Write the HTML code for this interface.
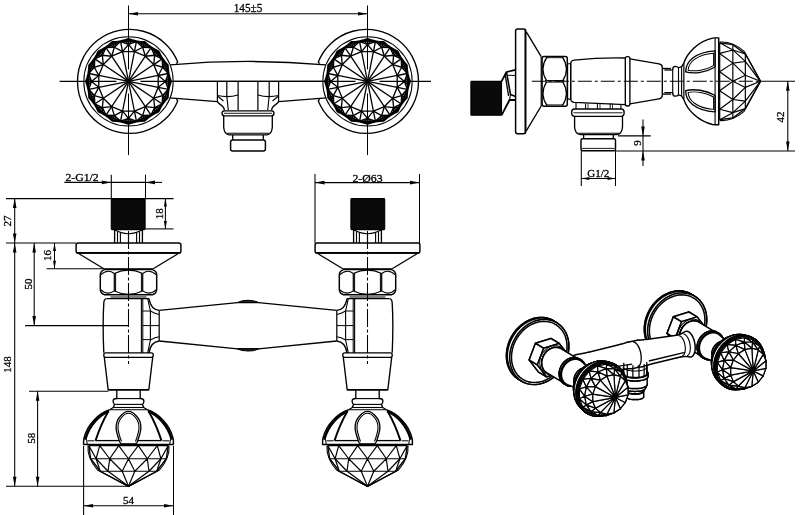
<!DOCTYPE html>
<html><head><meta charset="utf-8"><title>Drawing</title>
<style>html,body{margin:0;padding:0;background:#fff;}body{width:800px;height:515px;position:relative;overflow:hidden;font-family:"Liberation Sans",sans-serif;}svg{filter:blur(0.45px)}</style></head>
<body><svg width="800" height="515" viewBox="0 0 800 515" style="display:block;position:absolute;left:0;top:0" stroke-linecap="butt" stroke-linejoin="round"><line x1="128.5" y1="5.5" x2="128.5" y2="69.4" stroke="#000" stroke-width="1.06"/>
<line x1="128.5" y1="93.4" x2="128.5" y2="155" stroke="#000" stroke-width="1.06"/>
<line x1="367.5" y1="5.5" x2="367.5" y2="69.4" stroke="#000" stroke-width="1.06"/>
<line x1="367.5" y1="93.4" x2="367.5" y2="155" stroke="#000" stroke-width="1.06"/>
<line x1="128.5" y1="13.7" x2="367.5" y2="13.7" stroke="#000" stroke-width="1.06"/>
<path d="M128.5,13.7 L138,11.9 L138,15.5 Z" fill="#000" stroke="none"/>
<path d="M367.5,13.7 L358,15.5 L358,11.9 Z" fill="#000" stroke="none"/>
<text x="248" y="12.3" font-family="Liberation Serif" font-size="12" font-weight="normal" text-anchor="middle" fill="#000" stroke="#000" stroke-width="0.3" textLength="28.5" lengthAdjust="spacingAndGlyphs">145±5</text>
<line x1="59.6" y1="81.4" x2="116.4" y2="81.4" stroke="#000" stroke-width="1.06"/>
<line x1="140.5" y1="81.4" x2="355.5" y2="81.4" stroke="#000" stroke-width="1.06"/>
<line x1="379.5" y1="81.4" x2="431" y2="81.4" stroke="#000" stroke-width="1.06"/>
<line x1="172.8" y1="81.4" x2="323.2" y2="81.4" stroke="#000" stroke-width="1.34"/>
<path d="M176.41,63.72 L177.71,61.92 A52,52 0 1 0 177.71,100.88 L176.41,99.08" stroke="#000" stroke-width="1.34" fill="none"/>
<circle cx="128.5" cy="81.4" r="44.7" stroke="#000" stroke-width="1.01" fill="none"/>
<line x1="128.5" y1="81.4" x2="158.22" y2="87.31" stroke="#000" stroke-width="1.29"/>
<line x1="128.5" y1="81.4" x2="153.69" y2="98.23" stroke="#000" stroke-width="1.29"/>
<line x1="128.5" y1="81.4" x2="145.33" y2="106.59" stroke="#000" stroke-width="1.29"/>
<line x1="128.5" y1="81.4" x2="134.41" y2="111.12" stroke="#000" stroke-width="1.29"/>
<line x1="128.5" y1="81.4" x2="122.59" y2="111.12" stroke="#000" stroke-width="1.29"/>
<line x1="128.5" y1="81.4" x2="111.67" y2="106.59" stroke="#000" stroke-width="1.29"/>
<line x1="128.5" y1="81.4" x2="103.31" y2="98.23" stroke="#000" stroke-width="1.29"/>
<line x1="128.5" y1="81.4" x2="98.78" y2="87.31" stroke="#000" stroke-width="1.29"/>
<line x1="128.5" y1="81.4" x2="98.78" y2="75.49" stroke="#000" stroke-width="1.29"/>
<line x1="128.5" y1="81.4" x2="103.31" y2="64.57" stroke="#000" stroke-width="1.29"/>
<line x1="128.5" y1="81.4" x2="111.67" y2="56.21" stroke="#000" stroke-width="1.29"/>
<line x1="128.5" y1="81.4" x2="122.59" y2="51.68" stroke="#000" stroke-width="1.29"/>
<line x1="128.5" y1="81.4" x2="134.41" y2="51.68" stroke="#000" stroke-width="1.29"/>
<line x1="128.5" y1="81.4" x2="145.33" y2="56.21" stroke="#000" stroke-width="1.29"/>
<line x1="128.5" y1="81.4" x2="153.69" y2="64.57" stroke="#000" stroke-width="1.29"/>
<line x1="128.5" y1="81.4" x2="158.22" y2="75.49" stroke="#000" stroke-width="1.29"/>
<path d="M158.22,87.31 L153.69,98.23 L145.33,106.59 L134.41,111.12 L122.59,111.12 L111.67,106.59 L103.31,98.23 L98.78,87.31 L98.78,75.49 L103.31,64.57 L111.67,56.21 L122.59,51.68 L134.41,51.68 L145.33,56.21 L153.69,64.57 L158.22,75.49 Z" stroke="#000" stroke-width="1.34" fill="none"/>
<path d="M158.22,75.49 L165.5,81.4 L158.22,87.31" stroke="#000" stroke-width="1.34" fill="none"/>
<path d="M168.32,73.48 L165.5,81.4 L168.32,89.32" stroke="#000" stroke-width="1.46" fill="none"/>
<line x1="158.22" y1="87.31" x2="168.32" y2="89.32" stroke="#000" stroke-width="1.34"/>
<line x1="165.5" y1="81.4" x2="170.7" y2="81.4" stroke="#000" stroke-width="1.46"/>
<line x1="165.5" y1="81.4" x2="169.3" y2="85.42" stroke="#000" stroke-width="1.12"/>
<line x1="165.5" y1="81.4" x2="169.3" y2="77.38" stroke="#000" stroke-width="1.12"/>
<path d="M158.22,87.31 L162.68,95.56 L153.69,98.23" stroke="#000" stroke-width="1.34" fill="none"/>
<path d="M168.32,89.32 L162.68,95.56 L162.26,103.96" stroke="#000" stroke-width="1.46" fill="none"/>
<line x1="153.69" y1="98.23" x2="162.26" y2="103.96" stroke="#000" stroke-width="1.34"/>
<line x1="162.68" y1="95.56" x2="167.49" y2="97.55" stroke="#000" stroke-width="1.46"/>
<line x1="162.68" y1="95.56" x2="164.66" y2="100.73" stroke="#000" stroke-width="1.12"/>
<line x1="162.68" y1="95.56" x2="167.73" y2="93.3" stroke="#000" stroke-width="1.12"/>
<path d="M153.69,98.23 L154.66,107.56 L145.33,106.59" stroke="#000" stroke-width="1.34" fill="none"/>
<path d="M162.26,103.96 L154.66,107.56 L151.06,115.16" stroke="#000" stroke-width="1.46" fill="none"/>
<line x1="145.33" y1="106.59" x2="151.06" y2="115.16" stroke="#000" stroke-width="1.34"/>
<line x1="154.66" y1="107.56" x2="158.34" y2="111.24" stroke="#000" stroke-width="1.46"/>
<line x1="154.66" y1="107.56" x2="154.51" y2="113.09" stroke="#000" stroke-width="1.12"/>
<line x1="154.66" y1="107.56" x2="160.19" y2="107.41" stroke="#000" stroke-width="1.12"/>
<path d="M145.33,106.59 L142.66,115.58 L134.41,111.12" stroke="#000" stroke-width="1.34" fill="none"/>
<path d="M151.06,115.16 L142.66,115.58 L136.42,121.22" stroke="#000" stroke-width="1.46" fill="none"/>
<line x1="134.41" y1="111.12" x2="136.42" y2="121.22" stroke="#000" stroke-width="1.34"/>
<line x1="142.66" y1="115.58" x2="144.65" y2="120.39" stroke="#000" stroke-width="1.46"/>
<line x1="142.66" y1="115.58" x2="140.4" y2="120.63" stroke="#000" stroke-width="1.12"/>
<line x1="142.66" y1="115.58" x2="147.83" y2="117.56" stroke="#000" stroke-width="1.12"/>
<path d="M134.41,111.12 L128.5,118.4 L122.59,111.12" stroke="#000" stroke-width="1.34" fill="none"/>
<path d="M136.42,121.22 L128.5,118.4 L120.58,121.22" stroke="#000" stroke-width="1.46" fill="none"/>
<line x1="122.59" y1="111.12" x2="120.58" y2="121.22" stroke="#000" stroke-width="1.34"/>
<line x1="128.5" y1="118.4" x2="128.5" y2="123.6" stroke="#000" stroke-width="1.46"/>
<line x1="128.5" y1="118.4" x2="124.48" y2="122.2" stroke="#000" stroke-width="1.12"/>
<line x1="128.5" y1="118.4" x2="132.52" y2="122.2" stroke="#000" stroke-width="1.12"/>
<path d="M122.59,111.12 L114.34,115.58 L111.67,106.59" stroke="#000" stroke-width="1.34" fill="none"/>
<path d="M120.58,121.22 L114.34,115.58 L105.94,115.16" stroke="#000" stroke-width="1.46" fill="none"/>
<line x1="111.67" y1="106.59" x2="105.94" y2="115.16" stroke="#000" stroke-width="1.34"/>
<line x1="114.34" y1="115.58" x2="112.35" y2="120.39" stroke="#000" stroke-width="1.46"/>
<line x1="114.34" y1="115.58" x2="109.17" y2="117.56" stroke="#000" stroke-width="1.12"/>
<line x1="114.34" y1="115.58" x2="116.6" y2="120.63" stroke="#000" stroke-width="1.12"/>
<path d="M111.67,106.59 L102.34,107.56 L103.31,98.23" stroke="#000" stroke-width="1.34" fill="none"/>
<path d="M105.94,115.16 L102.34,107.56 L94.74,103.96" stroke="#000" stroke-width="1.46" fill="none"/>
<line x1="103.31" y1="98.23" x2="94.74" y2="103.96" stroke="#000" stroke-width="1.34"/>
<line x1="102.34" y1="107.56" x2="98.66" y2="111.24" stroke="#000" stroke-width="1.46"/>
<line x1="102.34" y1="107.56" x2="96.81" y2="107.41" stroke="#000" stroke-width="1.12"/>
<line x1="102.34" y1="107.56" x2="102.49" y2="113.09" stroke="#000" stroke-width="1.12"/>
<path d="M103.31,98.23 L94.32,95.56 L98.78,87.31" stroke="#000" stroke-width="1.34" fill="none"/>
<path d="M94.74,103.96 L94.32,95.56 L88.68,89.32" stroke="#000" stroke-width="1.46" fill="none"/>
<line x1="98.78" y1="87.31" x2="88.68" y2="89.32" stroke="#000" stroke-width="1.34"/>
<line x1="94.32" y1="95.56" x2="89.51" y2="97.55" stroke="#000" stroke-width="1.46"/>
<line x1="94.32" y1="95.56" x2="89.27" y2="93.3" stroke="#000" stroke-width="1.12"/>
<line x1="94.32" y1="95.56" x2="92.34" y2="100.73" stroke="#000" stroke-width="1.12"/>
<path d="M98.78,87.31 L91.5,81.4 L98.78,75.49" stroke="#000" stroke-width="1.34" fill="none"/>
<path d="M88.68,89.32 L91.5,81.4 L88.68,73.48" stroke="#000" stroke-width="1.46" fill="none"/>
<line x1="98.78" y1="75.49" x2="88.68" y2="73.48" stroke="#000" stroke-width="1.34"/>
<line x1="91.5" y1="81.4" x2="86.3" y2="81.4" stroke="#000" stroke-width="1.46"/>
<line x1="91.5" y1="81.4" x2="87.7" y2="77.38" stroke="#000" stroke-width="1.12"/>
<line x1="91.5" y1="81.4" x2="87.7" y2="85.42" stroke="#000" stroke-width="1.12"/>
<path d="M98.78,75.49 L94.32,67.24 L103.31,64.57" stroke="#000" stroke-width="1.34" fill="none"/>
<path d="M88.68,73.48 L94.32,67.24 L94.74,58.84" stroke="#000" stroke-width="1.46" fill="none"/>
<line x1="103.31" y1="64.57" x2="94.74" y2="58.84" stroke="#000" stroke-width="1.34"/>
<line x1="94.32" y1="67.24" x2="89.51" y2="65.25" stroke="#000" stroke-width="1.46"/>
<line x1="94.32" y1="67.24" x2="92.34" y2="62.07" stroke="#000" stroke-width="1.12"/>
<line x1="94.32" y1="67.24" x2="89.27" y2="69.5" stroke="#000" stroke-width="1.12"/>
<path d="M103.31,64.57 L102.34,55.24 L111.67,56.21" stroke="#000" stroke-width="1.34" fill="none"/>
<path d="M94.74,58.84 L102.34,55.24 L105.94,47.64" stroke="#000" stroke-width="1.46" fill="none"/>
<line x1="111.67" y1="56.21" x2="105.94" y2="47.64" stroke="#000" stroke-width="1.34"/>
<line x1="102.34" y1="55.24" x2="98.66" y2="51.56" stroke="#000" stroke-width="1.46"/>
<line x1="102.34" y1="55.24" x2="102.49" y2="49.71" stroke="#000" stroke-width="1.12"/>
<line x1="102.34" y1="55.24" x2="96.81" y2="55.39" stroke="#000" stroke-width="1.12"/>
<path d="M111.67,56.21 L114.34,47.22 L122.59,51.68" stroke="#000" stroke-width="1.34" fill="none"/>
<path d="M105.94,47.64 L114.34,47.22 L120.58,41.58" stroke="#000" stroke-width="1.46" fill="none"/>
<line x1="122.59" y1="51.68" x2="120.58" y2="41.58" stroke="#000" stroke-width="1.34"/>
<line x1="114.34" y1="47.22" x2="112.35" y2="42.41" stroke="#000" stroke-width="1.46"/>
<line x1="114.34" y1="47.22" x2="116.6" y2="42.17" stroke="#000" stroke-width="1.12"/>
<line x1="114.34" y1="47.22" x2="109.17" y2="45.24" stroke="#000" stroke-width="1.12"/>
<path d="M122.59,51.68 L128.5,44.4 L134.41,51.68" stroke="#000" stroke-width="1.34" fill="none"/>
<path d="M120.58,41.58 L128.5,44.4 L136.42,41.58" stroke="#000" stroke-width="1.46" fill="none"/>
<line x1="134.41" y1="51.68" x2="136.42" y2="41.58" stroke="#000" stroke-width="1.34"/>
<line x1="128.5" y1="44.4" x2="128.5" y2="39.2" stroke="#000" stroke-width="1.46"/>
<line x1="128.5" y1="44.4" x2="132.52" y2="40.6" stroke="#000" stroke-width="1.12"/>
<line x1="128.5" y1="44.4" x2="124.48" y2="40.6" stroke="#000" stroke-width="1.12"/>
<path d="M134.41,51.68 L142.66,47.22 L145.33,56.21" stroke="#000" stroke-width="1.34" fill="none"/>
<path d="M136.42,41.58 L142.66,47.22 L151.06,47.64" stroke="#000" stroke-width="1.46" fill="none"/>
<line x1="145.33" y1="56.21" x2="151.06" y2="47.64" stroke="#000" stroke-width="1.34"/>
<line x1="142.66" y1="47.22" x2="144.65" y2="42.41" stroke="#000" stroke-width="1.46"/>
<line x1="142.66" y1="47.22" x2="147.83" y2="45.24" stroke="#000" stroke-width="1.12"/>
<line x1="142.66" y1="47.22" x2="140.4" y2="42.17" stroke="#000" stroke-width="1.12"/>
<path d="M145.33,56.21 L154.66,55.24 L153.69,64.57" stroke="#000" stroke-width="1.34" fill="none"/>
<path d="M151.06,47.64 L154.66,55.24 L162.26,58.84" stroke="#000" stroke-width="1.46" fill="none"/>
<line x1="153.69" y1="64.57" x2="162.26" y2="58.84" stroke="#000" stroke-width="1.34"/>
<line x1="154.66" y1="55.24" x2="158.34" y2="51.56" stroke="#000" stroke-width="1.46"/>
<line x1="154.66" y1="55.24" x2="160.19" y2="55.39" stroke="#000" stroke-width="1.12"/>
<line x1="154.66" y1="55.24" x2="154.51" y2="49.71" stroke="#000" stroke-width="1.12"/>
<path d="M153.69,64.57 L162.68,67.24 L158.22,75.49" stroke="#000" stroke-width="1.34" fill="none"/>
<path d="M162.26,58.84 L162.68,67.24 L168.32,73.48" stroke="#000" stroke-width="1.46" fill="none"/>
<line x1="158.22" y1="75.49" x2="168.32" y2="73.48" stroke="#000" stroke-width="1.34"/>
<line x1="162.68" y1="67.24" x2="167.49" y2="65.25" stroke="#000" stroke-width="1.46"/>
<line x1="162.68" y1="67.24" x2="167.73" y2="69.5" stroke="#000" stroke-width="1.12"/>
<line x1="162.68" y1="67.24" x2="164.66" y2="62.07" stroke="#000" stroke-width="1.12"/>
<path d="M168.32,89.32 L162.26,103.96 L151.06,115.16 L136.42,121.22 L120.58,121.22 L105.94,115.16 L94.74,103.96 L88.68,89.32 L88.68,73.48 L94.74,58.84 L105.94,47.64 L120.58,41.58 L136.42,41.58 L151.06,47.64 L162.26,58.84 L168.32,73.48 Z" stroke="#000" stroke-width="1.46" fill="none"/>
<path d="M169.3,77.38 L170.7,81.4 L169.3,85.42 L168.32,89.32 L167.73,93.3 L167.49,97.55 L164.66,100.73 L162.26,103.96 L160.19,107.41 L158.34,111.24 L154.51,113.09 L151.06,115.16 L147.83,117.56 L144.65,120.39 L140.4,120.63 L136.42,121.22 L132.52,122.2 L128.5,123.6 L124.48,122.2 L120.58,121.22 L116.6,120.63 L112.35,120.39 L109.17,117.56 L105.94,115.16 L102.49,113.09 L98.66,111.24 L96.81,107.41 L94.74,103.96 L92.34,100.73 L89.51,97.55 L89.27,93.3 L88.68,89.32 L87.7,85.42 L86.3,81.4 L87.7,77.38 L88.68,73.48 L89.27,69.5 L89.51,65.25 L92.34,62.07 L94.74,58.84 L96.81,55.39 L98.66,51.56 L102.49,49.71 L105.94,47.64 L109.17,45.24 L112.35,42.41 L116.6,42.17 L120.58,41.58 L124.48,40.6 L128.5,39.2 L132.52,40.6 L136.42,41.58 L140.4,42.17 L144.65,42.41 L147.83,45.24 L151.06,47.64 L154.51,49.71 L158.34,51.56 L160.19,55.39 L162.26,58.84 L164.66,62.07 L167.49,65.25 L167.73,69.5 L168.32,73.48 Z" stroke="#000" stroke-width="2.58" fill="none"/>
<circle cx="128.5" cy="81.4" r="1.8" stroke="#000" stroke-width="0" fill="#000"/>
<path d="M319.59,63.72 L318.29,61.92 A52,52 0 1 1 318.29,100.88 L319.59,99.08" stroke="#000" stroke-width="1.34" fill="none"/>
<circle cx="367.5" cy="81.4" r="44.7" stroke="#000" stroke-width="1.01" fill="none"/>
<line x1="367.5" y1="81.4" x2="397.22" y2="87.31" stroke="#000" stroke-width="1.29"/>
<line x1="367.5" y1="81.4" x2="392.69" y2="98.23" stroke="#000" stroke-width="1.29"/>
<line x1="367.5" y1="81.4" x2="384.33" y2="106.59" stroke="#000" stroke-width="1.29"/>
<line x1="367.5" y1="81.4" x2="373.41" y2="111.12" stroke="#000" stroke-width="1.29"/>
<line x1="367.5" y1="81.4" x2="361.59" y2="111.12" stroke="#000" stroke-width="1.29"/>
<line x1="367.5" y1="81.4" x2="350.67" y2="106.59" stroke="#000" stroke-width="1.29"/>
<line x1="367.5" y1="81.4" x2="342.31" y2="98.23" stroke="#000" stroke-width="1.29"/>
<line x1="367.5" y1="81.4" x2="337.78" y2="87.31" stroke="#000" stroke-width="1.29"/>
<line x1="367.5" y1="81.4" x2="337.78" y2="75.49" stroke="#000" stroke-width="1.29"/>
<line x1="367.5" y1="81.4" x2="342.31" y2="64.57" stroke="#000" stroke-width="1.29"/>
<line x1="367.5" y1="81.4" x2="350.67" y2="56.21" stroke="#000" stroke-width="1.29"/>
<line x1="367.5" y1="81.4" x2="361.59" y2="51.68" stroke="#000" stroke-width="1.29"/>
<line x1="367.5" y1="81.4" x2="373.41" y2="51.68" stroke="#000" stroke-width="1.29"/>
<line x1="367.5" y1="81.4" x2="384.33" y2="56.21" stroke="#000" stroke-width="1.29"/>
<line x1="367.5" y1="81.4" x2="392.69" y2="64.57" stroke="#000" stroke-width="1.29"/>
<line x1="367.5" y1="81.4" x2="397.22" y2="75.49" stroke="#000" stroke-width="1.29"/>
<path d="M397.22,87.31 L392.69,98.23 L384.33,106.59 L373.41,111.12 L361.59,111.12 L350.67,106.59 L342.31,98.23 L337.78,87.31 L337.78,75.49 L342.31,64.57 L350.67,56.21 L361.59,51.68 L373.41,51.68 L384.33,56.21 L392.69,64.57 L397.22,75.49 Z" stroke="#000" stroke-width="1.34" fill="none"/>
<path d="M397.22,75.49 L404.5,81.4 L397.22,87.31" stroke="#000" stroke-width="1.34" fill="none"/>
<path d="M407.32,73.48 L404.5,81.4 L407.32,89.32" stroke="#000" stroke-width="1.46" fill="none"/>
<line x1="397.22" y1="87.31" x2="407.32" y2="89.32" stroke="#000" stroke-width="1.34"/>
<line x1="404.5" y1="81.4" x2="409.7" y2="81.4" stroke="#000" stroke-width="1.46"/>
<line x1="404.5" y1="81.4" x2="408.3" y2="85.42" stroke="#000" stroke-width="1.12"/>
<line x1="404.5" y1="81.4" x2="408.3" y2="77.38" stroke="#000" stroke-width="1.12"/>
<path d="M397.22,87.31 L401.68,95.56 L392.69,98.23" stroke="#000" stroke-width="1.34" fill="none"/>
<path d="M407.32,89.32 L401.68,95.56 L401.26,103.96" stroke="#000" stroke-width="1.46" fill="none"/>
<line x1="392.69" y1="98.23" x2="401.26" y2="103.96" stroke="#000" stroke-width="1.34"/>
<line x1="401.68" y1="95.56" x2="406.49" y2="97.55" stroke="#000" stroke-width="1.46"/>
<line x1="401.68" y1="95.56" x2="403.66" y2="100.73" stroke="#000" stroke-width="1.12"/>
<line x1="401.68" y1="95.56" x2="406.73" y2="93.3" stroke="#000" stroke-width="1.12"/>
<path d="M392.69,98.23 L393.66,107.56 L384.33,106.59" stroke="#000" stroke-width="1.34" fill="none"/>
<path d="M401.26,103.96 L393.66,107.56 L390.06,115.16" stroke="#000" stroke-width="1.46" fill="none"/>
<line x1="384.33" y1="106.59" x2="390.06" y2="115.16" stroke="#000" stroke-width="1.34"/>
<line x1="393.66" y1="107.56" x2="397.34" y2="111.24" stroke="#000" stroke-width="1.46"/>
<line x1="393.66" y1="107.56" x2="393.51" y2="113.09" stroke="#000" stroke-width="1.12"/>
<line x1="393.66" y1="107.56" x2="399.19" y2="107.41" stroke="#000" stroke-width="1.12"/>
<path d="M384.33,106.59 L381.66,115.58 L373.41,111.12" stroke="#000" stroke-width="1.34" fill="none"/>
<path d="M390.06,115.16 L381.66,115.58 L375.42,121.22" stroke="#000" stroke-width="1.46" fill="none"/>
<line x1="373.41" y1="111.12" x2="375.42" y2="121.22" stroke="#000" stroke-width="1.34"/>
<line x1="381.66" y1="115.58" x2="383.65" y2="120.39" stroke="#000" stroke-width="1.46"/>
<line x1="381.66" y1="115.58" x2="379.4" y2="120.63" stroke="#000" stroke-width="1.12"/>
<line x1="381.66" y1="115.58" x2="386.83" y2="117.56" stroke="#000" stroke-width="1.12"/>
<path d="M373.41,111.12 L367.5,118.4 L361.59,111.12" stroke="#000" stroke-width="1.34" fill="none"/>
<path d="M375.42,121.22 L367.5,118.4 L359.58,121.22" stroke="#000" stroke-width="1.46" fill="none"/>
<line x1="361.59" y1="111.12" x2="359.58" y2="121.22" stroke="#000" stroke-width="1.34"/>
<line x1="367.5" y1="118.4" x2="367.5" y2="123.6" stroke="#000" stroke-width="1.46"/>
<line x1="367.5" y1="118.4" x2="363.48" y2="122.2" stroke="#000" stroke-width="1.12"/>
<line x1="367.5" y1="118.4" x2="371.52" y2="122.2" stroke="#000" stroke-width="1.12"/>
<path d="M361.59,111.12 L353.34,115.58 L350.67,106.59" stroke="#000" stroke-width="1.34" fill="none"/>
<path d="M359.58,121.22 L353.34,115.58 L344.94,115.16" stroke="#000" stroke-width="1.46" fill="none"/>
<line x1="350.67" y1="106.59" x2="344.94" y2="115.16" stroke="#000" stroke-width="1.34"/>
<line x1="353.34" y1="115.58" x2="351.35" y2="120.39" stroke="#000" stroke-width="1.46"/>
<line x1="353.34" y1="115.58" x2="348.17" y2="117.56" stroke="#000" stroke-width="1.12"/>
<line x1="353.34" y1="115.58" x2="355.6" y2="120.63" stroke="#000" stroke-width="1.12"/>
<path d="M350.67,106.59 L341.34,107.56 L342.31,98.23" stroke="#000" stroke-width="1.34" fill="none"/>
<path d="M344.94,115.16 L341.34,107.56 L333.74,103.96" stroke="#000" stroke-width="1.46" fill="none"/>
<line x1="342.31" y1="98.23" x2="333.74" y2="103.96" stroke="#000" stroke-width="1.34"/>
<line x1="341.34" y1="107.56" x2="337.66" y2="111.24" stroke="#000" stroke-width="1.46"/>
<line x1="341.34" y1="107.56" x2="335.81" y2="107.41" stroke="#000" stroke-width="1.12"/>
<line x1="341.34" y1="107.56" x2="341.49" y2="113.09" stroke="#000" stroke-width="1.12"/>
<path d="M342.31,98.23 L333.32,95.56 L337.78,87.31" stroke="#000" stroke-width="1.34" fill="none"/>
<path d="M333.74,103.96 L333.32,95.56 L327.68,89.32" stroke="#000" stroke-width="1.46" fill="none"/>
<line x1="337.78" y1="87.31" x2="327.68" y2="89.32" stroke="#000" stroke-width="1.34"/>
<line x1="333.32" y1="95.56" x2="328.51" y2="97.55" stroke="#000" stroke-width="1.46"/>
<line x1="333.32" y1="95.56" x2="328.27" y2="93.3" stroke="#000" stroke-width="1.12"/>
<line x1="333.32" y1="95.56" x2="331.34" y2="100.73" stroke="#000" stroke-width="1.12"/>
<path d="M337.78,87.31 L330.5,81.4 L337.78,75.49" stroke="#000" stroke-width="1.34" fill="none"/>
<path d="M327.68,89.32 L330.5,81.4 L327.68,73.48" stroke="#000" stroke-width="1.46" fill="none"/>
<line x1="337.78" y1="75.49" x2="327.68" y2="73.48" stroke="#000" stroke-width="1.34"/>
<line x1="330.5" y1="81.4" x2="325.3" y2="81.4" stroke="#000" stroke-width="1.46"/>
<line x1="330.5" y1="81.4" x2="326.7" y2="77.38" stroke="#000" stroke-width="1.12"/>
<line x1="330.5" y1="81.4" x2="326.7" y2="85.42" stroke="#000" stroke-width="1.12"/>
<path d="M337.78,75.49 L333.32,67.24 L342.31,64.57" stroke="#000" stroke-width="1.34" fill="none"/>
<path d="M327.68,73.48 L333.32,67.24 L333.74,58.84" stroke="#000" stroke-width="1.46" fill="none"/>
<line x1="342.31" y1="64.57" x2="333.74" y2="58.84" stroke="#000" stroke-width="1.34"/>
<line x1="333.32" y1="67.24" x2="328.51" y2="65.25" stroke="#000" stroke-width="1.46"/>
<line x1="333.32" y1="67.24" x2="331.34" y2="62.07" stroke="#000" stroke-width="1.12"/>
<line x1="333.32" y1="67.24" x2="328.27" y2="69.5" stroke="#000" stroke-width="1.12"/>
<path d="M342.31,64.57 L341.34,55.24 L350.67,56.21" stroke="#000" stroke-width="1.34" fill="none"/>
<path d="M333.74,58.84 L341.34,55.24 L344.94,47.64" stroke="#000" stroke-width="1.46" fill="none"/>
<line x1="350.67" y1="56.21" x2="344.94" y2="47.64" stroke="#000" stroke-width="1.34"/>
<line x1="341.34" y1="55.24" x2="337.66" y2="51.56" stroke="#000" stroke-width="1.46"/>
<line x1="341.34" y1="55.24" x2="341.49" y2="49.71" stroke="#000" stroke-width="1.12"/>
<line x1="341.34" y1="55.24" x2="335.81" y2="55.39" stroke="#000" stroke-width="1.12"/>
<path d="M350.67,56.21 L353.34,47.22 L361.59,51.68" stroke="#000" stroke-width="1.34" fill="none"/>
<path d="M344.94,47.64 L353.34,47.22 L359.58,41.58" stroke="#000" stroke-width="1.46" fill="none"/>
<line x1="361.59" y1="51.68" x2="359.58" y2="41.58" stroke="#000" stroke-width="1.34"/>
<line x1="353.34" y1="47.22" x2="351.35" y2="42.41" stroke="#000" stroke-width="1.46"/>
<line x1="353.34" y1="47.22" x2="355.6" y2="42.17" stroke="#000" stroke-width="1.12"/>
<line x1="353.34" y1="47.22" x2="348.17" y2="45.24" stroke="#000" stroke-width="1.12"/>
<path d="M361.59,51.68 L367.5,44.4 L373.41,51.68" stroke="#000" stroke-width="1.34" fill="none"/>
<path d="M359.58,41.58 L367.5,44.4 L375.42,41.58" stroke="#000" stroke-width="1.46" fill="none"/>
<line x1="373.41" y1="51.68" x2="375.42" y2="41.58" stroke="#000" stroke-width="1.34"/>
<line x1="367.5" y1="44.4" x2="367.5" y2="39.2" stroke="#000" stroke-width="1.46"/>
<line x1="367.5" y1="44.4" x2="371.52" y2="40.6" stroke="#000" stroke-width="1.12"/>
<line x1="367.5" y1="44.4" x2="363.48" y2="40.6" stroke="#000" stroke-width="1.12"/>
<path d="M373.41,51.68 L381.66,47.22 L384.33,56.21" stroke="#000" stroke-width="1.34" fill="none"/>
<path d="M375.42,41.58 L381.66,47.22 L390.06,47.64" stroke="#000" stroke-width="1.46" fill="none"/>
<line x1="384.33" y1="56.21" x2="390.06" y2="47.64" stroke="#000" stroke-width="1.34"/>
<line x1="381.66" y1="47.22" x2="383.65" y2="42.41" stroke="#000" stroke-width="1.46"/>
<line x1="381.66" y1="47.22" x2="386.83" y2="45.24" stroke="#000" stroke-width="1.12"/>
<line x1="381.66" y1="47.22" x2="379.4" y2="42.17" stroke="#000" stroke-width="1.12"/>
<path d="M384.33,56.21 L393.66,55.24 L392.69,64.57" stroke="#000" stroke-width="1.34" fill="none"/>
<path d="M390.06,47.64 L393.66,55.24 L401.26,58.84" stroke="#000" stroke-width="1.46" fill="none"/>
<line x1="392.69" y1="64.57" x2="401.26" y2="58.84" stroke="#000" stroke-width="1.34"/>
<line x1="393.66" y1="55.24" x2="397.34" y2="51.56" stroke="#000" stroke-width="1.46"/>
<line x1="393.66" y1="55.24" x2="399.19" y2="55.39" stroke="#000" stroke-width="1.12"/>
<line x1="393.66" y1="55.24" x2="393.51" y2="49.71" stroke="#000" stroke-width="1.12"/>
<path d="M392.69,64.57 L401.68,67.24 L397.22,75.49" stroke="#000" stroke-width="1.34" fill="none"/>
<path d="M401.26,58.84 L401.68,67.24 L407.32,73.48" stroke="#000" stroke-width="1.46" fill="none"/>
<line x1="397.22" y1="75.49" x2="407.32" y2="73.48" stroke="#000" stroke-width="1.34"/>
<line x1="401.68" y1="67.24" x2="406.49" y2="65.25" stroke="#000" stroke-width="1.46"/>
<line x1="401.68" y1="67.24" x2="406.73" y2="69.5" stroke="#000" stroke-width="1.12"/>
<line x1="401.68" y1="67.24" x2="403.66" y2="62.07" stroke="#000" stroke-width="1.12"/>
<path d="M407.32,89.32 L401.26,103.96 L390.06,115.16 L375.42,121.22 L359.58,121.22 L344.94,115.16 L333.74,103.96 L327.68,89.32 L327.68,73.48 L333.74,58.84 L344.94,47.64 L359.58,41.58 L375.42,41.58 L390.06,47.64 L401.26,58.84 L407.32,73.48 Z" stroke="#000" stroke-width="1.46" fill="none"/>
<path d="M408.3,77.38 L409.7,81.4 L408.3,85.42 L407.32,89.32 L406.73,93.3 L406.49,97.55 L403.66,100.73 L401.26,103.96 L399.19,107.41 L397.34,111.24 L393.51,113.09 L390.06,115.16 L386.83,117.56 L383.65,120.39 L379.4,120.63 L375.42,121.22 L371.52,122.2 L367.5,123.6 L363.48,122.2 L359.58,121.22 L355.6,120.63 L351.35,120.39 L348.17,117.56 L344.94,115.16 L341.49,113.09 L337.66,111.24 L335.81,107.41 L333.74,103.96 L331.34,100.73 L328.51,97.55 L328.27,93.3 L327.68,89.32 L326.7,85.42 L325.3,81.4 L326.7,77.38 L327.68,73.48 L328.27,69.5 L328.51,65.25 L331.34,62.07 L333.74,58.84 L335.81,55.39 L337.66,51.56 L341.49,49.71 L344.94,47.64 L348.17,45.24 L351.35,42.41 L355.6,42.17 L359.58,41.58 L363.48,40.6 L367.5,39.2 L371.52,40.6 L375.42,41.58 L379.4,42.17 L383.65,42.41 L386.83,45.24 L390.06,47.64 L393.51,49.71 L397.34,51.56 L399.19,55.39 L401.26,58.84 L403.66,62.07 L406.49,65.25 L406.73,69.5 L407.32,73.48 Z" stroke="#000" stroke-width="2.58" fill="none"/>
<circle cx="367.5" cy="81.4" r="1.8" stroke="#000" stroke-width="0" fill="#000"/>
<path d="M170.2,64.9 Q248,58 325.8,64.9" stroke="#000" stroke-width="1.34" fill="none"/>
<path d="M169.6,97.9 L217.4,101.6 C219,105 224.4,105 224.4,110.5" stroke="#000" stroke-width="1.34" fill="none"/>
<path d="M326.4,97.9 L278.6,101.6 C277,105 271.6,105 271.6,110.5" stroke="#000" stroke-width="1.34" fill="none"/>
<line x1="217.4" y1="81.4" x2="217.4" y2="101.6" stroke="#000" stroke-width="1.23"/>
<line x1="278.6" y1="81.4" x2="278.6" y2="101.6" stroke="#000" stroke-width="1.23"/>
<line x1="226.8" y1="81.4" x2="226.8" y2="96" stroke="#000" stroke-width="1.23"/>
<line x1="269.2" y1="81.4" x2="269.2" y2="96" stroke="#000" stroke-width="1.23"/>
<line x1="238.1" y1="81.4" x2="238.1" y2="110" stroke="#000" stroke-width="1.23"/>
<line x1="257.9" y1="81.4" x2="257.9" y2="110" stroke="#000" stroke-width="1.23"/>
<path d="M217.4,95.5 Q228,98 238.1,95" stroke="#000" stroke-width="1.12" fill="none"/>
<path d="M278.6,95.5 Q268,98 257.9,95" stroke="#000" stroke-width="1.12" fill="none"/>
<path d="M226.8,96 L228.3,110" stroke="#000" stroke-width="1.12" fill="none"/>
<path d="M269.2,96 L267.7,110" stroke="#000" stroke-width="1.12" fill="none"/>
<path d="M217.4,96 L223.5,101" stroke="#000" stroke-width="1.12" fill="none"/>
<path d="M278.6,96 L272.5,101" stroke="#000" stroke-width="1.12" fill="none"/>
<rect x="222" y="110.8" width="52" height="5" rx="2.5" stroke="#000" stroke-width="1.34" fill="none"/>
<line x1="224" y1="113.3" x2="272" y2="113.3" stroke="#000" stroke-width="0.9"/>
<path d="M223.7,116 L223.7,127 Q224,134 229,134.8 L267,134.8 Q272,134 272.3,127 L272.3,116" stroke="#000" stroke-width="1.34" fill="none"/>
<line x1="227" y1="133.3" x2="269" y2="133.3" stroke="#000" stroke-width="1.01"/>
<line x1="232.7" y1="135" x2="232.7" y2="140" stroke="#000" stroke-width="1.34"/>
<line x1="263.3" y1="135" x2="263.3" y2="140" stroke="#000" stroke-width="1.34"/>
<rect x="230.6" y="140" width="34.8" height="11" rx="2" stroke="#000" stroke-width="1.46" fill="none"/>
<g transform="translate(128.5,0)">
<rect x="-17.2" y="198.6" width="33.8" height="31" rx="0.8" stroke="#000" stroke-width="1.12" fill="#0a0a0a"/>
<line x1="-13.9" y1="229.6" x2="-13.9" y2="243" stroke="#000" stroke-width="1.34"/>
<line x1="-11" y1="231.5" x2="-11" y2="243" stroke="#000" stroke-width="1.12"/>
<line x1="-8.1" y1="233" x2="-8.1" y2="243" stroke="#000" stroke-width="1.12"/>
<line x1="13.9" y1="229.6" x2="13.9" y2="243" stroke="#000" stroke-width="1.34"/>
<line x1="11" y1="231.5" x2="11" y2="243" stroke="#000" stroke-width="1.12"/>
<line x1="8.1" y1="233" x2="8.1" y2="243" stroke="#000" stroke-width="1.12"/>
<path d="M-14.6,229.6 Q0,238 14.6,229.6 Z" stroke="#000" stroke-width="1.12" fill="#fff"/>
<line x1="0" y1="233.5" x2="0" y2="243" stroke="#000" stroke-width="1.12"/>
<rect x="-52.4" y="243.1" width="104.8" height="10" rx="2" stroke="#000" stroke-width="1.46" fill="none"/>
<line x1="-52" y1="252.9" x2="52" y2="252.9" stroke="#000" stroke-width="1.68"/>
<line x1="-49.5" y1="253.8" x2="-24.7" y2="268.7" stroke="#000" stroke-width="1.34"/>
<line x1="49.5" y1="253.8" x2="24.7" y2="268.7" stroke="#000" stroke-width="1.34"/>
<line x1="-24.7" y1="268.7" x2="24.7" y2="268.7" stroke="#000" stroke-width="1.12"/>
<path d="M-23.9,269.6 L23.9,269.6 Q28.2,270.8 28.2,275.1 L28.2,289.3 Q28.2,293.6 23.9,294.8 L-23.9,294.8 Q-28.2,293.6 -28.2,289.3 L-28.2,275.1 Q-28.2,270.8 -23.9,269.6 Z" stroke="#000" stroke-width="1.46" fill="none"/>
<line x1="-14.2" y1="273.4" x2="-14.2" y2="291" stroke="#000" stroke-width="1.23"/>
<line x1="14.2" y1="273.4" x2="14.2" y2="291" stroke="#000" stroke-width="1.23"/>
<line x1="-12.9" y1="272.9" x2="-12.9" y2="291.5" stroke="#000" stroke-width="1.01"/>
<line x1="12.9" y1="272.9" x2="12.9" y2="291.5" stroke="#000" stroke-width="1.01"/>
<path d="M-14.2,273.5 Q0,266.8 14.2,273.5" stroke="#000" stroke-width="1.12" fill="none"/>
<path d="M-14.2,290.90000000000003 Q0,297.6 14.2,290.90000000000003" stroke="#000" stroke-width="1.12" fill="none"/>
<path d="M-14.2,273.5 Q-21,268.40000000000003 -28.2,275.1" stroke="#000" stroke-width="1.12" fill="none"/>
<path d="M-14.2,290.90000000000003 Q-21,296.0 -28.2,289.3" stroke="#000" stroke-width="1.12" fill="none"/>
<path d="M14.2,273.5 Q21,268.40000000000003 28.2,275.1" stroke="#000" stroke-width="1.12" fill="none"/>
<path d="M14.2,290.90000000000003 Q21,296.0 28.2,289.3" stroke="#000" stroke-width="1.12" fill="none"/>
<path d="M-22,298.6 Q-24.5,299 -24.7,303 Q-26,325 -24.7,352.8" stroke="#000" stroke-width="1.34" fill="none"/>
<path d="M-22,298.6 L20.5,298.6" stroke="#000" stroke-width="1.12" fill="none"/>
<line x1="12.9" y1="298.6" x2="12.9" y2="352.8" stroke="#000" stroke-width="1.12"/>
<line x1="14.3" y1="298.6" x2="14.3" y2="352.8" stroke="#000" stroke-width="1.01"/>
<path d="M19.2,298.6 L21.9,311 L21.9,340 L19.2,352.8" stroke="#000" stroke-width="1.12" fill="none"/>
<line x1="14" y1="311" x2="21.9" y2="311" stroke="#000" stroke-width="1.01"/>
<line x1="14" y1="325.6" x2="21.9" y2="325.6" stroke="#000" stroke-width="1.01"/>
<line x1="14" y1="339.6" x2="21.9" y2="339.6" stroke="#000" stroke-width="1.01"/>
<line x1="21.9" y1="325.6" x2="30.7" y2="325.6" stroke="#000" stroke-width="1.01"/>
<path d="M20.5,298.6 C21.5,305 25,309.8 30.7,310.4" stroke="#000" stroke-width="1.34" fill="none"/>
<path d="M20.5,352.8 C21.5,346.5 25,341.6 30.7,341" stroke="#000" stroke-width="1.34" fill="none"/>
<path d="M21.9,311 Q26.5,313.8 30.7,314.5" stroke="#000" stroke-width="1.01" fill="none"/>
<path d="M21.9,340 Q26.5,337.4 30.7,336.8" stroke="#000" stroke-width="1.01" fill="none"/>
<line x1="30.7" y1="310.4" x2="30.7" y2="341" stroke="#000" stroke-width="1.23"/>
<line x1="-18" y1="297" x2="18" y2="297" stroke="#000" stroke-width="1.12"/>
<rect x="-24.7" y="352.8" width="49.4" height="4.6" rx="2" stroke="#000" stroke-width="1.34" fill="none"/>
<path d="M-24.2,357.4 L-20.3,389.8 L20.3,389.8 L24.2,357.4" stroke="#000" stroke-width="1.34" fill="none"/>
<line x1="-20.3" y1="389.8" x2="20.3" y2="389.8" stroke="#000" stroke-width="1.46"/>
<line x1="-11.7" y1="390.3" x2="-11.7" y2="398.5" stroke="#000" stroke-width="1.34"/>
<line x1="11.7" y1="390.3" x2="11.7" y2="398.5" stroke="#000" stroke-width="1.34"/>
<path d="M-11.7,398.5 Q-15.3,398.6 -15.4,401 Q-15.4,403.5 -14,404.4 L-15.2,407.5 L-18.9,409.75" stroke="#000" stroke-width="1.34" fill="none"/>
<path d="M11.7,398.5 Q15.3,398.6 15.4,401 Q15.4,403.5 14,404.4 L15.2,407.5 L18.9,409.75" stroke="#000" stroke-width="1.34" fill="none"/>
<line x1="-12" y1="398.6" x2="12" y2="398.6" stroke="#000" stroke-width="1.12"/>
<line x1="-14" y1="404.4" x2="14" y2="404.4" stroke="#000" stroke-width="1.12"/>
<line x1="-15.2" y1="407.5" x2="15.2" y2="407.5" stroke="#000" stroke-width="1.12"/>
<line x1="-18.9" y1="409.75" x2="18.9" y2="409.75" stroke="#000" stroke-width="1.23"/>
<path d="M-18.9,409.75 C-29,413 -41.5,424 -44.6,438.5 L-44.9,441 L-44.9,444.6 L44.9,444.6 L44.9,441 L44.6,438.5 C41.5,424 29,413 18.9,409.75" stroke="#000" stroke-width="1.46" fill="none"/>
<path d="M-19.5,411 C-28.5,414.5 -39.5,425 -43,439" stroke="#000" stroke-width="2.46" fill="none"/>
<path d="M-44.6,438.8 L-42,439.5 L-41.2,444.6" stroke="#000" stroke-width="1.01" fill="none"/>
<path d="M-20.5,411.9 Q-27.5,424 -33,440.6" stroke="#000" stroke-width="1.9" fill="none"/>
<line x1="-33" y1="440.6" x2="-9.3" y2="440.6" stroke="#000" stroke-width="1.34"/>
<line x1="-41" y1="440.8" x2="-34" y2="440.8" stroke="#000" stroke-width="1.01"/>
<path d="M19.5,411 C28.5,414.5 39.5,425 43,439" stroke="#000" stroke-width="2.46" fill="none"/>
<path d="M44.6,438.8 L42,439.5 L41.2,444.6" stroke="#000" stroke-width="1.01" fill="none"/>
<path d="M20.5,411.9 Q27.5,424 33,440.6" stroke="#000" stroke-width="1.9" fill="none"/>
<line x1="33" y1="440.6" x2="9.3" y2="440.6" stroke="#000" stroke-width="1.34"/>
<line x1="41" y1="440.8" x2="34" y2="440.8" stroke="#000" stroke-width="1.01"/>
<path d="M-8.75,441.9 C-10.5,437 -12.4,432 -12.4,427.5 C-12.4,422 -10.5,419 -8.75,417 C-6,413.5 -2.5,411.3 0,411.3 C2.5,411.3 6,413.5 8.75,417 C10.5,419 12.4,422 12.4,427.5 C12.4,432 10.5,437 8.75,441.9" stroke="#000" stroke-width="1.34" fill="none"/>
<path d="M-7,441.5 C-8.7,437 -10.5,432 -10.5,427.5 C-10.5,422.5 -9,420 -7.3,418 C-5,415 -2,413.3 0,413.3 C2,413.3 5,415 7.3,418 C9,420 10.5,422.5 10.5,427.5 C10.5,432 8.7,437 7,441.5" stroke="#000" stroke-width="1.12" fill="none"/>
<path d="M-8.75,441.9 Q-8.5,443.7 -6.5,443.75 L6.5,443.75 Q8.5,443.7 8.75,441.9" stroke="#000" stroke-width="1.23" fill="none"/>
<line x1="-39.7" y1="445.6" x2="39.7" y2="445.6" stroke="#000" stroke-width="1.18"/>
<line x1="-37.8" y1="458.75" x2="37.8" y2="458.75" stroke="#000" stroke-width="1.18"/>
<line x1="-28.2" y1="471.25" x2="28.2" y2="471.25" stroke="#000" stroke-width="1.18"/>
<path d="M-39.7,445.6 L-37.8,458.75 L-28.2,471.25 L0,486.3 L28.2,471.25 L37.8,458.75 L39.7,445.6" stroke="#000" stroke-width="1.34" fill="none"/>
<path d="M-40.5,445.6 Q-41.5,458 -31,470 L0,486.6 L31,470 Q41.5,458 40.5,445.6" stroke="#000" stroke-width="1.12" fill="none"/>
<path d="M-39.7,445.6 L-32.4,458.75 L-28.8,445.6 L-18.8,458.75 L-9.8,445.6 L0,458.75 L9.8,445.6 L18.8,458.75 L28.8,445.6 L32.4,458.75 L39.7,445.6" stroke="#000" stroke-width="1.18" fill="none"/>
<path d="M-32.4,458.75 L-28.2,471.25" stroke="#000" stroke-width="1.18" fill="none"/>
<path d="M-32.4,458.75 L-20.5,471.25 L-18.8,458.75 L-6.3,471.25 L0,458.75 L6.3,471.25 L18.8,458.75 L20.5,471.25 L32.4,458.75" stroke="#000" stroke-width="1.18" fill="none"/>
<path d="M32.4,458.75 L28.2,471.25" stroke="#000" stroke-width="1.18" fill="none"/>
<line x1="-20.5" y1="471.25" x2="0" y2="486.3" stroke="#000" stroke-width="1.18"/>
<line x1="-6.3" y1="471.25" x2="0" y2="486.3" stroke="#000" stroke-width="1.18"/>
<line x1="6.3" y1="471.25" x2="0" y2="486.3" stroke="#000" stroke-width="1.18"/>
<line x1="20.5" y1="471.25" x2="0" y2="486.3" stroke="#000" stroke-width="1.18"/>
<line x1="0" y1="231" x2="0" y2="364" stroke="#000" stroke-width="1.06" stroke-dasharray="18 2.5 3 2.5"/>
</g>
<g transform="translate(367.5,0) scale(-1,1)">
<rect x="-17.2" y="198.6" width="33.8" height="31" rx="0.8" stroke="#000" stroke-width="1.12" fill="#0a0a0a"/>
<line x1="-13.9" y1="229.6" x2="-13.9" y2="243" stroke="#000" stroke-width="1.34"/>
<line x1="-11" y1="231.5" x2="-11" y2="243" stroke="#000" stroke-width="1.12"/>
<line x1="-8.1" y1="233" x2="-8.1" y2="243" stroke="#000" stroke-width="1.12"/>
<line x1="13.9" y1="229.6" x2="13.9" y2="243" stroke="#000" stroke-width="1.34"/>
<line x1="11" y1="231.5" x2="11" y2="243" stroke="#000" stroke-width="1.12"/>
<line x1="8.1" y1="233" x2="8.1" y2="243" stroke="#000" stroke-width="1.12"/>
<path d="M-14.6,229.6 Q0,238 14.6,229.6 Z" stroke="#000" stroke-width="1.12" fill="#fff"/>
<line x1="0" y1="233.5" x2="0" y2="243" stroke="#000" stroke-width="1.12"/>
<rect x="-52.4" y="243.1" width="104.8" height="10" rx="2" stroke="#000" stroke-width="1.46" fill="none"/>
<line x1="-52" y1="252.9" x2="52" y2="252.9" stroke="#000" stroke-width="1.68"/>
<line x1="-49.5" y1="253.8" x2="-24.7" y2="268.7" stroke="#000" stroke-width="1.34"/>
<line x1="49.5" y1="253.8" x2="24.7" y2="268.7" stroke="#000" stroke-width="1.34"/>
<line x1="-24.7" y1="268.7" x2="24.7" y2="268.7" stroke="#000" stroke-width="1.12"/>
<path d="M-23.9,269.6 L23.9,269.6 Q28.2,270.8 28.2,275.1 L28.2,289.3 Q28.2,293.6 23.9,294.8 L-23.9,294.8 Q-28.2,293.6 -28.2,289.3 L-28.2,275.1 Q-28.2,270.8 -23.9,269.6 Z" stroke="#000" stroke-width="1.46" fill="none"/>
<line x1="-14.2" y1="273.4" x2="-14.2" y2="291" stroke="#000" stroke-width="1.23"/>
<line x1="14.2" y1="273.4" x2="14.2" y2="291" stroke="#000" stroke-width="1.23"/>
<line x1="-12.9" y1="272.9" x2="-12.9" y2="291.5" stroke="#000" stroke-width="1.01"/>
<line x1="12.9" y1="272.9" x2="12.9" y2="291.5" stroke="#000" stroke-width="1.01"/>
<path d="M-14.2,273.5 Q0,266.8 14.2,273.5" stroke="#000" stroke-width="1.12" fill="none"/>
<path d="M-14.2,290.90000000000003 Q0,297.6 14.2,290.90000000000003" stroke="#000" stroke-width="1.12" fill="none"/>
<path d="M-14.2,273.5 Q-21,268.40000000000003 -28.2,275.1" stroke="#000" stroke-width="1.12" fill="none"/>
<path d="M-14.2,290.90000000000003 Q-21,296.0 -28.2,289.3" stroke="#000" stroke-width="1.12" fill="none"/>
<path d="M14.2,273.5 Q21,268.40000000000003 28.2,275.1" stroke="#000" stroke-width="1.12" fill="none"/>
<path d="M14.2,290.90000000000003 Q21,296.0 28.2,289.3" stroke="#000" stroke-width="1.12" fill="none"/>
<path d="M-22,298.6 Q-24.5,299 -24.7,303 Q-26,325 -24.7,352.8" stroke="#000" stroke-width="1.34" fill="none"/>
<path d="M-22,298.6 L20.5,298.6" stroke="#000" stroke-width="1.12" fill="none"/>
<line x1="12.9" y1="298.6" x2="12.9" y2="352.8" stroke="#000" stroke-width="1.12"/>
<line x1="14.3" y1="298.6" x2="14.3" y2="352.8" stroke="#000" stroke-width="1.01"/>
<path d="M19.2,298.6 L21.9,311 L21.9,340 L19.2,352.8" stroke="#000" stroke-width="1.12" fill="none"/>
<line x1="14" y1="311" x2="21.9" y2="311" stroke="#000" stroke-width="1.01"/>
<line x1="14" y1="325.6" x2="21.9" y2="325.6" stroke="#000" stroke-width="1.01"/>
<line x1="14" y1="339.6" x2="21.9" y2="339.6" stroke="#000" stroke-width="1.01"/>
<line x1="21.9" y1="325.6" x2="30.7" y2="325.6" stroke="#000" stroke-width="1.01"/>
<path d="M20.5,298.6 C21.5,305 25,309.8 30.7,310.4" stroke="#000" stroke-width="1.34" fill="none"/>
<path d="M20.5,352.8 C21.5,346.5 25,341.6 30.7,341" stroke="#000" stroke-width="1.34" fill="none"/>
<path d="M21.9,311 Q26.5,313.8 30.7,314.5" stroke="#000" stroke-width="1.01" fill="none"/>
<path d="M21.9,340 Q26.5,337.4 30.7,336.8" stroke="#000" stroke-width="1.01" fill="none"/>
<line x1="30.7" y1="310.4" x2="30.7" y2="341" stroke="#000" stroke-width="1.23"/>
<line x1="-18" y1="297" x2="18" y2="297" stroke="#000" stroke-width="1.12"/>
<rect x="-24.7" y="352.8" width="49.4" height="4.6" rx="2" stroke="#000" stroke-width="1.34" fill="none"/>
<path d="M-24.2,357.4 L-20.3,389.8 L20.3,389.8 L24.2,357.4" stroke="#000" stroke-width="1.34" fill="none"/>
<line x1="-20.3" y1="389.8" x2="20.3" y2="389.8" stroke="#000" stroke-width="1.46"/>
<line x1="-11.7" y1="390.3" x2="-11.7" y2="398.5" stroke="#000" stroke-width="1.34"/>
<line x1="11.7" y1="390.3" x2="11.7" y2="398.5" stroke="#000" stroke-width="1.34"/>
<path d="M-11.7,398.5 Q-15.3,398.6 -15.4,401 Q-15.4,403.5 -14,404.4 L-15.2,407.5 L-18.9,409.75" stroke="#000" stroke-width="1.34" fill="none"/>
<path d="M11.7,398.5 Q15.3,398.6 15.4,401 Q15.4,403.5 14,404.4 L15.2,407.5 L18.9,409.75" stroke="#000" stroke-width="1.34" fill="none"/>
<line x1="-12" y1="398.6" x2="12" y2="398.6" stroke="#000" stroke-width="1.12"/>
<line x1="-14" y1="404.4" x2="14" y2="404.4" stroke="#000" stroke-width="1.12"/>
<line x1="-15.2" y1="407.5" x2="15.2" y2="407.5" stroke="#000" stroke-width="1.12"/>
<line x1="-18.9" y1="409.75" x2="18.9" y2="409.75" stroke="#000" stroke-width="1.23"/>
<path d="M-18.9,409.75 C-29,413 -41.5,424 -44.6,438.5 L-44.9,441 L-44.9,444.6 L44.9,444.6 L44.9,441 L44.6,438.5 C41.5,424 29,413 18.9,409.75" stroke="#000" stroke-width="1.46" fill="none"/>
<path d="M-19.5,411 C-28.5,414.5 -39.5,425 -43,439" stroke="#000" stroke-width="2.46" fill="none"/>
<path d="M-44.6,438.8 L-42,439.5 L-41.2,444.6" stroke="#000" stroke-width="1.01" fill="none"/>
<path d="M-20.5,411.9 Q-27.5,424 -33,440.6" stroke="#000" stroke-width="1.9" fill="none"/>
<line x1="-33" y1="440.6" x2="-9.3" y2="440.6" stroke="#000" stroke-width="1.34"/>
<line x1="-41" y1="440.8" x2="-34" y2="440.8" stroke="#000" stroke-width="1.01"/>
<path d="M19.5,411 C28.5,414.5 39.5,425 43,439" stroke="#000" stroke-width="2.46" fill="none"/>
<path d="M44.6,438.8 L42,439.5 L41.2,444.6" stroke="#000" stroke-width="1.01" fill="none"/>
<path d="M20.5,411.9 Q27.5,424 33,440.6" stroke="#000" stroke-width="1.9" fill="none"/>
<line x1="33" y1="440.6" x2="9.3" y2="440.6" stroke="#000" stroke-width="1.34"/>
<line x1="41" y1="440.8" x2="34" y2="440.8" stroke="#000" stroke-width="1.01"/>
<path d="M-8.75,441.9 C-10.5,437 -12.4,432 -12.4,427.5 C-12.4,422 -10.5,419 -8.75,417 C-6,413.5 -2.5,411.3 0,411.3 C2.5,411.3 6,413.5 8.75,417 C10.5,419 12.4,422 12.4,427.5 C12.4,432 10.5,437 8.75,441.9" stroke="#000" stroke-width="1.34" fill="none"/>
<path d="M-7,441.5 C-8.7,437 -10.5,432 -10.5,427.5 C-10.5,422.5 -9,420 -7.3,418 C-5,415 -2,413.3 0,413.3 C2,413.3 5,415 7.3,418 C9,420 10.5,422.5 10.5,427.5 C10.5,432 8.7,437 7,441.5" stroke="#000" stroke-width="1.12" fill="none"/>
<path d="M-8.75,441.9 Q-8.5,443.7 -6.5,443.75 L6.5,443.75 Q8.5,443.7 8.75,441.9" stroke="#000" stroke-width="1.23" fill="none"/>
<line x1="-39.7" y1="445.6" x2="39.7" y2="445.6" stroke="#000" stroke-width="1.18"/>
<line x1="-37.8" y1="458.75" x2="37.8" y2="458.75" stroke="#000" stroke-width="1.18"/>
<line x1="-28.2" y1="471.25" x2="28.2" y2="471.25" stroke="#000" stroke-width="1.18"/>
<path d="M-39.7,445.6 L-37.8,458.75 L-28.2,471.25 L0,486.3 L28.2,471.25 L37.8,458.75 L39.7,445.6" stroke="#000" stroke-width="1.34" fill="none"/>
<path d="M-40.5,445.6 Q-41.5,458 -31,470 L0,486.6 L31,470 Q41.5,458 40.5,445.6" stroke="#000" stroke-width="1.12" fill="none"/>
<path d="M-39.7,445.6 L-32.4,458.75 L-28.8,445.6 L-18.8,458.75 L-9.8,445.6 L0,458.75 L9.8,445.6 L18.8,458.75 L28.8,445.6 L32.4,458.75 L39.7,445.6" stroke="#000" stroke-width="1.18" fill="none"/>
<path d="M-32.4,458.75 L-28.2,471.25" stroke="#000" stroke-width="1.18" fill="none"/>
<path d="M-32.4,458.75 L-20.5,471.25 L-18.8,458.75 L-6.3,471.25 L0,458.75 L6.3,471.25 L18.8,458.75 L20.5,471.25 L32.4,458.75" stroke="#000" stroke-width="1.18" fill="none"/>
<path d="M32.4,458.75 L28.2,471.25" stroke="#000" stroke-width="1.18" fill="none"/>
<line x1="-20.5" y1="471.25" x2="0" y2="486.3" stroke="#000" stroke-width="1.18"/>
<line x1="-6.3" y1="471.25" x2="0" y2="486.3" stroke="#000" stroke-width="1.18"/>
<line x1="6.3" y1="471.25" x2="0" y2="486.3" stroke="#000" stroke-width="1.18"/>
<line x1="20.5" y1="471.25" x2="0" y2="486.3" stroke="#000" stroke-width="1.18"/>
<line x1="0" y1="231" x2="0" y2="364" stroke="#000" stroke-width="1.06" stroke-dasharray="18 2.5 3 2.5"/>
</g>
<path d="M159.2,310.4 L237.5,302.6 L258.5,302.6 L336.8,310.4" stroke="#000" stroke-width="1.34" fill="none"/>
<path d="M159.2,341 L237.5,348.8 L258.5,348.8 L336.8,341" stroke="#000" stroke-width="1.34" fill="none"/>
<path d="M237,302.6 Q248,298 259,302.6 Z" stroke="#000" stroke-width="1.01" fill="#222"/>
<path d="M237,348.8 Q248,353.4 259,348.8 Z" stroke="#000" stroke-width="1.01" fill="#222"/>
<line x1="111.3" y1="174.7" x2="111.3" y2="198.6" stroke="#000" stroke-width="1.06"/>
<line x1="145.5" y1="174.7" x2="145.5" y2="198.6" stroke="#000" stroke-width="1.06"/>
<line x1="64.3" y1="182.4" x2="111.3" y2="182.4" stroke="#000" stroke-width="1.06"/>
<line x1="145.5" y1="182.4" x2="162" y2="182.4" stroke="#000" stroke-width="1.06"/>
<line x1="111.3" y1="182.4" x2="145.5" y2="182.4" stroke="#000" stroke-width="1.06"/>
<path d="M111.3,182.4 L101.8,184.2 L101.8,180.6 Z" fill="#000" stroke="none"/>
<path d="M145.5,182.4 L155,180.6 L155,184.2 Z" fill="#000" stroke="none"/>
<text x="65.4" y="181" font-family="Liberation Serif" font-size="11" font-weight="normal" text-anchor="start" fill="#000" stroke="#000" stroke-width="0.3" textLength="33.3" lengthAdjust="spacingAndGlyphs">2-G1/2</text>
<line x1="6" y1="198.6" x2="173.5" y2="198.6" stroke="#000" stroke-width="1.06"/>
<line x1="145.5" y1="228.9" x2="173.5" y2="228.9" stroke="#000" stroke-width="1.06"/>
<line x1="165.4" y1="198.6" x2="165.4" y2="228.9" stroke="#000" stroke-width="1.06"/>
<path d="M165.4,198.6 L166.9,206.6 L163.9,206.6 Z" fill="#000" stroke="none"/>
<path d="M165.4,228.9 L163.9,220.9 L166.9,220.9 Z" fill="#000" stroke="none"/>
<text x="163.5" y="213.8" font-family="Liberation Serif" font-size="11" font-weight="normal" text-anchor="middle" fill="#000" stroke="#000" stroke-width="0.3" transform="rotate(-90 163.5 213.8)" textLength="11" lengthAdjust="spacingAndGlyphs">18</text>
<line x1="6" y1="243" x2="76" y2="243" stroke="#000" stroke-width="1.06"/>
<line x1="14.7" y1="198.6" x2="14.7" y2="486.3" stroke="#000" stroke-width="1.06"/>
<path d="M14.7,198.6 L16.5,208.1 L12.9,208.1 Z" fill="#000" stroke="none"/>
<path d="M14.7,243 L12.9,233.5 L16.5,233.5 Z" fill="#000" stroke="none"/>
<path d="M14.7,243 L16.5,252.5 L12.9,252.5 Z" fill="#000" stroke="none"/>
<path d="M14.7,486.3 L12.9,476.8 L16.5,476.8 Z" fill="#000" stroke="none"/>
<text x="11" y="221" font-family="Liberation Serif" font-size="11" font-weight="normal" text-anchor="middle" fill="#000" stroke="#000" stroke-width="0.3" transform="rotate(-90 11 221)" textLength="11" lengthAdjust="spacingAndGlyphs">27</text>
<text x="11.3" y="364.4" font-family="Liberation Serif" font-size="11" font-weight="normal" text-anchor="middle" fill="#000" stroke="#000" stroke-width="0.3" transform="rotate(-90 11.3 364.4)" textLength="16.5" lengthAdjust="spacingAndGlyphs">148</text>
<line x1="46.6" y1="268.7" x2="104" y2="268.7" stroke="#000" stroke-width="1.06"/>
<line x1="54.5" y1="243" x2="54.5" y2="268.7" stroke="#000" stroke-width="1.06"/>
<path d="M54.5,243 L56,251 L53,251 Z" fill="#000" stroke="none"/>
<path d="M54.5,268.7 L53,260.7 L56,260.7 Z" fill="#000" stroke="none"/>
<text x="51.5" y="255.6" font-family="Liberation Serif" font-size="11" font-weight="normal" text-anchor="middle" fill="#000" stroke="#000" stroke-width="0.3" transform="rotate(-90 51.5 255.6)" textLength="11" lengthAdjust="spacingAndGlyphs">16</text>
<line x1="25" y1="325.6" x2="128.5" y2="325.6" stroke="#000" stroke-width="1.06"/>
<line x1="34.2" y1="243" x2="34.2" y2="325.6" stroke="#000" stroke-width="1.06"/>
<path d="M34.2,243 L36,252.5 L32.4,252.5 Z" fill="#000" stroke="none"/>
<path d="M34.2,325.6 L32.4,316.1 L36,316.1 Z" fill="#000" stroke="none"/>
<text x="31.7" y="284" font-family="Liberation Serif" font-size="11" font-weight="normal" text-anchor="middle" fill="#000" stroke="#000" stroke-width="0.3" transform="rotate(-90 31.7 284)" textLength="11" lengthAdjust="spacingAndGlyphs">50</text>
<line x1="29" y1="391.2" x2="108.5" y2="391.2" stroke="#000" stroke-width="1.06"/>
<line x1="37.6" y1="391.2" x2="37.6" y2="486.3" stroke="#000" stroke-width="1.06"/>
<path d="M37.6,391.2 L39.4,400.7 L35.8,400.7 Z" fill="#000" stroke="none"/>
<path d="M37.6,486.3 L35.8,476.8 L39.4,476.8 Z" fill="#000" stroke="none"/>
<text x="34.6" y="438.3" font-family="Liberation Serif" font-size="11" font-weight="normal" text-anchor="middle" fill="#000" stroke="#000" stroke-width="0.3" transform="rotate(-90 34.6 438.3)" textLength="11" lengthAdjust="spacingAndGlyphs">58</text>
<line x1="6" y1="486.3" x2="128.5" y2="486.3" stroke="#000" stroke-width="1.06"/>
<line x1="83.6" y1="446" x2="83.6" y2="515" stroke="#000" stroke-width="1.06"/>
<line x1="173.5" y1="446" x2="173.5" y2="515" stroke="#000" stroke-width="1.06"/>
<line x1="83.6" y1="505.8" x2="173.5" y2="505.8" stroke="#000" stroke-width="1.06"/>
<path d="M83.6,505.8 L93.1,504 L93.1,507.6 Z" fill="#000" stroke="none"/>
<path d="M173.5,505.8 L164,507.6 L164,504 Z" fill="#000" stroke="none"/>
<text x="128.5" y="503.5" font-family="Liberation Serif" font-size="11" font-weight="normal" text-anchor="middle" fill="#000" stroke="#000" stroke-width="0.3" textLength="11" lengthAdjust="spacingAndGlyphs">54</text>
<line x1="315" y1="174" x2="315" y2="243" stroke="#000" stroke-width="1.06"/>
<line x1="419.5" y1="174" x2="419.5" y2="243" stroke="#000" stroke-width="1.06"/>
<line x1="315" y1="182.6" x2="419.5" y2="182.6" stroke="#000" stroke-width="1.06"/>
<path d="M315,182.6 L324.5,180.8 L324.5,184.4 Z" fill="#000" stroke="none"/>
<path d="M419.5,182.6 L410,184.4 L410,180.8 Z" fill="#000" stroke="none"/>
<text x="367.5" y="181.6" font-family="Liberation Serif" font-size="11" font-weight="normal" text-anchor="middle" fill="#000" stroke="#000" stroke-width="0.3" textLength="30" lengthAdjust="spacingAndGlyphs">2-Ø63</text>
<g transform="translate(515.5,81.3) rotate(-90) translate(0,-243)">
<rect x="-52.4" y="243.1" width="104.8" height="10" rx="2" stroke="#000" stroke-width="1.46" fill="none"/>
<line x1="-52" y1="252.9" x2="52" y2="252.9" stroke="#000" stroke-width="1.68"/>
<line x1="-49.5" y1="253.8" x2="-24.7" y2="268.7" stroke="#000" stroke-width="1.34"/>
<line x1="49.5" y1="253.8" x2="24.7" y2="268.7" stroke="#000" stroke-width="1.34"/>
<line x1="-24.7" y1="268.7" x2="24.7" y2="268.7" stroke="#000" stroke-width="1.12"/>
<path d="M-22.9,269.6 L22.9,269.6 Q24.9,269.6 24.9,271.6 L24.9,292.8 Q24.9,294.8 22.9,294.8 L-22.9,294.8 Q-24.9,294.8 -24.9,292.8 L-24.9,271.6 Q-24.9,269.6 -22.9,269.6 Z" stroke="#000" stroke-width="1.46" fill="none"/>
<line x1="-0.7" y1="272.6" x2="-0.7" y2="291.8" stroke="#000" stroke-width="1.12"/>
<line x1="0.7" y1="272.6" x2="0.7" y2="291.8" stroke="#000" stroke-width="1.12"/>
<path d="M-0.7,274.1 Q-12.5,266.6 -24.4,274.6" stroke="#000" stroke-width="1.23" fill="none"/>
<path d="M-0.7,290.3 Q-12.5,297.8 -24.4,289.8" stroke="#000" stroke-width="1.23" fill="none"/>
<line x1="-23.6" y1="273.6" x2="-23.6" y2="290.8" stroke="#000" stroke-width="0.9"/>
<path d="M0.7,274.1 Q12.5,266.6 24.4,274.6" stroke="#000" stroke-width="1.23" fill="none"/>
<path d="M0.7,290.3 Q12.5,297.8 24.4,289.8" stroke="#000" stroke-width="1.23" fill="none"/>
<line x1="23.6" y1="273.6" x2="23.6" y2="290.8" stroke="#000" stroke-width="0.9"/>
<rect x="-24.7" y="352.8" width="49.4" height="4.6" rx="2" stroke="#000" stroke-width="1.34" fill="none"/>
<path d="M-22.5,357.4 L-17.5,386.5 Q-17,389.8 -14,389.8 L14,389.8 Q17,389.8 17.5,386.5 L22.5,357.4" stroke="#000" stroke-width="1.34" fill="none"/>
<line x1="-12.8" y1="390" x2="-12.8" y2="398.5" stroke="#000" stroke-width="1.34"/>
<line x1="12.8" y1="390" x2="12.8" y2="398.5" stroke="#000" stroke-width="1.34"/>
<g transform="translate(0,1.6) scale(0.968,1)">
<line x1="-11.7" y1="390.3" x2="-11.7" y2="398.5" stroke="#000" stroke-width="1.34"/>
<line x1="11.7" y1="390.3" x2="11.7" y2="398.5" stroke="#000" stroke-width="1.34"/>
<path d="M-11.7,398.5 Q-15.3,398.6 -15.4,401 Q-15.4,403.5 -14,404.4 L-15.2,407.5 L-18.9,409.75" stroke="#000" stroke-width="1.34" fill="none"/>
<path d="M11.7,398.5 Q15.3,398.6 15.4,401 Q15.4,403.5 14,404.4 L15.2,407.5 L18.9,409.75" stroke="#000" stroke-width="1.34" fill="none"/>
<line x1="-12" y1="398.6" x2="12" y2="398.6" stroke="#000" stroke-width="1.12"/>
<line x1="-14" y1="404.4" x2="14" y2="404.4" stroke="#000" stroke-width="1.12"/>
<line x1="-15.2" y1="407.5" x2="15.2" y2="407.5" stroke="#000" stroke-width="1.12"/>
<line x1="-18.9" y1="409.75" x2="18.9" y2="409.75" stroke="#000" stroke-width="1.23"/>
<path d="M-18.9,409.75 C-29,413 -41.5,424 -44.6,438.5 L-44.9,441 L-44.9,444.6 L44.9,444.6 L44.9,441 L44.6,438.5 C41.5,424 29,413 18.9,409.75" stroke="#000" stroke-width="1.46" fill="none"/>
<line x1="-44.9" y1="441" x2="44.9" y2="441" stroke="#000" stroke-width="1.12"/>
<path d="M-9.7,411.6 C-20,411.5 -30,420 -31.5,441 L-14.7,441 C-9,432 -7.5,420 -9.7,411.6 Z" stroke="#000" stroke-width="1.34" fill="none"/>
<path d="M-11.5,414 C-19.5,414.5 -27.5,422 -29,439.5 L-16.2,439.5 C-11.5,432 -10,421 -11.5,414 Z" stroke="#000" stroke-width="1.01" fill="none"/>
<path d="M9.7,411.6 C20,411.5 30,420 31.5,441 L14.7,441 C9,432 7.5,420 9.7,411.6 Z" stroke="#000" stroke-width="1.34" fill="none"/>
<path d="M11.5,414 C19.5,414.5 27.5,422 29,439.5 L16.2,439.5 C11.5,432 10,421 11.5,414 Z" stroke="#000" stroke-width="1.01" fill="none"/>
<line x1="-39.7" y1="445.6" x2="39.7" y2="445.6" stroke="#000" stroke-width="1.18"/>
<line x1="-37.8" y1="458.75" x2="37.8" y2="458.75" stroke="#000" stroke-width="1.18"/>
<line x1="-28.2" y1="471.25" x2="28.2" y2="471.25" stroke="#000" stroke-width="1.18"/>
<path d="M-39.7,445.6 L-37.8,458.75 L-28.2,471.25 L0,486.3 L28.2,471.25 L37.8,458.75 L39.7,445.6" stroke="#000" stroke-width="1.34" fill="none"/>
<path d="M-40.5,445.6 Q-41.5,458 -31,470 L0,486.6 L31,470 Q41.5,458 40.5,445.6" stroke="#000" stroke-width="1.12" fill="none"/>
<path d="M-39.7,445.6 L-32.4,458.75 L-28.8,445.6 L-18.8,458.75 L-9.8,445.6 L0,458.75 L9.8,445.6 L18.8,458.75 L28.8,445.6 L32.4,458.75 L39.7,445.6" stroke="#000" stroke-width="1.18" fill="none"/>
<path d="M-32.4,458.75 L-28.2,471.25" stroke="#000" stroke-width="1.18" fill="none"/>
<path d="M-32.4,458.75 L-20.5,471.25 L-18.8,458.75 L-6.3,471.25 L0,458.75 L6.3,471.25 L18.8,458.75 L20.5,471.25 L32.4,458.75" stroke="#000" stroke-width="1.18" fill="none"/>
<path d="M32.4,458.75 L28.2,471.25" stroke="#000" stroke-width="1.18" fill="none"/>
<line x1="-20.5" y1="471.25" x2="0" y2="486.3" stroke="#000" stroke-width="1.18"/>
<line x1="-6.3" y1="471.25" x2="0" y2="486.3" stroke="#000" stroke-width="1.18"/>
<line x1="6.3" y1="471.25" x2="0" y2="486.3" stroke="#000" stroke-width="1.18"/>
<line x1="20.5" y1="471.25" x2="0" y2="486.3" stroke="#000" stroke-width="1.18"/>
</g>
</g>
<rect x="470.9" y="81.4" width="30.6" height="33.9" rx="0.5" stroke="#000" stroke-width="1.12" fill="#0a0a0a"/>
<path d="M501.5,81.4 L506.5,72 L515.5,69.8" stroke="#000" stroke-width="1.79" fill="none"/>
<path d="M501.5,115.3 L509.5,100 L515.5,100" stroke="#000" stroke-width="1.79" fill="none"/>
<path d="M506.5,72 L510.5,94.5 L515.5,96.5" stroke="#000" stroke-width="1.57" fill="none"/>
<path d="M508,75.2 L515.5,75.5" stroke="#000" stroke-width="1.12" fill="none"/>
<path d="M509.5,100 L510.5,94.5" stroke="#000" stroke-width="1.12" fill="none"/>
<path d="M505.2,74.8 L508.6,96" stroke="#000" stroke-width="1.34" fill="none"/>
<rect x="567.6" y="63.7" width="3.1" height="35.4" rx="0" stroke="#000" stroke-width="1.12" fill="none"/>
<path d="M570.7,98.6 L570.7,64 Q570.7,60.7 574,60.2 Q600,57.4 625.3,58" stroke="#000" stroke-width="1.34" fill="none"/>
<path d="M570.7,98.6 Q570.7,102 574,102.4 L625.3,104.6" stroke="#000" stroke-width="1.34" fill="none"/>
<line x1="576" y1="102.6" x2="576" y2="109" stroke="#000" stroke-width="1.12"/>
<line x1="620.9" y1="104.4" x2="620.9" y2="109" stroke="#000" stroke-width="1.12"/>
<line x1="585.6" y1="103.2" x2="585.6" y2="109" stroke="#000" stroke-width="1.01"/>
<line x1="597.4" y1="103.2" x2="597.4" y2="109" stroke="#000" stroke-width="1.01"/>
<line x1="610.2" y1="103.2" x2="610.2" y2="109" stroke="#000" stroke-width="1.01"/>
<line x1="588" y1="103.4" x2="588" y2="109" stroke="#000" stroke-width="0.78"/>
<line x1="600" y1="103.4" x2="600" y2="109" stroke="#000" stroke-width="0.78"/>
<line x1="612.5" y1="103.4" x2="612.5" y2="109" stroke="#000" stroke-width="0.78"/>
<rect x="571.7" y="109" width="52.4" height="7.3" rx="3" stroke="#000" stroke-width="1.34" fill="none"/>
<line x1="573.5" y1="112.8" x2="622.5" y2="112.8" stroke="#000" stroke-width="0.9"/>
<path d="M574.6,116.3 L574.6,127 Q575,134 580.5,134.6 L617,134.6 Q622,134 622.5,127 L622.5,116.3" stroke="#000" stroke-width="1.34" fill="none"/>
<line x1="578.5" y1="133.2" x2="619" y2="133.2" stroke="#000" stroke-width="1.01"/>
<line x1="583.6" y1="134.6" x2="583.6" y2="138.8" stroke="#000" stroke-width="1.34"/>
<line x1="613.3" y1="134.6" x2="613.3" y2="138.8" stroke="#000" stroke-width="1.34"/>
<rect x="581" y="138.8" width="34.5" height="11.9" rx="1.5" stroke="#000" stroke-width="1.46" fill="none"/>
<line x1="582" y1="148.4" x2="614.5" y2="148.4" stroke="#000" stroke-width="0.9"/>
<line x1="531.8" y1="81.3" x2="761" y2="81.3" stroke="#000" stroke-width="1.06" stroke-dasharray="14 3 3 3"/>
<line x1="761" y1="81.3" x2="795" y2="81.3" stroke="#000" stroke-width="1.06"/>
<line x1="615.5" y1="151" x2="795" y2="151" stroke="#000" stroke-width="1.06"/>
<line x1="787.8" y1="81.3" x2="787.8" y2="151" stroke="#000" stroke-width="1.06"/>
<path d="M787.8,81.3 L789.6,90.8 L786,90.8 Z" fill="#000" stroke="none"/>
<path d="M787.8,151 L786,141.5 L789.6,141.5 Z" fill="#000" stroke="none"/>
<text x="783.5" y="117" font-family="Liberation Serif" font-size="11" font-weight="normal" text-anchor="middle" fill="#000" stroke="#000" stroke-width="0.3" transform="rotate(-90 783.5 117)" textLength="11" lengthAdjust="spacingAndGlyphs">42</text>
<line x1="618" y1="135.9" x2="650.8" y2="135.9" stroke="#000" stroke-width="1.06"/>
<line x1="643" y1="119.6" x2="643" y2="165.9" stroke="#000" stroke-width="1.06"/>
<path d="M643,135.9 L641.2,126.4 L644.8,126.4 Z" fill="#000" stroke="none"/>
<path d="M643,151 L644.8,160.5 L641.2,160.5 Z" fill="#000" stroke="none"/>
<text x="640.5" y="143" font-family="Liberation Serif" font-size="11" font-weight="normal" text-anchor="middle" fill="#000" stroke="#000" stroke-width="0.3" transform="rotate(-90 640.5 143)">9</text>
<line x1="581.3" y1="151" x2="581.3" y2="186" stroke="#000" stroke-width="1.06"/>
<line x1="615.5" y1="151" x2="615.5" y2="186" stroke="#000" stroke-width="1.06"/>
<line x1="581.3" y1="178.5" x2="615.5" y2="178.5" stroke="#000" stroke-width="1.06"/>
<path d="M581.3,178.5 L589.3,177 L589.3,180 Z" fill="#000" stroke="none"/>
<path d="M615.5,178.5 L607.5,180 L607.5,177 Z" fill="#000" stroke="none"/>
<text x="598.3" y="177.2" font-family="Liberation Serif" font-size="11" font-weight="normal" text-anchor="middle" fill="#000" stroke="#000" stroke-width="0.3" textLength="22" lengthAdjust="spacingAndGlyphs">G1/2</text>
<path d="M703.45,317.79 L703.3,320.96 L702.88,324.15 L702.17,327.34 L701.2,330.49 L699.96,333.57 L698.47,336.55 L696.74,339.41 L694.79,342.12 L692.64,344.64 L690.32,346.96 L687.83,349.06 L685.21,350.91 L682.48,352.49 L679.67,353.8 L676.8,354.81 L673.9,355.52 L671.01,355.92 L668.14,356.02 L665.33,355.79 L662.6,355.26 L659.98,354.42 L657.49,353.28 L655.16,351.85 L653.01,350.15 L651.07,348.2 L649.34,346 L647.85,343.59 L646.61,340.99 L645.63,338.21 L644.93,335.3 L644.5,332.27 L644.36,329.15 L644.5,325.99 L644.93,322.79 L645.63,319.61 L646.61,316.46 L647.85,313.37 L649.34,310.39 L651.07,307.53 L653.01,304.83 L655.16,302.3 L657.49,299.98 L659.98,297.88 L662.6,296.03 L665.33,294.45 L668.14,293.14 L671.01,292.13 L673.9,291.42 L676.8,291.02 L679.67,290.93 L682.48,291.15 L685.21,291.68 L687.83,292.53 L690.32,293.66 L692.64,295.09 L694.79,296.79 L696.74,298.74 L698.47,300.94 L699.96,303.35 L701.2,305.95 L702.17,308.73 L702.88,311.64 L703.3,314.67 Z" stroke="#000" stroke-width="1.62" fill="#fff"/>
<path d="M644.36,329.15 L644.5,325.99 L644.93,322.79 L645.63,319.61 L646.61,316.46 L647.85,313.37 L649.34,310.39 L651.07,307.53 L653.01,304.83 L655.16,302.3 L657.49,299.98 L659.98,297.88 L662.6,296.03 L665.33,294.45 L668.14,293.14 L671.01,292.13 L673.9,291.42 L676.8,291.02 L679.67,290.93 L682.48,291.15 L685.21,291.68 L687.83,292.53 L690.32,293.66 L691.13,294.15 L693.46,295.58 L695.61,297.28 L697.55,299.23 L699.28,301.43 L700.77,303.84 L702.01,306.44 L702.99,309.22 L703.69,312.13 L704.12,315.16 L704.26,318.28 L704.12,321.44 L703.69,324.64 L702.99,327.82 L702.01,330.97 L700.77,334.06 L699.28,337.04 L697.55,339.9 L695.61,342.6 L693.46,345.13 L691.13,347.45 L688.64,349.55 L686.02,351.4 L683.29,352.98 L680.48,354.29 L677.61,355.3 L674.72,356.01 L671.82,356.41 L668.95,356.5 L666.14,356.28 L663.41,355.74 L660.79,354.9 L658.31,353.77 L657.49,353.28 L655.16,351.85 L653.01,350.15 L651.07,348.2 L649.34,346 L647.85,343.59 L646.61,340.99 L645.63,338.21 L644.93,335.3 L644.5,332.27 Z" stroke="#000" stroke-width="1.62" fill="#fff"/>
<path d="M704.26,318.28 L704.12,321.44 L703.69,324.64 L702.99,327.82 L702.01,330.97 L700.77,334.06 L699.28,337.04 L697.55,339.9 L695.61,342.6 L693.46,345.13 L691.13,347.45 L688.64,349.55 L686.02,351.4 L683.29,352.98 L680.48,354.29 L677.61,355.3 L674.72,356.01 L671.82,356.41 L668.95,356.5 L666.14,356.28 L663.41,355.74 L660.79,354.9 L658.31,353.77 L655.98,352.34 L653.83,350.64 L651.88,348.68 L650.15,346.49 L648.66,344.08 L647.42,341.47 L646.45,338.7 L645.74,335.79 L645.32,332.76 L645.18,329.64 L645.32,326.47 L645.74,323.28 L646.45,320.09 L647.42,316.94 L648.66,313.86 L650.15,310.88 L651.88,308.02 L653.83,305.31 L655.98,302.79 L658.31,300.47 L660.79,298.37 L663.41,296.52 L666.14,294.94 L668.95,293.63 L671.82,292.62 L674.72,291.91 L677.61,291.5 L680.48,291.41 L683.29,291.64 L686.02,292.17 L688.64,293.01 L691.13,294.15 L693.46,295.58 L695.61,297.28 L697.55,299.23 L699.28,301.43 L700.77,303.84 L702.01,306.44 L702.99,309.22 L703.69,312.13 L704.12,315.16 Z" stroke="#000" stroke-width="1.62" fill="#fff"/>
<path d="M704.26,318.28 L704.12,321.44 L703.69,324.64 L702.99,327.82 L702.01,330.97 L700.77,334.06 L699.28,337.04 L697.55,339.9 L695.61,342.6 L693.46,345.13 L691.13,347.45 L688.64,349.55 L686.02,351.4 L683.29,352.98 L680.48,354.29 L677.61,355.3 L674.72,356.01 L671.82,356.41 L668.95,356.5 L666.14,356.28 L663.41,355.74 L660.79,354.9 L658.31,353.77 L655.98,352.34 L653.83,350.64 L651.88,348.68 L650.15,346.49 L648.66,344.08 L647.42,341.47 L646.45,338.7 L645.74,335.79 L645.32,332.76 L645.18,329.64 L645.32,326.47 L645.74,323.28 L646.45,320.09 L647.42,316.94 L648.66,313.86 L650.15,310.88 L651.88,308.02 L653.83,305.31 L655.98,302.79 L658.31,300.47 L660.79,298.37 L663.41,296.52 L666.14,294.94 L668.95,293.63 L671.82,292.62 L674.72,291.91 L677.61,291.5 L680.48,291.41 L683.29,291.64 L686.02,292.17 L688.64,293.01 L691.13,294.15 L693.46,295.58 L695.61,297.28 L697.55,299.23 L699.28,301.43 L700.77,303.84 L702.01,306.44 L702.99,309.22 L703.69,312.13 L704.12,315.16 Z" stroke="#000" stroke-width="1.62" fill="#fff"/>
<path d="M645.18,329.64 L645.32,326.47 L645.74,323.28 L646.45,320.09 L647.42,316.94 L648.66,313.86 L650.15,310.88 L651.88,308.02 L653.83,305.31 L655.98,302.79 L658.31,300.47 L660.79,298.37 L663.41,296.52 L666.14,294.94 L668.95,293.63 L671.82,292.62 L674.72,291.91 L677.61,291.5 L680.48,291.41 L683.29,291.64 L686.02,292.17 L688.64,293.01 L691.13,294.15 L693.58,295.61 L695.9,297.04 L698.05,298.74 L700,300.69 L701.73,302.89 L703.22,305.3 L704.46,307.9 L705.43,310.68 L706.14,313.59 L706.56,316.62 L706.71,319.74 L706.56,322.91 L706.14,326.1 L705.43,329.29 L704.46,332.44 L703.22,335.52 L701.73,338.5 L700,341.36 L698.05,344.07 L695.9,346.59 L693.58,348.91 L691.09,351.01 L688.47,352.86 L685.74,354.44 L682.93,355.75 L680.06,356.76 L677.16,357.47 L674.27,357.87 L671.4,357.97 L668.59,357.74 L665.86,357.21 L663.24,356.37 L660.75,355.23 L658.31,353.77 L655.98,352.34 L653.83,350.64 L651.88,348.68 L650.15,346.49 L648.66,344.08 L647.42,341.47 L646.45,338.7 L645.74,335.79 L645.32,332.76 Z" stroke="#000" stroke-width="1.62" fill="#fff"/>
<path d="M706.71,319.74 L706.56,322.91 L706.14,326.1 L705.43,329.29 L704.46,332.44 L703.22,335.52 L701.73,338.5 L700,341.36 L698.05,344.07 L695.9,346.59 L693.58,348.91 L691.09,351.01 L688.47,352.86 L685.74,354.44 L682.93,355.75 L680.06,356.76 L677.16,357.47 L674.27,357.87 L671.4,357.97 L668.59,357.74 L665.86,357.21 L663.24,356.37 L660.75,355.23 L658.42,353.8 L656.27,352.1 L654.33,350.15 L652.6,347.95 L651.11,345.54 L649.87,342.94 L648.89,340.16 L648.19,337.25 L647.76,334.22 L647.62,331.1 L647.76,327.94 L648.19,324.74 L648.89,321.56 L649.87,318.41 L651.11,315.32 L652.6,312.34 L654.33,309.48 L656.27,306.78 L658.42,304.25 L660.75,301.93 L663.24,299.83 L665.86,297.98 L668.59,296.4 L671.4,295.09 L674.27,294.08 L677.16,293.37 L680.06,292.97 L682.93,292.88 L685.74,293.1 L688.47,293.63 L691.09,294.48 L693.58,295.61 L695.9,297.04 L698.05,298.74 L700,300.69 L701.73,302.89 L703.22,305.3 L704.46,307.9 L705.43,310.68 L706.14,313.59 L706.56,316.62 Z" stroke="#000" stroke-width="1.62" fill="#fff"/>
<path d="M704.86,320.09 L704.62,324.06 L703.92,328.05 L702.75,332 L701.15,335.83 L699.14,339.49 L696.75,342.9 L694.02,346.02 L691.01,348.78 L687.76,351.14 L684.33,353.07 L680.78,354.52 L677.16,355.47 L673.55,355.91 L669.99,355.82 L666.56,355.22 L663.31,354.11 L660.3,352.5 L657.58,350.44 L655.19,347.94 L653.18,345.06 L651.58,341.84 L650.41,338.34 L649.7,334.63 L649.47,330.75 L649.7,326.78 L650.41,322.79 L651.58,318.84 L653.18,315.01 L655.19,311.36 L657.58,307.94 L660.3,304.83 L663.31,302.06 L666.56,299.7 L669.99,297.78 L673.55,296.33 L677.16,295.37 L680.78,294.93 L684.33,295.02 L687.76,295.62 L691.01,296.73 L694.02,298.34 L696.75,300.41 L699.14,302.9 L701.15,305.78 L702.75,309 L703.92,312.5 L704.62,316.22 Z" stroke="#000" stroke-width="1.29" fill="#fff"/>
<path d="M649.47,330.75 L649.7,326.78 L650.41,322.79 L651.58,318.84 L653.18,315.01 L655.19,311.36 L657.58,307.94 L660.3,304.83 L663.31,302.06 L666.56,299.7 L669.99,297.78 L673.55,296.33 L677.16,295.37 L680.78,294.93 L684.33,295.02 L687.76,295.62 L691.01,296.73 L694.02,298.34 L696.75,300.41 L699.14,302.9 L701.15,305.78 L702.75,309 L703.92,312.5 L704.62,316.22 L704.86,320.09 L704.62,324.06 L703.92,328.05 L702.75,332 L701.15,335.83 L699.14,339.49 L696.75,342.9 L694.02,346.02 L691.01,348.78 L687.76,351.14 L684.33,353.07 L680.78,354.52 L677.16,355.47 L673.55,355.91 L669.99,355.82 L666.56,355.22 L663.31,354.11 L660.3,352.5 L657.58,350.44 L655.19,347.94 L653.18,345.06 L651.58,341.84 L650.41,338.34 L649.7,334.63 Z" stroke="#000" stroke-width="1.29" fill="#fff"/>
<path d="M694.65,326.08 L694.55,327.85 L694.23,329.64 L693.71,331.41 L692.99,333.13 L692.09,334.76 L691.02,336.29 L689.8,337.69 L688.45,338.93 L687,339.98 L685.46,340.85 L683.87,341.5 L682.25,341.92 L680.63,342.12 L679.04,342.08 L677.5,341.81 L676.05,341.31 L674.7,340.59 L673.48,339.67 L672.41,338.55 L671.51,337.26 L670.79,335.82 L670.27,334.25 L669.95,332.59 L669.84,330.85 L669.95,329.07 L670.27,327.28 L670.79,325.52 L671.51,323.8 L672.41,322.16 L673.48,320.63 L674.7,319.24 L676.05,318 L677.5,316.94 L679.04,316.08 L680.63,315.43 L682.25,315 L683.87,314.81 L685.46,314.84 L687,315.12 L688.45,315.61 L689.8,316.33 L691.02,317.26 L692.09,318.38 L692.99,319.67 L693.71,321.11 L694.23,322.67 L694.55,324.34 Z" stroke="#000" stroke-width="1.29" fill="#fff"/>
<path d="M698.04,323.89 L691.7,340.55 L676.21,345.3 L667.05,333.39 L673.38,316.73 L688.88,311.98 Z" stroke="#000" stroke-width="1.51" fill="#fff"/>
<path d="M698.04,323.89 L691.7,340.55 L699.91,345.46 L706.25,328.81 Z" stroke="#000" stroke-width="1.51" fill="#fff"/>
<path d="M691.7,340.55 L676.21,345.3 L684.42,350.21 L699.91,345.46 Z" stroke="#000" stroke-width="1.51" fill="#fff"/>
<path d="M688.88,311.98 L698.04,323.89 L706.25,328.81 L697.09,316.89 Z" stroke="#000" stroke-width="1.51" fill="#fff"/>
<path d="M676.21,345.3 L667.05,333.39 L675.26,338.3 L684.42,350.21 Z" stroke="#000" stroke-width="1.51" fill="#fff"/>
<path d="M667.05,333.39 L673.38,316.73 L681.6,321.64 L675.26,338.3 Z" stroke="#000" stroke-width="1.51" fill="#fff"/>
<path d="M673.38,316.73 L688.88,311.98 L697.09,316.89 L681.6,321.64 Z" stroke="#000" stroke-width="1.51" fill="#fff"/>
<path d="M706.25,328.81 L699.91,345.46 L684.42,350.21 L675.26,338.3 L681.6,321.64 L697.09,316.89 Z" stroke="#000" stroke-width="1.51" fill="#fff"/>
<path d="M703.84,331.04 L703.73,332.91 L703.4,334.8 L702.85,336.66 L702.09,338.47 L701.14,340.2 L700.01,341.81 L698.72,343.28 L697.3,344.59 L695.77,345.71 L694.14,346.61 L692.47,347.3 L690.76,347.75 L689.05,347.96 L687.37,347.92 L685.75,347.63 L684.21,347.11 L682.79,346.35 L681.5,345.37 L680.38,344.19 L679.42,342.83 L678.67,341.31 L678.12,339.66 L677.78,337.9 L677.67,336.07 L677.78,334.2 L678.12,332.31 L678.67,330.45 L679.42,328.63 L680.38,326.91 L681.5,325.29 L682.79,323.82 L684.21,322.52 L685.75,321.4 L687.37,320.49 L689.05,319.8 L690.76,319.35 L692.47,319.15 L694.14,319.19 L695.77,319.47 L697.3,320 L698.72,320.76 L700.01,321.73 L701.14,322.91 L702.09,324.27 L702.85,325.79 L703.4,327.45 L703.73,329.2 Z" stroke="#000" stroke-width="1.01" fill="#fff"/>
<path d="M701.82,331.5 L701.72,333.07 L701.44,334.65 L700.98,336.21 L700.35,337.73 L699.55,339.18 L698.61,340.53 L697.53,341.76 L696.34,342.86 L695.05,343.79 L693.69,344.55 L692.29,345.13 L690.86,345.5 L689.42,345.68 L688.02,345.65 L686.66,345.41 L685.37,344.97 L684.18,344.33 L683.1,343.51 L682.16,342.52 L681.36,341.38 L680.73,340.11 L680.27,338.73 L679.99,337.25 L679.89,335.72 L679.99,334.15 L680.27,332.57 L680.73,331.01 L681.36,329.49 L682.16,328.04 L683.1,326.69 L684.18,325.46 L685.37,324.36 L686.66,323.43 L688.02,322.67 L689.42,322.09 L690.86,321.72 L692.29,321.54 L693.69,321.58 L695.05,321.82 L696.34,322.26 L697.53,322.89 L698.61,323.71 L699.55,324.7 L700.35,325.84 L700.98,327.11 L701.44,328.5 L701.72,329.97 Z" stroke="#000" stroke-width="1.51" fill="#fff"/>
<path d="M679.89,335.72 L679.99,334.15 L680.27,332.57 L680.73,331.01 L681.36,329.49 L682.16,328.04 L683.1,326.69 L684.18,325.46 L685.37,324.36 L686.66,323.43 L688.02,322.67 L689.42,322.09 L690.86,321.72 L692.29,321.54 L693.69,321.58 L695.05,321.82 L696.34,322.26 L697.53,322.89 L698.51,323.48 L699.59,324.29 L700.53,325.28 L701.33,326.42 L701.96,327.7 L702.42,329.08 L702.7,330.55 L702.8,332.09 L702.7,333.66 L702.42,335.24 L701.96,336.8 L701.33,338.32 L700.53,339.76 L699.59,341.12 L698.51,342.35 L697.31,343.44 L696.03,344.38 L694.67,345.14 L693.26,345.71 L691.83,346.09 L690.4,346.26 L689,346.23 L687.64,345.99 L686.35,345.55 L685.16,344.92 L684.18,344.33 L683.1,343.51 L682.16,342.52 L681.36,341.38 L680.73,340.11 L680.27,338.73 L679.99,337.25 Z" stroke="#000" stroke-width="1.51" fill="#fff"/>
<path d="M702.8,332.09 L702.7,333.66 L702.42,335.24 L701.96,336.8 L701.33,338.32 L700.53,339.76 L699.59,341.12 L698.51,342.35 L697.31,343.44 L696.03,344.38 L694.67,345.14 L693.26,345.71 L691.83,346.09 L690.4,346.26 L689,346.23 L687.64,345.99 L686.35,345.55 L685.16,344.92 L684.08,344.1 L683.14,343.11 L682.34,341.97 L681.7,340.7 L681.24,339.31 L680.96,337.84 L680.87,336.31 L680.96,334.73 L681.24,333.15 L681.7,331.59 L682.34,330.08 L683.14,328.63 L684.08,327.28 L685.16,326.04 L686.35,324.95 L687.64,324.01 L689,323.25 L690.4,322.68 L691.83,322.3 L693.26,322.13 L694.67,322.16 L696.03,322.4 L697.31,322.84 L698.51,323.48 L699.59,324.29 L700.53,325.28 L701.33,326.42 L701.96,327.7 L702.42,329.08 L702.7,330.55 Z" stroke="#000" stroke-width="1.51" fill="#fff"/>
<path d="M679.72,336.53 L679.82,334.79 L680.13,333.05 L680.64,331.32 L681.34,329.64 L682.22,328.04 L683.26,326.55 L684.46,325.19 L685.77,323.98 L687.2,322.94 L688.7,322.1 L690.25,321.47 L691.83,321.05 L693.41,320.86 L694.97,320.89 L696.47,321.16 L697.89,321.65 L699.21,322.35 L700.4,323.25 L701.45,324.34 L702.33,325.6 L703.03,327.01 L703.54,328.54 L703.85,330.17 L703.95,331.87 L703.85,333.6 L703.54,335.35 L703.03,337.07 L702.33,338.75 L701.45,340.35 L700.4,341.84 L699.21,343.21 L697.89,344.42 L696.47,345.45 L694.97,346.29 L693.41,346.93 L691.83,347.34 L690.25,347.53 L688.7,347.5 L687.2,347.23 L685.77,346.75 L684.46,346.04 L683.26,345.14 L682.22,344.05 L681.34,342.79 L680.64,341.38 L680.13,339.85 L679.82,338.22 Z" stroke="#000" stroke-width="1.51" fill="#fff"/>
<path d="M703.95,331.87 L703.85,333.6 L703.54,335.35 L703.03,337.07 L702.33,338.75 L701.45,340.35 L700.4,341.84 L699.21,343.21 L697.89,344.42 L696.47,345.45 L694.97,346.29 L693.41,346.93 L691.83,347.34 L690.25,347.53 L688.7,347.5 L687.2,347.23 L685.77,346.75 L684.46,346.04 L683.26,345.14 L682.22,344.05 L681.34,342.79 L680.64,341.38 L680.13,339.85 L679.82,338.22 L679.72,336.53 L679.82,334.79 L680.13,333.05 L680.64,331.32 L681.34,329.64 L682.22,328.04 L683.26,326.55 L684.46,325.19 L685.77,323.98 L687.2,322.94 L688.7,322.1 L690.25,321.47 L691.83,321.05 L693.41,320.86 L694.97,320.89 L696.47,321.16 L697.89,321.65 L699.21,322.35 L700.4,323.25 L701.45,324.34 L702.33,325.6 L703.03,327.01 L703.54,328.54 L703.85,330.17 Z" stroke="#000" stroke-width="1.51" fill="#fff"/>
<path d="M679.72,336.53 L679.82,334.79 L680.13,333.05 L680.64,331.32 L681.34,329.64 L682.22,328.04 L683.26,326.55 L684.46,325.19 L685.77,323.98 L687.2,322.94 L688.7,322.1 L690.25,321.47 L691.83,321.05 L693.41,320.86 L694.97,320.89 L696.47,321.16 L697.89,321.65 L699.21,322.35 L717.14,333.07 L718.33,333.98 L719.38,335.07 L720.26,336.33 L720.96,337.74 L721.47,339.27 L721.78,340.89 L721.88,342.59 L721.78,344.33 L721.47,346.07 L720.96,347.8 L720.26,349.48 L719.38,351.07 L718.33,352.57 L717.14,353.93 L715.82,355.14 L714.4,356.17 L712.9,357.02 L711.34,357.65 L709.76,358.07 L708.18,358.26 L706.63,358.22 L705.13,357.96 L703.7,357.47 L702.39,356.77 L684.46,346.04 L683.26,345.14 L682.22,344.05 L681.34,342.79 L680.64,341.38 L680.13,339.85 L679.82,338.22 Z" stroke="#000" stroke-width="1.51" fill="#fff"/>
<path d="M721.88,342.59 L721.78,344.33 L721.47,346.07 L720.96,347.8 L720.26,349.48 L719.38,351.07 L718.33,352.57 L717.14,353.93 L715.82,355.14 L714.4,356.17 L712.9,357.02 L711.34,357.65 L709.76,358.07 L708.18,358.26 L706.63,358.22 L705.13,357.96 L703.7,357.47 L702.39,356.77 L701.19,355.86 L700.15,354.77 L699.27,353.51 L698.57,352.11 L698.06,350.58 L697.75,348.95 L697.65,347.25 L697.75,345.52 L698.06,343.77 L698.57,342.04 L699.27,340.37 L700.15,338.77 L701.19,337.27 L702.39,335.91 L703.7,334.7 L705.13,333.67 L706.63,332.83 L708.18,332.19 L709.76,331.77 L711.34,331.58 L712.9,331.62 L714.4,331.88 L715.82,332.37 L717.14,333.07 L718.33,333.98 L719.38,335.07 L720.26,336.33 L720.96,337.74 L721.47,339.27 L721.78,340.89 Z" stroke="#000" stroke-width="1.51" fill="#fff"/>
<path d="M697.13,347.35 L697.23,345.54 L697.56,343.72 L698.09,341.92 L698.82,340.17 L699.74,338.5 L700.83,336.95 L702.07,335.52 L703.44,334.26 L704.93,333.19 L706.49,332.31 L708.11,331.65 L709.76,331.21 L711.41,331.01 L713.03,331.05 L714.6,331.32 L716.08,331.83 L717.46,332.56 L718.7,333.51 L719.79,334.65 L720.71,335.96 L721.44,337.43 L721.97,339.02 L722.29,340.72 L722.4,342.49 L722.29,344.3 L721.97,346.12 L721.44,347.92 L720.71,349.67 L719.79,351.34 L718.7,352.9 L717.46,354.32 L716.08,355.58 L714.6,356.66 L713.03,357.53 L711.41,358.2 L709.76,358.63 L708.11,358.83 L706.49,358.79 L704.93,358.52 L703.44,358.01 L702.07,357.28 L700.83,356.33 L699.74,355.2 L698.82,353.88 L698.09,352.41 L697.56,350.82 L697.23,349.12 Z" stroke="#000" stroke-width="1.51" fill="#fff"/>
<path d="M722.4,342.49 L722.29,344.3 L721.97,346.12 L721.44,347.92 L720.71,349.67 L719.79,351.34 L718.7,352.9 L717.46,354.32 L716.08,355.58 L714.6,356.66 L713.03,357.53 L711.41,358.2 L709.76,358.63 L708.11,358.83 L706.49,358.79 L704.93,358.52 L703.44,358.01 L702.07,357.28 L700.83,356.33 L699.74,355.2 L698.82,353.88 L698.09,352.41 L697.56,350.82 L697.23,349.12 L697.13,347.35 L697.23,345.54 L697.56,343.72 L698.09,341.92 L698.82,340.17 L699.74,338.5 L700.83,336.95 L702.07,335.52 L703.44,334.26 L704.93,333.19 L706.49,332.31 L708.11,331.65 L709.76,331.21 L711.41,331.01 L713.03,331.05 L714.6,331.32 L716.08,331.83 L717.46,332.56 L718.7,333.51 L719.79,334.65 L720.71,335.96 L721.44,337.43 L721.97,339.02 L722.29,340.72 Z" stroke="#000" stroke-width="1.51" fill="#fff"/>
<path d="M697.13,347.35 L697.23,345.54 L697.56,343.72 L698.09,341.92 L698.82,340.17 L699.74,338.5 L700.83,336.95 L702.07,335.52 L703.44,334.26 L704.93,333.19 L706.49,332.31 L708.11,331.65 L709.76,331.21 L711.41,331.01 L713.03,331.05 L714.6,331.32 L716.08,331.83 L717.46,332.56 L718.92,333.44 L720.17,334.39 L721.26,335.52 L722.17,336.84 L722.9,338.31 L723.44,339.9 L723.76,341.6 L723.87,343.37 L723.76,345.18 L723.44,347 L722.9,348.8 L722.17,350.55 L721.26,352.22 L720.17,353.77 L718.92,355.2 L717.55,356.46 L716.07,357.53 L714.5,358.41 L712.88,359.07 L711.23,359.51 L709.58,359.71 L707.96,359.67 L706.39,359.39 L704.91,358.89 L703.54,358.15 L702.07,357.28 L700.83,356.33 L699.74,355.2 L698.82,353.88 L698.09,352.41 L697.56,350.82 L697.23,349.12 Z" stroke="#000" stroke-width="1.51" fill="#fff"/>
<path d="M723.87,343.37 L723.76,345.18 L723.44,347 L722.9,348.8 L722.17,350.55 L721.26,352.22 L720.17,353.77 L718.92,355.2 L717.55,356.46 L716.07,357.53 L714.5,358.41 L712.88,359.07 L711.23,359.51 L709.58,359.71 L707.96,359.67 L706.39,359.39 L704.91,358.89 L703.54,358.15 L702.29,357.21 L701.2,356.07 L700.29,354.76 L699.56,353.29 L699.02,351.69 L698.7,350 L698.59,348.23 L698.7,346.42 L699.02,344.6 L699.56,342.8 L700.29,341.05 L701.2,339.38 L702.29,337.82 L703.54,336.4 L704.91,335.14 L706.39,334.06 L707.96,333.19 L709.58,332.52 L711.23,332.09 L712.88,331.89 L714.5,331.93 L716.07,332.2 L717.55,332.71 L718.92,333.44 L720.17,334.39 L721.26,335.52 L722.17,336.84 L722.9,338.31 L723.44,339.9 L723.76,341.6 Z" stroke="#000" stroke-width="1.51" fill="#fff"/>
<path d="M698.59,348.23 L698.7,346.42 L699.02,344.6 L699.56,342.8 L700.29,341.05 L701.2,339.38 L702.29,337.82 L703.54,336.4 L704.91,335.14 L706.39,334.06 L707.96,333.19 L709.58,332.52 L711.23,332.09 L712.88,331.89 L714.5,331.93 L716.07,332.2 L717.55,332.71 L718.92,333.44 L720.17,334.39 L721.26,335.52 L722.17,336.84 L722.9,338.31 L723.44,339.9 L723.76,341.6 L723.87,343.37 L723.76,345.18 L723.44,347 L722.9,348.8 L722.17,350.55 L721.26,352.22 L720.17,353.77 L718.92,355.2 L717.55,356.46 L716.07,357.53 L714.5,358.41 L712.88,359.07 L711.23,359.51 L709.58,359.71 L707.96,359.67 L706.39,359.39 L704.91,358.89 L703.54,358.15 L702.29,357.21 L701.2,356.07 L700.29,354.76 L699.56,353.29 L699.02,351.69 L698.7,350 Z" stroke="#000" stroke-width="1.51" fill="#fff"/>
<path d="M723.12,343.51 L723.01,345.21 L722.71,346.93 L722.21,348.62 L721.52,350.27 L720.66,351.83 L719.63,353.3 L718.47,354.64 L717.17,355.82 L715.78,356.84 L714.31,357.66 L712.78,358.29 L711.23,358.69 L709.68,358.88 L708.15,358.85 L706.68,358.59 L705.29,358.11 L703.99,357.42 L702.83,356.53 L701.8,355.46 L700.94,354.23 L700.25,352.85 L699.75,351.34 L699.45,349.75 L699.34,348.09 L699.45,346.38 L699.75,344.67 L700.25,342.98 L700.94,341.33 L701.8,339.76 L702.83,338.3 L703.99,336.96 L705.29,335.77 L706.68,334.76 L708.15,333.93 L709.68,333.31 L711.23,332.9 L712.78,332.71 L714.31,332.75 L715.78,333.01 L717.17,333.49 L718.47,334.18 L719.63,335.06 L720.66,336.13 L721.52,337.37 L722.21,338.75 L722.71,340.25 L723.01,341.85 Z" stroke="#000" stroke-width="1.51" fill="#fff"/>
<path d="M699.34,348.09 L699.45,346.38 L699.75,344.67 L700.25,342.98 L700.94,341.33 L701.8,339.76 L702.83,338.3 L703.99,336.96 L705.29,335.77 L706.68,334.76 L708.15,333.93 L709.68,333.31 L711.23,332.9 L712.78,332.71 L714.31,332.75 L715.78,333.01 L717.17,333.49 L718.47,334.18 L719.63,335.06 L728.88,343.12 L729.74,344.02 L730.47,345.06 L731.05,346.22 L731.47,347.48 L731.72,348.82 L731.81,350.22 L731.72,351.65 L731.47,353.08 L731.05,354.51 L730.47,355.89 L729.74,357.21 L728.88,358.44 L727.9,359.56 L726.82,360.55 L725.64,361.41 L724.41,362.1 L723.13,362.62 L721.83,362.97 L720.52,363.12 L719.24,363.09 L718.01,362.88 L716.83,362.48 L705.29,358.11 L703.99,357.42 L702.83,356.53 L701.8,355.46 L700.94,354.23 L700.25,352.85 L699.75,351.34 L699.45,349.75 Z" stroke="#000" stroke-width="1.51" fill="#fff"/>
<path d="M731.81,350.22 L731.72,351.65 L731.47,353.08 L731.05,354.51 L730.47,355.89 L729.74,357.21 L728.88,358.44 L727.9,359.56 L726.82,360.55 L725.64,361.41 L724.41,362.1 L723.13,362.62 L721.83,362.97 L720.52,363.12 L719.24,363.09 L718.01,362.88 L716.83,362.48 L715.75,361.9 L714.77,361.15 L713.91,360.25 L713.18,359.21 L712.6,358.05 L712.18,356.79 L711.93,355.45 L711.84,354.06 L711.93,352.63 L712.18,351.19 L712.6,349.77 L713.18,348.38 L713.91,347.07 L714.77,345.84 L715.75,344.71 L716.83,343.72 L718.01,342.87 L719.24,342.17 L720.52,341.65 L721.83,341.31 L723.13,341.15 L724.41,341.18 L725.64,341.4 L726.82,341.8 L727.9,342.38 L728.88,343.12 L729.74,344.02 L730.47,345.06 L731.05,346.22 L731.47,347.48 L731.72,348.82 Z" stroke="#000" stroke-width="1.51" fill="#fff"/>
<path d="M711.84,354.06 L711.93,352.63 L712.18,351.19 L712.6,349.77 L713.18,348.38 L713.91,347.07 L714.77,345.84 L715.75,344.71 L716.83,343.72 L718.01,342.87 L719.24,342.17 L720.52,341.65 L721.83,341.31 L723.13,341.15 L724.41,341.18 L725.64,341.4 L726.82,341.8 L727.9,342.38 L728.88,343.12 L729.74,344.02 L730.47,345.06 L731.05,346.22 L731.47,347.48 L731.72,348.82 L731.81,350.22 L731.72,351.65 L731.47,353.08 L731.05,354.51 L730.47,355.89 L729.74,357.21 L728.88,358.44 L727.9,359.56 L726.82,360.55 L725.64,361.41 L724.41,362.1 L723.13,362.62 L721.83,362.97 L720.52,363.12 L719.24,363.09 L718.01,362.88 L716.83,362.48 L715.75,361.9 L714.77,361.15 L713.91,360.25 L713.18,359.21 L712.6,358.05 L712.18,356.79 L711.93,355.45 Z" stroke="#000" stroke-width="1.51" fill="#fff"/>
<path d="M728.06,350.94 L728,351.83 L727.84,352.73 L727.58,353.62 L727.22,354.48 L726.77,355.3 L726.23,356.07 L725.62,356.77 L724.94,357.39 L724.21,357.92 L723.44,358.36 L722.64,358.68 L721.83,358.9 L721.01,359 L720.21,358.98 L719.44,358.84 L718.71,358.59 L718.03,358.23 L717.42,357.76 L716.88,357.2 L716.43,356.55 L716.07,355.83 L715.81,355.04 L715.65,354.21 L715.59,353.33 L715.65,352.44 L715.81,351.54 L716.07,350.66 L716.43,349.79 L716.88,348.97 L717.42,348.2 L718.03,347.5 L718.71,346.88 L719.44,346.35 L720.21,345.92 L721.01,345.59 L721.83,345.38 L722.64,345.28 L723.44,345.3 L724.21,345.43 L724.94,345.68 L725.62,346.04 L726.23,346.51 L726.77,347.07 L727.22,347.72 L727.58,348.44 L727.84,349.23 L728,350.06 Z" stroke="#000" stroke-width="1.51" fill="#fff"/>
<path d="M715.59,353.33 L715.65,352.44 L715.81,351.54 L716.07,350.66 L716.43,349.79 L716.88,348.97 L717.42,348.2 L718.03,347.5 L718.71,346.88 L719.44,346.35 L720.21,345.92 L721.01,345.59 L721.83,345.38 L722.64,345.28 L723.44,345.3 L724.21,345.43 L724.94,345.68 L725.62,346.04 L728.55,347.8 L729.17,348.26 L729.7,348.82 L730.16,349.47 L730.52,350.2 L730.78,350.98 L730.94,351.82 L730.99,352.69 L730.94,353.58 L730.78,354.48 L730.52,355.37 L730.16,356.23 L729.7,357.06 L729.17,357.82 L728.55,358.52 L727.87,359.15 L727.14,359.68 L726.37,360.11 L725.57,360.44 L724.76,360.65 L723.95,360.75 L723.15,360.73 L722.37,360.6 L721.64,360.35 L720.97,359.98 L718.03,358.23 L717.42,357.76 L716.88,357.2 L716.43,356.55 L716.07,355.83 L715.81,355.04 L715.65,354.21 Z" stroke="#000" stroke-width="1.51" fill="#fff"/>
<path d="M730.99,352.69 L730.94,353.58 L730.78,354.48 L730.52,355.37 L730.16,356.23 L729.7,357.06 L729.17,357.82 L728.55,358.52 L727.87,359.15 L727.14,359.68 L726.37,360.11 L725.57,360.44 L724.76,360.65 L723.95,360.75 L723.15,360.73 L722.37,360.6 L721.64,360.35 L720.97,359.98 L720.35,359.52 L719.82,358.96 L719.36,358.31 L719,357.59 L718.74,356.8 L718.58,355.96 L718.53,355.09 L718.58,354.2 L718.74,353.3 L719,352.41 L719.36,351.55 L719.82,350.73 L720.35,349.96 L720.97,349.26 L721.64,348.64 L722.37,348.1 L723.15,347.67 L723.95,347.34 L724.76,347.13 L725.57,347.03 L726.37,347.05 L727.14,347.19 L727.87,347.44 L728.55,347.8 L729.17,348.26 L729.7,348.82 L730.16,349.47 L730.52,350.2 L730.78,350.98 L730.94,351.82 Z" stroke="#000" stroke-width="1.51" fill="#fff"/>
<path d="M565.54,344.32 L565.4,347.49 L564.97,350.68 L564.27,353.87 L563.29,357.01 L562.05,360.1 L560.56,363.08 L558.84,365.94 L556.89,368.64 L554.74,371.17 L552.41,373.49 L549.93,375.59 L547.31,377.44 L544.58,379.02 L541.76,380.33 L538.9,381.34 L536,382.05 L533.1,382.45 L530.24,382.54 L527.42,382.32 L524.69,381.79 L522.07,380.95 L519.59,379.81 L517.26,378.38 L515.11,376.68 L513.16,374.73 L511.44,372.53 L509.95,370.12 L508.71,367.52 L507.73,364.74 L507.03,361.83 L506.6,358.8 L506.46,355.68 L506.6,352.51 L507.03,349.32 L507.73,346.13 L508.71,342.99 L509.95,339.9 L511.44,336.92 L513.16,334.06 L515.11,331.36 L517.26,328.83 L519.59,326.51 L522.07,324.41 L524.69,322.56 L527.42,320.98 L530.24,319.67 L533.1,318.66 L536,317.95 L538.9,317.55 L541.76,317.46 L544.58,317.68 L547.31,318.21 L549.93,319.05 L552.41,320.19 L554.74,321.62 L556.89,323.32 L558.84,325.27 L560.56,327.47 L562.05,329.88 L563.29,332.48 L564.27,335.26 L564.97,338.17 L565.4,341.2 Z" stroke="#000" stroke-width="1.62" fill="#fff"/>
<path d="M506.46,355.68 L506.6,352.51 L507.03,349.32 L507.73,346.13 L508.71,342.99 L509.95,339.9 L511.44,336.92 L513.16,334.06 L515.11,331.36 L517.26,328.83 L519.59,326.51 L522.07,324.41 L524.69,322.56 L527.42,320.98 L530.24,319.67 L533.1,318.66 L536,317.95 L538.9,317.55 L541.76,317.46 L544.58,317.68 L547.31,318.21 L549.93,319.05 L552.41,320.19 L553.23,320.68 L555.56,322.11 L557.7,323.81 L559.65,325.76 L561.38,327.96 L562.87,330.37 L564.11,332.97 L565.09,335.75 L565.79,338.66 L566.22,341.69 L566.36,344.8 L566.22,347.97 L565.79,351.17 L565.09,354.35 L564.11,357.5 L562.87,360.58 L561.38,363.57 L559.65,366.43 L557.7,369.13 L555.56,371.66 L553.23,373.98 L550.74,376.08 L548.12,377.92 L545.39,379.51 L542.58,380.81 L539.71,381.83 L536.82,382.54 L533.92,382.94 L531.05,383.03 L528.24,382.81 L525.51,382.27 L522.89,381.43 L520.4,380.29 L519.59,379.81 L517.26,378.38 L515.11,376.68 L513.16,374.73 L511.44,372.53 L509.95,370.12 L508.71,367.52 L507.73,364.74 L507.03,361.83 L506.6,358.8 Z" stroke="#000" stroke-width="1.62" fill="#fff"/>
<path d="M566.36,344.8 L566.22,347.97 L565.79,351.17 L565.09,354.35 L564.11,357.5 L562.87,360.58 L561.38,363.57 L559.65,366.43 L557.7,369.13 L555.56,371.66 L553.23,373.98 L550.74,376.08 L548.12,377.92 L545.39,379.51 L542.58,380.81 L539.71,381.83 L536.82,382.54 L533.92,382.94 L531.05,383.03 L528.24,382.81 L525.51,382.27 L522.89,381.43 L520.4,380.29 L518.07,378.87 L515.93,377.17 L513.98,375.21 L512.25,373.02 L510.76,370.61 L509.52,368 L508.54,365.23 L507.84,362.31 L507.41,359.28 L507.27,356.17 L507.41,353 L507.84,349.81 L508.54,346.62 L509.52,343.47 L510.76,340.39 L512.25,337.41 L513.98,334.55 L515.93,331.84 L518.07,329.32 L520.4,327 L522.89,324.9 L525.51,323.05 L528.24,321.47 L531.05,320.16 L533.92,319.15 L536.82,318.44 L539.71,318.03 L542.58,317.94 L545.39,318.17 L548.12,318.7 L550.74,319.54 L553.23,320.68 L555.56,322.11 L557.7,323.81 L559.65,325.76 L561.38,327.96 L562.87,330.37 L564.11,332.97 L565.09,335.75 L565.79,338.66 L566.22,341.69 Z" stroke="#000" stroke-width="1.62" fill="#fff"/>
<path d="M566.36,344.8 L566.22,347.97 L565.79,351.17 L565.09,354.35 L564.11,357.5 L562.87,360.58 L561.38,363.57 L559.65,366.43 L557.7,369.13 L555.56,371.66 L553.23,373.98 L550.74,376.08 L548.12,377.92 L545.39,379.51 L542.58,380.81 L539.71,381.83 L536.82,382.54 L533.92,382.94 L531.05,383.03 L528.24,382.81 L525.51,382.27 L522.89,381.43 L520.4,380.29 L518.07,378.87 L515.93,377.17 L513.98,375.21 L512.25,373.02 L510.76,370.61 L509.52,368 L508.54,365.23 L507.84,362.31 L507.41,359.28 L507.27,356.17 L507.41,353 L507.84,349.81 L508.54,346.62 L509.52,343.47 L510.76,340.39 L512.25,337.41 L513.98,334.55 L515.93,331.84 L518.07,329.32 L520.4,327 L522.89,324.9 L525.51,323.05 L528.24,321.47 L531.05,320.16 L533.92,319.15 L536.82,318.44 L539.71,318.03 L542.58,317.94 L545.39,318.17 L548.12,318.7 L550.74,319.54 L553.23,320.68 L555.56,322.11 L557.7,323.81 L559.65,325.76 L561.38,327.96 L562.87,330.37 L564.11,332.97 L565.09,335.75 L565.79,338.66 L566.22,341.69 Z" stroke="#000" stroke-width="1.62" fill="#fff"/>
<path d="M507.27,356.17 L507.41,353 L507.84,349.81 L508.54,346.62 L509.52,343.47 L510.76,340.39 L512.25,337.41 L513.98,334.55 L515.93,331.84 L518.07,329.32 L520.4,327 L522.89,324.9 L525.51,323.05 L528.24,321.47 L531.05,320.16 L533.92,319.15 L536.82,318.44 L539.71,318.03 L542.58,317.94 L545.39,318.17 L548.12,318.7 L550.74,319.54 L553.23,320.68 L555.67,322.14 L558,323.57 L560.15,325.27 L562.1,327.22 L563.82,329.42 L565.31,331.83 L566.55,334.43 L567.53,337.21 L568.23,340.12 L568.66,343.15 L568.8,346.27 L568.66,349.44 L568.23,352.63 L567.53,355.82 L566.55,358.96 L565.31,362.05 L563.82,365.03 L562.1,367.89 L560.15,370.59 L558,373.12 L555.67,375.44 L553.19,377.54 L550.57,379.39 L547.84,380.97 L545.02,382.28 L542.16,383.29 L539.26,384 L536.36,384.4 L533.5,384.49 L530.68,384.27 L527.95,383.74 L525.33,382.9 L522.85,381.76 L520.4,380.29 L518.07,378.87 L515.93,377.17 L513.98,375.21 L512.25,373.02 L510.76,370.61 L509.52,368 L508.54,365.23 L507.84,362.31 L507.41,359.28 Z" stroke="#000" stroke-width="1.62" fill="#fff"/>
<path d="M568.8,346.27 L568.66,349.44 L568.23,352.63 L567.53,355.82 L566.55,358.96 L565.31,362.05 L563.82,365.03 L562.1,367.89 L560.15,370.59 L558,373.12 L555.67,375.44 L553.19,377.54 L550.57,379.39 L547.84,380.97 L545.02,382.28 L542.16,383.29 L539.26,384 L536.36,384.4 L533.5,384.49 L530.68,384.27 L527.95,383.74 L525.33,382.9 L522.85,381.76 L520.52,380.33 L518.37,378.63 L516.42,376.68 L514.7,374.48 L513.21,372.07 L511.97,369.47 L510.99,366.69 L510.29,363.78 L509.86,360.75 L509.72,357.63 L509.86,354.46 L510.29,351.27 L510.99,348.08 L511.97,344.94 L513.21,341.85 L514.7,338.87 L516.42,336.01 L518.37,333.31 L520.52,330.78 L522.85,328.46 L525.33,326.36 L527.95,324.51 L530.68,322.93 L533.5,321.62 L536.36,320.61 L539.26,319.9 L542.16,319.5 L545.02,319.41 L547.84,319.63 L550.57,320.16 L553.19,321 L555.67,322.14 L558,323.57 L560.15,325.27 L562.1,327.22 L563.82,329.42 L565.31,331.83 L566.55,334.43 L567.53,337.21 L568.23,340.12 L568.66,343.15 Z" stroke="#000" stroke-width="1.62" fill="#fff"/>
<path d="M566.96,346.62 L566.72,350.59 L566.01,354.58 L564.85,358.53 L563.25,362.36 L561.23,366.02 L558.84,369.43 L556.12,372.55 L553.11,375.31 L549.86,377.67 L546.43,379.6 L542.88,381.05 L539.26,382 L535.64,382.44 L532.09,382.35 L528.66,381.75 L525.41,380.64 L522.4,379.03 L519.68,376.96 L517.29,374.47 L515.27,371.59 L513.67,368.37 L512.51,364.87 L511.8,361.15 L511.56,357.28 L511.8,353.31 L512.51,349.32 L513.67,345.37 L515.27,341.54 L517.29,337.88 L519.68,334.47 L522.4,331.35 L525.41,328.59 L528.66,326.23 L532.09,324.3 L535.64,322.85 L539.26,321.9 L542.88,321.46 L546.43,321.55 L549.86,322.15 L553.11,323.26 L556.12,324.87 L558.84,326.94 L561.23,329.43 L563.25,332.31 L564.85,335.53 L566.01,339.03 L566.72,342.75 Z" stroke="#000" stroke-width="1.29" fill="#fff"/>
<path d="M511.56,357.28 L511.8,353.31 L512.51,349.32 L513.67,345.37 L515.27,341.54 L517.29,337.88 L519.68,334.47 L522.4,331.35 L525.41,328.59 L528.66,326.23 L532.09,324.3 L535.64,322.85 L539.26,321.9 L542.88,321.46 L546.43,321.55 L549.86,322.15 L553.11,323.26 L556.12,324.87 L558.84,326.94 L561.23,329.43 L563.25,332.31 L564.85,335.53 L566.01,339.03 L566.72,342.75 L566.96,346.62 L566.72,350.59 L566.01,354.58 L564.85,358.53 L563.25,362.36 L561.23,366.02 L558.84,369.43 L556.12,372.55 L553.11,375.31 L549.86,377.67 L546.43,379.6 L542.88,381.05 L539.26,382 L535.64,382.44 L532.09,382.35 L528.66,381.75 L525.41,380.64 L522.4,379.03 L519.68,376.96 L517.29,374.47 L515.27,371.59 L513.67,368.37 L512.51,364.87 L511.8,361.15 Z" stroke="#000" stroke-width="1.29" fill="#fff"/>
<path d="M556.75,352.61 L556.64,354.38 L556.33,356.17 L555.81,357.94 L555.09,359.65 L554.19,361.29 L553.12,362.82 L551.9,364.22 L550.55,365.45 L549.09,366.51 L547.56,367.37 L545.96,368.02 L544.35,368.45 L542.73,368.65 L541.13,368.61 L539.6,368.34 L538.14,367.84 L536.79,367.12 L535.57,366.2 L534.5,365.08 L533.6,363.79 L532.88,362.35 L532.36,360.78 L532.05,359.11 L531.94,357.38 L532.05,355.6 L532.36,353.81 L532.88,352.05 L533.6,350.33 L534.5,348.69 L535.57,347.16 L536.79,345.77 L538.14,344.53 L539.6,343.47 L541.13,342.61 L542.73,341.96 L544.35,341.53 L545.96,341.34 L547.56,341.37 L549.09,341.64 L550.55,342.14 L551.9,342.86 L553.12,343.79 L554.19,344.91 L555.09,346.2 L555.81,347.64 L556.33,349.2 L556.64,350.87 Z" stroke="#000" stroke-width="1.29" fill="#fff"/>
<path d="M560.13,350.42 L553.8,367.08 L538.3,371.83 L529.15,359.91 L535.48,343.26 L550.98,338.51 Z" stroke="#000" stroke-width="1.51" fill="#fff"/>
<path d="M560.13,350.42 L553.8,367.08 L562.01,371.99 L568.35,355.33 Z" stroke="#000" stroke-width="1.51" fill="#fff"/>
<path d="M553.8,367.08 L538.3,371.83 L546.52,376.74 L562.01,371.99 Z" stroke="#000" stroke-width="1.51" fill="#fff"/>
<path d="M550.98,338.51 L560.13,350.42 L568.35,355.33 L559.19,343.42 Z" stroke="#000" stroke-width="1.51" fill="#fff"/>
<path d="M538.3,371.83 L529.15,359.91 L537.36,364.83 L546.52,376.74 Z" stroke="#000" stroke-width="1.51" fill="#fff"/>
<path d="M529.15,359.91 L535.48,343.26 L543.7,348.17 L537.36,364.83 Z" stroke="#000" stroke-width="1.51" fill="#fff"/>
<path d="M535.48,343.26 L550.98,338.51 L559.19,343.42 L543.7,348.17 Z" stroke="#000" stroke-width="1.51" fill="#fff"/>
<path d="M568.35,355.33 L562.01,371.99 L546.52,376.74 L537.36,364.83 L543.7,348.17 L559.19,343.42 Z" stroke="#000" stroke-width="1.51" fill="#fff"/>
<path d="M565.94,357.56 L565.83,359.44 L565.49,361.32 L564.94,363.19 L564.19,365 L563.24,366.73 L562.11,368.34 L560.82,369.81 L559.4,371.12 L557.86,372.24 L556.24,373.14 L554.56,373.83 L552.85,374.28 L551.15,374.49 L549.47,374.45 L547.85,374.16 L546.31,373.64 L544.89,372.88 L543.6,371.9 L542.47,370.72 L541.52,369.36 L540.76,367.84 L540.21,366.19 L539.88,364.43 L539.77,362.6 L539.88,360.72 L540.21,358.84 L540.76,356.97 L541.52,355.16 L542.47,353.44 L543.6,351.82 L544.89,350.35 L546.31,349.04 L547.85,347.93 L549.47,347.02 L551.15,346.33 L552.85,345.88 L554.56,345.68 L556.24,345.72 L557.86,346 L559.4,346.53 L560.82,347.29 L562.11,348.26 L563.24,349.44 L564.19,350.8 L564.94,352.32 L565.49,353.98 L565.83,355.73 Z" stroke="#000" stroke-width="1.01" fill="#fff"/>
<path d="M642.58,395.23 L643.07,395.57 L643.42,395.94 L643.63,396.31 L643.69,396.7 L643.61,397.08 L643.38,397.45 L643.01,397.82 L642.5,398.16 L641.86,398.47 L641.1,398.76 L640.25,399.01 L639.3,399.22 L638.28,399.39 L637.21,399.51 L636.1,399.58 L634.97,399.61 L633.84,399.58 L632.73,399.5 L631.66,399.38 L630.65,399.2 L629.72,398.99 L628.87,398.74 L628.14,398.45 L627.52,398.13 L627.03,397.78 L626.67,397.42 L626.46,397.04 L626.4,396.66 L626.48,396.28 L626.71,395.9 L627.09,395.54 L627.6,395.2 L628.23,394.88 L628.99,394.59 L629.85,394.34 L630.79,394.13 L631.81,393.97 L632.89,393.85 L634,393.77 L635.13,393.75 L636.26,393.78 L637.36,393.85 L638.43,393.98 L639.44,394.15 L640.38,394.37 L641.22,394.62 L641.96,394.91 Z" stroke="#000" stroke-width="1.51" fill="#fff"/>
<path d="M626.4,391.09 L626.48,390.71 L626.71,390.33 L627.09,389.97 L627.6,389.63 L628.23,389.31 L628.99,389.02 L629.85,388.77 L630.79,388.56 L631.81,388.39 L632.89,388.27 L634,388.2 L635.13,388.18 L636.26,388.21 L637.36,388.28 L638.43,388.41 L639.44,388.58 L640.38,388.79 L641.22,389.05 L641.96,389.34 L642.58,389.66 L643.07,390 L643.42,390.37 L643.63,390.74 L643.69,391.12 L643.69,396.7 L643.61,397.08 L643.38,397.45 L643.01,397.82 L642.5,398.16 L641.86,398.47 L641.1,398.76 L640.25,399.01 L639.3,399.22 L638.28,399.39 L637.21,399.51 L636.1,399.58 L634.97,399.61 L633.84,399.58 L632.73,399.5 L631.66,399.38 L630.65,399.2 L629.72,398.99 L628.87,398.74 L628.14,398.45 L627.52,398.13 L627.03,397.78 L626.67,397.42 L626.46,397.04 L626.4,396.66 Z" stroke="#000" stroke-width="1.51" fill="#fff"/>
<path d="M642.58,389.66 L643.07,390 L643.42,390.37 L643.63,390.74 L643.69,391.12 L643.61,391.51 L643.38,391.88 L643.01,392.24 L642.5,392.59 L641.86,392.9 L641.1,393.19 L640.25,393.44 L639.3,393.65 L638.28,393.82 L637.21,393.94 L636.1,394.01 L634.97,394.03 L633.84,394.01 L632.73,393.93 L631.66,393.8 L630.65,393.63 L629.72,393.42 L628.87,393.16 L628.14,392.87 L627.52,392.56 L627.03,392.21 L626.67,391.85 L626.46,391.47 L626.4,391.09 L626.48,390.71 L626.71,390.33 L627.09,389.97 L627.6,389.63 L628.23,389.31 L628.99,389.02 L629.85,388.77 L630.79,388.56 L631.81,388.39 L632.89,388.27 L634,388.2 L635.13,388.18 L636.26,388.21 L637.36,388.28 L638.43,388.41 L639.44,388.58 L640.38,388.79 L641.22,389.05 L641.96,389.34 Z" stroke="#000" stroke-width="1.51" fill="#fff"/>
<path d="M626.4,391.09 L626.48,390.71 L626.71,390.33 L627.09,389.97 L627.6,389.63 L628.23,389.31 L628.99,389.02 L629.85,388.77 L630.79,388.56 L631.81,388.39 L632.89,388.27 L634,388.2 L635.13,388.18 L636.26,388.21 L637.36,388.28 L638.43,388.41 L639.44,388.58 L640.38,388.79 L641.22,389.05 L641.96,389.34 L642.58,389.66 L643.07,390 L643.42,390.37 L643.63,390.74 L643.69,391.12 L643.61,391.51 L643.38,391.88 L643.01,392.24 L642.5,392.59 L641.86,392.9 L641.1,393.19 L640.25,393.44 L639.3,393.65 L638.28,393.82 L637.21,393.94 L636.1,394.01 L634.97,394.03 L633.84,394.01 L632.73,393.93 L631.66,393.8 L630.65,393.63 L629.72,393.42 L628.87,393.16 L628.14,392.87 L627.52,392.56 L627.03,392.21 L626.67,391.85 L626.46,391.47 Z" stroke="#000" stroke-width="1.51" fill="#fff"/>
<path d="M641.97,389.77 L642.42,390.09 L642.75,390.43 L642.94,390.77 L643,391.12 L642.92,391.47 L642.71,391.82 L642.37,392.15 L641.9,392.47 L641.31,392.76 L640.62,393.02 L639.83,393.25 L638.96,393.45 L638.02,393.6 L637.03,393.71 L636.01,393.78 L634.97,393.8 L633.94,393.77 L632.92,393.7 L631.93,393.59 L631.01,393.43 L630.15,393.23 L629.37,393 L628.69,392.73 L628.12,392.44 L627.67,392.12 L627.35,391.79 L627.15,391.44 L627.09,391.09 L627.17,390.74 L627.38,390.39 L627.73,390.06 L628.2,389.75 L628.78,389.45 L629.48,389.19 L630.26,388.96 L631.13,388.77 L632.07,388.61 L633.06,388.5 L634.08,388.43 L635.12,388.41 L636.16,388.44 L637.18,388.51 L638.16,388.63 L639.09,388.78 L639.95,388.98 L640.72,389.21 L641.4,389.48 Z" stroke="#000" stroke-width="1.51" fill="#fff"/>
<path d="M627.09,387.83 L627.17,387.48 L627.38,387.14 L627.73,386.81 L628.2,386.49 L628.78,386.2 L629.48,385.94 L630.26,385.71 L631.13,385.51 L632.07,385.36 L633.06,385.25 L634.08,385.18 L635.12,385.16 L636.16,385.18 L637.18,385.25 L638.16,385.37 L639.09,385.53 L639.95,385.73 L640.72,385.96 L641.4,386.23 L641.97,386.52 L642.42,386.84 L642.75,387.17 L642.94,387.52 L643,387.87 L643,391.12 L642.92,391.47 L642.71,391.82 L642.37,392.15 L641.9,392.47 L641.31,392.76 L640.62,393.02 L639.83,393.25 L638.96,393.45 L638.02,393.6 L637.03,393.71 L636.01,393.78 L634.97,393.8 L633.94,393.77 L632.92,393.7 L631.93,393.59 L631.01,393.43 L630.15,393.23 L629.37,393 L628.69,392.73 L628.12,392.44 L627.67,392.12 L627.35,391.79 L627.15,391.44 L627.09,391.09 Z" stroke="#000" stroke-width="1.51" fill="#fff"/>
<path d="M641.97,386.52 L642.42,386.84 L642.75,387.17 L642.94,387.52 L643,387.87 L642.92,388.22 L642.71,388.56 L642.37,388.9 L641.9,389.21 L641.31,389.5 L640.62,389.77 L639.83,390 L638.96,390.19 L638.02,390.35 L637.03,390.46 L636.01,390.52 L634.97,390.54 L633.94,390.52 L632.92,390.45 L631.93,390.33 L631.01,390.17 L630.15,389.98 L629.37,389.74 L628.69,389.48 L628.12,389.18 L627.67,388.87 L627.35,388.53 L627.15,388.19 L627.09,387.83 L627.17,387.48 L627.38,387.14 L627.73,386.81 L628.2,386.49 L628.78,386.2 L629.48,385.94 L630.26,385.71 L631.13,385.51 L632.07,385.36 L633.06,385.25 L634.08,385.18 L635.12,385.16 L636.16,385.18 L637.18,385.25 L638.16,385.37 L639.09,385.53 L639.95,385.73 L640.72,385.96 L641.4,386.23 Z" stroke="#000" stroke-width="1.51" fill="#fff"/>
<path d="M624.61,387.83 L624.71,387.37 L624.99,386.92 L625.44,386.48 L626.06,386.07 L626.83,385.68 L627.73,385.34 L628.77,385.03 L629.91,384.78 L631.14,384.58 L632.44,384.43 L633.78,384.34 L635.14,384.32 L636.51,384.35 L637.84,384.44 L639.13,384.59 L640.35,384.8 L641.48,385.06 L642.5,385.37 L643.39,385.72 L644.13,386.1 L644.73,386.52 L645.15,386.96 L645.41,387.41 L645.48,387.87 L645.38,388.33 L645.1,388.79 L644.65,389.22 L644.04,389.64 L643.27,390.02 L642.36,390.37 L641.32,390.67 L640.18,390.92 L638.95,391.12 L637.65,391.27 L636.31,391.36 L634.95,391.39 L633.59,391.35 L632.25,391.26 L630.96,391.11 L629.74,390.9 L628.62,390.64 L627.6,390.33 L626.71,389.99 L625.96,389.6 L625.37,389.18 L624.94,388.75 L624.69,388.29 Z" stroke="#000" stroke-width="1.51" fill="#fff"/>
<path d="M644.13,386.1 L644.73,386.52 L645.15,386.96 L645.41,387.41 L645.48,387.87 L645.38,388.33 L645.1,388.79 L644.65,389.22 L644.04,389.64 L643.27,390.02 L642.36,390.37 L641.32,390.67 L640.18,390.92 L638.95,391.12 L637.65,391.27 L636.31,391.36 L634.95,391.39 L633.59,391.35 L632.25,391.26 L630.96,391.11 L629.74,390.9 L628.62,390.64 L627.6,390.33 L626.71,389.99 L625.96,389.6 L625.37,389.18 L624.94,388.75 L624.69,388.29 L624.61,387.83 L624.71,387.37 L624.99,386.92 L625.44,386.48 L626.06,386.07 L626.83,385.68 L627.73,385.34 L628.77,385.03 L629.91,384.78 L631.14,384.58 L632.44,384.43 L633.78,384.34 L635.14,384.32 L636.51,384.35 L637.84,384.44 L639.13,384.59 L640.35,384.8 L641.48,385.06 L642.5,385.37 L643.39,385.72 Z" stroke="#000" stroke-width="1.51" fill="#fff"/>
<path d="M622.97,384.45 L623.09,383.91 L623.41,383.39 L623.93,382.88 L624.64,382.4 L625.53,381.96 L626.59,381.56 L627.78,381.21 L629.11,380.92 L630.53,380.68 L632.03,380.51 L633.58,380.41 L635.16,380.38 L636.73,380.42 L638.28,380.53 L639.77,380.7 L641.18,380.94 L642.49,381.24 L643.67,381.6 L644.7,382 L645.56,382.45 L646.25,382.93 L646.74,383.44 L647.04,383.96 L647.12,384.5 L647.01,385.03 L645.38,388.33 L645.1,388.79 L644.65,389.22 L644.04,389.64 L643.27,390.02 L642.36,390.37 L641.32,390.67 L640.18,390.92 L638.95,391.12 L637.65,391.27 L636.31,391.36 L634.95,391.39 L633.59,391.35 L632.25,391.26 L630.96,391.11 L629.74,390.9 L628.62,390.64 L627.6,390.33 L626.71,389.99 L625.96,389.6 L625.37,389.18 L624.94,388.75 L624.69,388.29 L623.06,384.98 Z" stroke="#000" stroke-width="1.51" fill="#fff"/>
<path d="M645.56,382.45 L646.25,382.93 L646.74,383.44 L647.04,383.96 L647.12,384.5 L647.01,385.03 L646.68,385.55 L646.16,386.06 L645.45,386.54 L644.56,386.98 L643.51,387.38 L642.31,387.73 L640.99,388.02 L639.56,388.26 L638.06,388.43 L636.51,388.53 L634.93,388.56 L633.36,388.52 L631.81,388.41 L630.32,388.24 L628.91,388 L627.6,387.7 L626.43,387.34 L625.4,386.94 L624.53,386.49 L623.85,386.01 L623.35,385.51 L623.06,384.98 L622.97,384.45 L623.09,383.91 L623.41,383.39 L623.93,382.88 L624.64,382.4 L625.53,381.96 L626.59,381.56 L627.78,381.21 L629.11,380.92 L630.53,380.68 L632.03,380.51 L633.58,380.41 L635.16,380.38 L636.73,380.42 L638.28,380.53 L639.77,380.7 L641.18,380.94 L642.49,381.24 L643.67,381.6 L644.7,382 Z" stroke="#000" stroke-width="1.51" fill="#fff"/>
<path d="M622.87,376.68 L622.99,376.15 L623.31,375.62 L623.84,375.11 L624.56,374.63 L625.45,374.18 L626.52,373.78 L627.72,373.42 L629.06,373.13 L630.49,372.89 L632,372.72 L633.57,372.62 L635.16,372.59 L636.75,372.62 L638.31,372.73 L639.81,372.91 L641.23,373.15 L642.55,373.45 L643.74,373.81 L644.78,374.22 L645.65,374.67 L646.34,375.15 L646.84,375.67 L647.13,376.2 L647.22,376.73 L647.12,384.5 L647.01,385.03 L646.68,385.55 L646.16,386.06 L645.45,386.54 L644.56,386.98 L643.51,387.38 L642.31,387.73 L640.99,388.02 L639.56,388.26 L638.06,388.43 L636.51,388.53 L634.93,388.56 L633.36,388.52 L631.81,388.41 L630.32,388.24 L628.91,388 L627.6,387.7 L626.43,387.34 L625.4,386.94 L624.53,386.49 L623.85,386.01 L623.35,385.51 L623.06,384.98 L622.97,384.45 Z" stroke="#000" stroke-width="1.51" fill="#fff"/>
<path d="M645.65,374.67 L646.34,375.15 L646.84,375.67 L647.13,376.2 L647.22,376.73 L647.1,377.27 L646.78,377.8 L646.25,378.31 L645.54,378.79 L644.64,379.24 L643.58,379.64 L642.37,379.99 L641.04,380.29 L639.6,380.53 L638.09,380.7 L636.52,380.8 L634.93,380.83 L633.34,380.79 L631.79,380.68 L630.28,380.51 L628.86,380.27 L627.54,379.96 L626.36,379.61 L625.32,379.2 L624.44,378.75 L623.75,378.26 L623.26,377.75 L622.96,377.22 L622.87,376.68 L622.99,376.15 L623.31,375.62 L623.84,375.11 L624.56,374.63 L625.45,374.18 L626.52,373.78 L627.72,373.42 L629.06,373.13 L630.49,372.89 L632,372.72 L633.57,372.62 L635.16,372.59 L636.75,372.62 L638.31,372.73 L639.81,372.91 L641.23,373.15 L642.55,373.45 L643.74,373.81 L644.78,374.22 Z" stroke="#000" stroke-width="1.51" fill="#fff"/>
<path d="M622.12,376.49 L622.25,375.92 L622.6,375.36 L623.15,374.82 L623.92,374.31 L624.87,373.84 L625.99,373.41 L627.28,373.03 L628.69,372.72 L630.21,372.47 L631.82,372.29 L633.48,372.18 L635.17,372.15 L636.85,372.19 L638.51,372.3 L640.1,372.49 L641.61,372.75 L643.01,373.07 L644.27,373.45 L645.37,373.88 L646.3,374.36 L647.03,374.87 L647.56,375.41 L647.87,375.98 L647.97,376.55 L647.84,377.12 L647.5,377.68 L646.94,378.22 L646.18,378.73 L645.23,379.21 L644.1,379.63 L642.82,380.01 L641.4,380.32 L639.88,380.57 L638.27,380.75 L636.61,380.86 L634.93,380.9 L633.24,380.86 L631.59,380.74 L629.99,380.55 L628.48,380.3 L627.08,379.98 L625.82,379.6 L624.72,379.16 L623.8,378.69 L623.06,378.17 L622.53,377.63 L622.22,377.07 Z" stroke="#000" stroke-width="1.51" fill="#fff"/>
<path d="M646.3,374.36 L647.03,374.87 L647.56,375.41 L647.87,375.98 L647.97,376.55 L647.84,377.12 L647.5,377.68 L646.94,378.22 L646.18,378.73 L645.23,379.21 L644.1,379.63 L642.82,380.01 L641.4,380.32 L639.88,380.57 L638.27,380.75 L636.61,380.86 L634.93,380.9 L633.24,380.86 L631.59,380.74 L629.99,380.55 L628.48,380.3 L627.08,379.98 L625.82,379.6 L624.72,379.16 L623.8,378.69 L623.06,378.17 L622.53,377.63 L622.22,377.07 L622.12,376.49 L622.25,375.92 L622.6,375.36 L623.15,374.82 L623.92,374.31 L624.87,373.84 L625.99,373.41 L627.28,373.03 L628.69,372.72 L630.21,372.47 L631.82,372.29 L633.48,372.18 L635.17,372.15 L636.85,372.19 L638.51,372.3 L640.1,372.49 L641.61,372.75 L643.01,373.07 L644.27,373.45 L645.37,373.88 Z" stroke="#000" stroke-width="1.51" fill="#fff"/>
<path d="M622.12,373.43 L622.25,372.86 L622.6,372.3 L623.15,371.75 L623.92,371.24 L624.87,370.77 L625.99,370.34 L627.28,369.97 L628.69,369.65 L630.21,369.4 L631.82,369.22 L633.48,369.11 L635.17,369.08 L636.85,369.12 L638.51,369.23 L640.1,369.42 L641.61,369.68 L643.01,370 L644.27,370.38 L645.37,370.81 L646.3,371.29 L647.03,371.8 L647.56,372.35 L647.87,372.91 L647.97,373.48 L647.97,376.55 L647.84,377.12 L647.5,377.68 L646.94,378.22 L646.18,378.73 L645.23,379.21 L644.1,379.63 L642.82,380.01 L641.4,380.32 L639.88,380.57 L638.27,380.75 L636.61,380.86 L634.93,380.9 L633.24,380.86 L631.59,380.74 L629.99,380.55 L628.48,380.3 L627.08,379.98 L625.82,379.6 L624.72,379.16 L623.8,378.69 L623.06,378.17 L622.53,377.63 L622.22,377.07 L622.12,376.49 Z" stroke="#000" stroke-width="1.51" fill="#fff"/>
<path d="M646.3,371.29 L647.03,371.8 L647.56,372.35 L647.87,372.91 L647.97,373.48 L647.84,374.05 L647.5,374.61 L646.94,375.15 L646.18,375.66 L645.23,376.14 L644.1,376.57 L642.82,376.94 L641.4,377.26 L639.88,377.51 L638.27,377.69 L636.61,377.79 L634.93,377.83 L633.24,377.79 L631.59,377.67 L629.99,377.49 L628.48,377.23 L627.08,376.91 L625.82,376.53 L624.72,376.1 L623.8,375.62 L623.06,375.1 L622.53,374.56 L622.22,374 L622.12,373.43 L622.25,372.86 L622.6,372.3 L623.15,371.75 L623.92,371.24 L624.87,370.77 L625.99,370.34 L627.28,369.97 L628.69,369.65 L630.21,369.4 L631.82,369.22 L633.48,369.11 L635.17,369.08 L636.85,369.12 L638.51,369.23 L640.1,369.42 L641.61,369.68 L643.01,370 L644.27,370.38 L645.37,370.81 Z" stroke="#000" stroke-width="1.51" fill="#fff"/>
<path d="M622.12,373.43 L622.25,372.86 L622.6,372.3 L623.15,371.75 L623.92,371.24 L624.87,370.77 L625.99,370.34 L627.28,369.97 L628.69,369.65 L630.21,369.4 L631.82,369.22 L633.48,369.11 L635.17,369.08 L636.85,369.12 L638.51,369.23 L640.1,369.42 L641.61,369.68 L643.01,370 L644.27,370.38 L645.37,370.81 L646.3,371.29 L647.03,371.8 L647.56,372.35 L647.87,372.91 L647.97,373.48 L647.84,374.05 L647.5,374.61 L646.94,375.15 L646.18,375.66 L645.23,376.14 L644.1,376.57 L642.82,376.94 L641.4,377.26 L639.88,377.51 L638.27,377.69 L636.61,377.79 L634.93,377.83 L633.24,377.79 L631.59,377.67 L629.99,377.49 L628.48,377.23 L627.08,376.91 L625.82,376.53 L624.72,376.1 L623.8,375.62 L623.06,375.1 L622.53,374.56 L622.22,374 Z" stroke="#000" stroke-width="1.51" fill="#fff"/>
<path d="M645.43,371.46 L646.11,371.93 L646.6,372.43 L646.89,372.95 L646.98,373.48 L646.86,374.01 L646.54,374.52 L646.02,375.02 L645.32,375.49 L644.44,375.93 L643.4,376.33 L642.22,376.67 L640.91,376.96 L639.51,377.19 L638.03,377.36 L636.49,377.46 L634.94,377.49 L633.38,377.45 L631.85,377.35 L630.38,377.18 L628.99,376.94 L627.7,376.64 L626.53,376.29 L625.52,375.89 L624.66,375.45 L623.98,374.98 L623.5,374.47 L623.21,373.96 L623.12,373.43 L623.23,372.9 L623.55,372.38 L624.07,371.89 L624.77,371.41 L625.65,370.98 L626.69,370.58 L627.87,370.23 L629.18,369.94 L630.58,369.71 L632.07,369.55 L633.6,369.45 L635.16,369.41 L636.71,369.45 L638.24,369.56 L639.71,369.73 L641.11,369.97 L642.4,370.26 L643.56,370.62 L644.58,371.01 Z" stroke="#000" stroke-width="1.51" fill="#fff"/>
<path d="M623.12,358.15 L623.23,357.63 L623.55,357.11 L624.07,356.61 L624.77,356.14 L625.65,355.7 L626.69,355.31 L627.87,354.96 L629.18,354.67 L630.58,354.44 L632.07,354.27 L633.6,354.17 L635.16,354.14 L636.71,354.18 L638.24,354.28 L639.71,354.46 L641.11,354.69 L642.4,354.99 L643.56,355.34 L644.58,355.74 L645.43,356.18 L646.11,356.66 L646.6,357.16 L646.89,357.68 L646.98,358.2 L646.98,373.48 L646.86,374.01 L646.54,374.52 L646.02,375.02 L645.32,375.49 L644.44,375.93 L643.4,376.33 L642.22,376.67 L640.91,376.96 L639.51,377.19 L638.03,377.36 L636.49,377.46 L634.94,377.49 L633.38,377.45 L631.85,377.35 L630.38,377.18 L628.99,376.94 L627.7,376.64 L626.53,376.29 L625.52,375.89 L624.66,375.45 L623.98,374.98 L623.5,374.47 L623.21,373.96 L623.12,373.43 Z" stroke="#000" stroke-width="1.51" fill="#fff"/>
<path d="M645.43,356.18 L646.11,356.66 L646.6,357.16 L646.89,357.68 L646.98,358.2 L646.86,358.73 L646.54,359.25 L646.02,359.75 L645.32,360.22 L644.44,360.66 L643.4,361.05 L642.22,361.4 L640.91,361.69 L639.51,361.92 L638.03,362.09 L636.49,362.19 L634.94,362.22 L633.38,362.18 L631.85,362.07 L630.38,361.9 L628.99,361.66 L627.7,361.37 L626.53,361.02 L625.52,360.62 L624.66,360.18 L623.98,359.7 L623.5,359.2 L623.21,358.68 L623.12,358.15 L623.23,357.63 L623.55,357.11 L624.07,356.61 L624.77,356.14 L625.65,355.7 L626.69,355.31 L627.87,354.96 L629.18,354.67 L630.58,354.44 L632.07,354.27 L633.6,354.17 L635.16,354.14 L636.71,354.18 L638.24,354.28 L639.71,354.46 L641.11,354.69 L642.4,354.99 L643.56,355.34 L644.58,355.74 Z" stroke="#000" stroke-width="1.51" fill="#fff"/>
<path d="M679.58,341.6 L679.62,340.28 L679.76,339.04 L679.99,337.9 L680.3,336.87 L680.69,335.98 L681.15,335.24 L681.68,334.67 L682.27,334.27 L685.4,332.32 L686.11,332.08 L686.86,332.04 L687.63,332.2 L688.42,332.57 L689.21,333.14 L689.98,333.9 L690.73,334.84 L691.43,335.93 L692.09,337.16 L692.68,338.52 L693.2,339.97 L693.64,341.49 L693.99,343.06 L694.24,344.64 L694.4,346.22 L694.45,347.76 L694.4,349.24 L694.24,350.64 L693.99,351.92 L693.64,353.07 L693.2,354.07 L692.68,354.9 L692.09,355.54 L691.43,355.99 L690.73,356.24 L689.98,356.28 L686.35,355.63 L685.66,355.48 L684.96,355.15 L684.25,354.64 L683.56,353.97 L682.9,353.13 L682.27,352.16 L681.68,351.06 L681.15,349.85 L680.69,348.56 L680.3,347.2 L679.99,345.8 L679.76,344.39 L679.62,342.98 Z" stroke="#000" stroke-width="3.02" fill="#fff"/>
<path d="M675.35,342.73 L675.4,341.5 L675.52,340.35 L675.73,339.29 L676.02,338.34 L676.38,337.51 L676.81,336.83 L677.3,336.29 L677.85,335.92 L682.27,334.27 L682.9,334.05 L683.56,334.01 L684.25,334.16 L684.96,334.49 L685.66,335 L686.35,335.68 L687.02,336.51 L687.65,337.49 L688.23,338.59 L688.76,339.79 L689.22,341.09 L689.62,342.44 L689.93,343.84 L690.15,345.26 L690.29,346.66 L690.34,348.04 L690.29,349.36 L690.15,350.6 L689.93,351.75 L689.62,352.77 L689.22,353.66 L688.76,354.4 L688.23,354.97 L687.65,355.38 L687.02,355.6 L686.35,355.63 L681.63,355.73 L680.99,355.59 L680.34,355.29 L679.69,354.82 L679.05,354.19 L678.43,353.42 L677.85,352.51 L677.3,351.49 L676.81,350.37 L676.38,349.17 L676.02,347.91 L675.73,346.62 L675.52,345.31 L675.4,344 Z" stroke="#000" stroke-width="3.02" fill="#fff"/>
<path d="M641.07,348.68 L641.12,347.25 L641.27,345.91 L641.51,344.68 L641.85,343.57 L642.27,342.61 L642.77,341.81 L643.34,341.19 L643.97,340.76 L644.65,340.52 L678.43,335.72 L679.05,335.69 L679.69,335.82 L680.34,336.13 L680.99,336.6 L681.63,337.23 L682.25,338 L682.83,338.91 L683.38,339.93 L683.87,341.05 L684.3,342.25 L684.66,343.5 L684.95,344.8 L685.16,346.11 L685.29,347.42 L685.33,348.69 L685.29,349.92 L685.16,351.07 L684.95,352.13 L684.66,353.08 L684.3,353.91 L683.87,354.59 L683.38,355.12 L682.83,355.5 L682.25,355.7 L649.1,363.77 L648.38,363.81 L647.63,363.65 L646.88,363.29 L646.12,362.74 L645.37,362.01 L644.65,361.11 L643.97,360.06 L643.34,358.87 L642.77,357.57 L642.27,356.18 L641.85,354.71 L641.51,353.2 L641.27,351.68 L641.12,350.16 Z" stroke="#000" stroke-width="3.02" fill="#fff"/>
<path d="M633.76,349.77 L633.81,348.25 L633.97,346.82 L634.23,345.5 L634.59,344.32 L635.04,343.3 L635.57,342.45 L636.18,341.79 L636.85,341.33 L637.58,341.07 L644.65,340.52 L645.37,340.49 L646.12,340.65 L646.88,341 L647.63,341.55 L648.38,342.28 L649.1,343.18 L649.78,344.23 L650.41,345.42 L650.98,346.72 L651.48,348.12 L651.9,349.58 L652.24,351.09 L652.48,352.62 L652.63,354.13 L652.68,355.62 L652.63,357.04 L652.48,358.38 L652.24,359.62 L651.9,360.72 L651.48,361.68 L650.98,362.48 L650.41,363.1 L649.78,363.53 L649.1,363.77 L642.32,365.89 L641.55,365.93 L640.76,365.76 L639.95,365.37 L639.14,364.79 L638.35,364.01 L637.58,363.05 L636.85,361.93 L636.18,360.66 L635.57,359.27 L635.04,357.78 L634.59,356.22 L634.23,354.61 L633.97,352.98 L633.81,351.36 Z" stroke="#000" stroke-width="3.02" fill="#fff"/>
<path d="M623.95,351.66 L624,350.14 L624.16,348.71 L624.42,347.39 L624.78,346.21 L625.23,345.19 L625.76,344.34 L626.37,343.67 L627.05,343.21 L627.77,342.96 L637.58,341.07 L638.35,341.03 L639.14,341.2 L639.95,341.59 L640.76,342.17 L641.55,342.95 L642.32,343.91 L643.05,345.03 L643.72,346.3 L644.33,347.69 L644.87,349.18 L645.32,350.74 L645.67,352.35 L645.93,353.98 L646.09,355.6 L646.14,357.18 L646.09,358.71 L645.93,360.14 L645.67,361.45 L645.32,362.64 L644.87,363.66 L644.33,364.51 L643.72,365.17 L643.05,365.63 L642.32,365.89 L632.51,367.77 L631.75,367.81 L630.95,367.64 L630.14,367.26 L629.33,366.68 L628.54,365.9 L627.77,364.94 L627.05,363.81 L626.37,362.55 L625.76,361.16 L625.23,359.67 L624.78,358.1 L624.42,356.5 L624.16,354.87 L624,353.25 Z" stroke="#000" stroke-width="3.02" fill="#fff"/>
<path d="M617.42,353.23 L617.46,351.8 L617.61,350.46 L617.86,349.23 L618.19,348.12 L618.61,347.16 L619.11,346.36 L619.69,345.75 L620.32,345.31 L621,345.08 L627.77,342.96 L628.54,342.92 L629.33,343.09 L630.14,343.47 L630.95,344.06 L631.75,344.84 L632.51,345.8 L633.24,346.92 L633.91,348.19 L634.52,349.58 L635.06,351.07 L635.51,352.63 L635.86,354.24 L636.12,355.87 L636.28,357.49 L636.34,359.07 L636.28,360.59 L636.12,362.02 L635.86,363.34 L635.51,364.52 L635.06,365.55 L634.52,366.4 L633.91,367.06 L633.24,367.52 L632.51,367.77 L625.44,368.32 L624.72,368.36 L623.98,368.2 L623.22,367.84 L622.46,367.29 L621.72,366.56 L621,365.66 L620.32,364.61 L619.69,363.43 L619.11,362.12 L618.61,360.73 L618.19,359.26 L617.86,357.76 L617.61,356.23 L617.46,354.71 Z" stroke="#000" stroke-width="3.02" fill="#fff"/>
<path d="M584.76,360.15 L584.81,358.93 L584.93,357.78 L585.14,356.71 L585.43,355.76 L585.79,354.94 L586.23,354.25 L586.72,353.72 L587.26,353.35 L587.84,353.15 L621,345.08 L621.72,345.04 L622.46,345.2 L623.22,345.56 L623.98,346.1 L624.72,346.83 L625.44,347.73 L626.12,348.78 L626.75,349.97 L627.32,351.27 L627.82,352.67 L628.24,354.13 L628.58,355.64 L628.82,357.17 L628.97,358.69 L629.02,360.17 L628.97,361.59 L628.82,362.94 L628.58,364.17 L628.24,365.28 L627.82,366.24 L627.32,367.03 L626.75,367.65 L626.12,368.08 L625.44,368.32 L591.66,373.13 L591.04,373.16 L590.4,373.02 L589.75,372.71 L589.1,372.24 L588.46,371.62 L587.84,370.84 L587.26,369.94 L586.72,368.92 L586.23,367.8 L585.79,366.6 L585.43,365.34 L585.14,364.05 L584.93,362.73 L584.81,361.43 Z" stroke="#000" stroke-width="3.02" fill="#fff"/>
<path d="M572.65,362.48 L572.69,361.26 L572.82,360.11 L573.03,359.05 L573.32,358.09 L573.68,357.27 L574.11,356.59 L574.6,356.05 L575.14,355.68 L575.73,355.48 L587.84,353.15 L588.46,353.11 L589.1,353.25 L589.75,353.56 L590.4,354.03 L591.04,354.66 L591.66,355.43 L592.25,356.33 L592.79,357.35 L593.28,358.47 L593.71,359.67 L594.07,360.93 L594.36,362.23 L594.57,363.54 L594.7,364.84 L594.74,366.12 L594.7,367.34 L594.57,368.5 L594.36,369.56 L594.07,370.51 L593.71,371.33 L593.28,372.02 L592.79,372.55 L592.25,372.92 L591.66,373.13 L579.54,375.46 L578.93,375.49 L578.29,375.35 L577.63,375.05 L576.98,374.57 L576.34,373.95 L575.73,373.17 L575.14,372.27 L574.6,371.25 L574.11,370.13 L573.68,368.93 L573.32,367.67 L573.03,366.38 L572.82,365.06 L572.69,363.76 Z" stroke="#000" stroke-width="3.02" fill="#fff"/>
<path d="M679.58,341.6 L679.62,340.28 L679.76,339.04 L679.99,337.9 L680.3,336.87 L680.69,335.98 L681.15,335.24 L681.68,334.67 L682.27,334.27 L685.4,332.32 L686.11,332.08 L686.86,332.04 L687.63,332.2 L688.42,332.57 L689.21,333.14 L689.98,333.9 L690.73,334.84 L691.43,335.93 L692.09,337.16 L692.68,338.52 L693.2,339.97 L693.64,341.49 L693.99,343.06 L694.24,344.64 L694.4,346.22 L694.45,347.76 L694.4,349.24 L694.24,350.64 L693.99,351.92 L693.64,353.07 L693.2,354.07 L692.68,354.9 L692.09,355.54 L691.43,355.99 L690.73,356.24 L689.98,356.28 L686.35,355.63 L685.66,355.48 L684.96,355.15 L684.25,354.64 L683.56,353.97 L682.9,353.13 L682.27,352.16 L681.68,351.06 L681.15,349.85 L680.69,348.56 L680.3,347.2 L679.99,345.8 L679.76,344.39 L679.62,342.98 Z" stroke="#000" stroke-width="0" fill="#fff"/>
<path d="M675.35,342.73 L675.4,341.5 L675.52,340.35 L675.73,339.29 L676.02,338.34 L676.38,337.51 L676.81,336.83 L677.3,336.29 L677.85,335.92 L682.27,334.27 L682.9,334.05 L683.56,334.01 L684.25,334.16 L684.96,334.49 L685.66,335 L686.35,335.68 L687.02,336.51 L687.65,337.49 L688.23,338.59 L688.76,339.79 L689.22,341.09 L689.62,342.44 L689.93,343.84 L690.15,345.26 L690.29,346.66 L690.34,348.04 L690.29,349.36 L690.15,350.6 L689.93,351.75 L689.62,352.77 L689.22,353.66 L688.76,354.4 L688.23,354.97 L687.65,355.38 L687.02,355.6 L686.35,355.63 L681.63,355.73 L680.99,355.59 L680.34,355.29 L679.69,354.82 L679.05,354.19 L678.43,353.42 L677.85,352.51 L677.3,351.49 L676.81,350.37 L676.38,349.17 L676.02,347.91 L675.73,346.62 L675.52,345.31 L675.4,344 Z" stroke="#000" stroke-width="0" fill="#fff"/>
<path d="M641.07,348.68 L641.12,347.25 L641.27,345.91 L641.51,344.68 L641.85,343.57 L642.27,342.61 L642.77,341.81 L643.34,341.19 L643.97,340.76 L644.65,340.52 L678.43,335.72 L679.05,335.69 L679.69,335.82 L680.34,336.13 L680.99,336.6 L681.63,337.23 L682.25,338 L682.83,338.91 L683.38,339.93 L683.87,341.05 L684.3,342.25 L684.66,343.5 L684.95,344.8 L685.16,346.11 L685.29,347.42 L685.33,348.69 L685.29,349.92 L685.16,351.07 L684.95,352.13 L684.66,353.08 L684.3,353.91 L683.87,354.59 L683.38,355.12 L682.83,355.5 L682.25,355.7 L649.1,363.77 L648.38,363.81 L647.63,363.65 L646.88,363.29 L646.12,362.74 L645.37,362.01 L644.65,361.11 L643.97,360.06 L643.34,358.87 L642.77,357.57 L642.27,356.18 L641.85,354.71 L641.51,353.2 L641.27,351.68 L641.12,350.16 Z" stroke="#000" stroke-width="0" fill="#fff"/>
<path d="M633.76,349.77 L633.81,348.25 L633.97,346.82 L634.23,345.5 L634.59,344.32 L635.04,343.3 L635.57,342.45 L636.18,341.79 L636.85,341.33 L637.58,341.07 L644.65,340.52 L645.37,340.49 L646.12,340.65 L646.88,341 L647.63,341.55 L648.38,342.28 L649.1,343.18 L649.78,344.23 L650.41,345.42 L650.98,346.72 L651.48,348.12 L651.9,349.58 L652.24,351.09 L652.48,352.62 L652.63,354.13 L652.68,355.62 L652.63,357.04 L652.48,358.38 L652.24,359.62 L651.9,360.72 L651.48,361.68 L650.98,362.48 L650.41,363.1 L649.78,363.53 L649.1,363.77 L642.32,365.89 L641.55,365.93 L640.76,365.76 L639.95,365.37 L639.14,364.79 L638.35,364.01 L637.58,363.05 L636.85,361.93 L636.18,360.66 L635.57,359.27 L635.04,357.78 L634.59,356.22 L634.23,354.61 L633.97,352.98 L633.81,351.36 Z" stroke="#000" stroke-width="0" fill="#fff"/>
<path d="M623.95,351.66 L624,350.14 L624.16,348.71 L624.42,347.39 L624.78,346.21 L625.23,345.19 L625.76,344.34 L626.37,343.67 L627.05,343.21 L627.77,342.96 L637.58,341.07 L638.35,341.03 L639.14,341.2 L639.95,341.59 L640.76,342.17 L641.55,342.95 L642.32,343.91 L643.05,345.03 L643.72,346.3 L644.33,347.69 L644.87,349.18 L645.32,350.74 L645.67,352.35 L645.93,353.98 L646.09,355.6 L646.14,357.18 L646.09,358.71 L645.93,360.14 L645.67,361.45 L645.32,362.64 L644.87,363.66 L644.33,364.51 L643.72,365.17 L643.05,365.63 L642.32,365.89 L632.51,367.77 L631.75,367.81 L630.95,367.64 L630.14,367.26 L629.33,366.68 L628.54,365.9 L627.77,364.94 L627.05,363.81 L626.37,362.55 L625.76,361.16 L625.23,359.67 L624.78,358.1 L624.42,356.5 L624.16,354.87 L624,353.25 Z" stroke="#000" stroke-width="0" fill="#fff"/>
<path d="M617.42,353.23 L617.46,351.8 L617.61,350.46 L617.86,349.23 L618.19,348.12 L618.61,347.16 L619.11,346.36 L619.69,345.75 L620.32,345.31 L621,345.08 L627.77,342.96 L628.54,342.92 L629.33,343.09 L630.14,343.47 L630.95,344.06 L631.75,344.84 L632.51,345.8 L633.24,346.92 L633.91,348.19 L634.52,349.58 L635.06,351.07 L635.51,352.63 L635.86,354.24 L636.12,355.87 L636.28,357.49 L636.34,359.07 L636.28,360.59 L636.12,362.02 L635.86,363.34 L635.51,364.52 L635.06,365.55 L634.52,366.4 L633.91,367.06 L633.24,367.52 L632.51,367.77 L625.44,368.32 L624.72,368.36 L623.98,368.2 L623.22,367.84 L622.46,367.29 L621.72,366.56 L621,365.66 L620.32,364.61 L619.69,363.43 L619.11,362.12 L618.61,360.73 L618.19,359.26 L617.86,357.76 L617.61,356.23 L617.46,354.71 Z" stroke="#000" stroke-width="0" fill="#fff"/>
<path d="M584.76,360.15 L584.81,358.93 L584.93,357.78 L585.14,356.71 L585.43,355.76 L585.79,354.94 L586.23,354.25 L586.72,353.72 L587.26,353.35 L587.84,353.15 L621,345.08 L621.72,345.04 L622.46,345.2 L623.22,345.56 L623.98,346.1 L624.72,346.83 L625.44,347.73 L626.12,348.78 L626.75,349.97 L627.32,351.27 L627.82,352.67 L628.24,354.13 L628.58,355.64 L628.82,357.17 L628.97,358.69 L629.02,360.17 L628.97,361.59 L628.82,362.94 L628.58,364.17 L628.24,365.28 L627.82,366.24 L627.32,367.03 L626.75,367.65 L626.12,368.08 L625.44,368.32 L591.66,373.13 L591.04,373.16 L590.4,373.02 L589.75,372.71 L589.1,372.24 L588.46,371.62 L587.84,370.84 L587.26,369.94 L586.72,368.92 L586.23,367.8 L585.79,366.6 L585.43,365.34 L585.14,364.05 L584.93,362.73 L584.81,361.43 Z" stroke="#000" stroke-width="0" fill="#fff"/>
<path d="M572.65,362.48 L572.69,361.26 L572.82,360.11 L573.03,359.05 L573.32,358.09 L573.68,357.27 L574.11,356.59 L574.6,356.05 L575.14,355.68 L575.73,355.48 L587.84,353.15 L588.46,353.11 L589.1,353.25 L589.75,353.56 L590.4,354.03 L591.04,354.66 L591.66,355.43 L592.25,356.33 L592.79,357.35 L593.28,358.47 L593.71,359.67 L594.07,360.93 L594.36,362.23 L594.57,363.54 L594.7,364.84 L594.74,366.12 L594.7,367.34 L594.57,368.5 L594.36,369.56 L594.07,370.51 L593.71,371.33 L593.28,372.02 L592.79,372.55 L592.25,372.92 L591.66,373.13 L579.54,375.46 L578.93,375.49 L578.29,375.35 L577.63,375.05 L576.98,374.57 L576.34,373.95 L575.73,373.17 L575.14,372.27 L574.6,371.25 L574.11,370.13 L573.68,368.93 L573.32,367.67 L573.03,366.38 L572.82,365.06 L572.69,363.76 Z" stroke="#000" stroke-width="0" fill="#fff"/>
<path d="M633.25,341.97 L633.84,342.03 L634.44,342.22 L635.05,342.53 L635.65,342.95 L636.25,343.48 L636.84,344.12 L637.42,344.85 L637.97,345.68 L638.49,346.59 L638.98,347.58 L639.43,348.63 L639.83,349.74 L640.2,350.9 L640.51,352.08 L640.77,353.29 L640.97,354.52 L641.12,355.74 L641.21,356.94 L641.24,358.13 L641.24,358.13 L641.21,359.28 L641.12,360.38 L640.97,361.42 L640.77,362.4 L640.51,363.3 L640.2,364.11 L639.83,364.83 L639.43,365.45 L638.98,365.97 L638.49,366.37 L637.97,366.66 L637.42,366.83" stroke="#000" stroke-width="1.34" fill="none"/>
<line x1="684.86" y1="352.46" x2="648.88" y2="360.98" stroke="#000" stroke-width="1.34"/>
<line x1="632.15" y1="364.2" x2="594.27" y2="369.89" stroke="#000" stroke-width="1.34"/>
<line x1="646.77" y1="362.03" x2="646.77" y2="374.18" stroke="#000" stroke-width="1.23"/>
<line x1="644.11" y1="363.92" x2="644.11" y2="376.07" stroke="#000" stroke-width="1.23"/>
<line x1="639.02" y1="365.11" x2="639.02" y2="377.26" stroke="#000" stroke-width="1.23"/>
<line x1="632.87" y1="365.28" x2="632.87" y2="377.43" stroke="#000" stroke-width="1.23"/>
<line x1="627.29" y1="364.39" x2="627.29" y2="376.53" stroke="#000" stroke-width="1.23"/>
<line x1="623.8" y1="362.67" x2="623.8" y2="374.81" stroke="#000" stroke-width="1.23"/>
<path d="M646.94,367.23 L646.8,367.63 L646.54,368.01 L646.17,368.39 L645.7,368.75 L645.12,369.1 L644.44,369.42 L643.68,369.72 L642.83,370 L641.9,370.24 L640.91,370.45 L639.87,370.63 L638.78,370.78 L637.65,370.88 L636.49,370.95 L635.33,370.98 L634.16,370.97 L632.99,370.92 L631.85,370.84 L630.74,370.71 L629.67,370.55 L628.65,370.36 L627.7,370.13 L626.81,369.87 L626,369.59 L625.29,369.28 L624.66,368.94 L624.14,368.59 L623.72,368.22 L623.4,367.84 L623.21,367.45 L623.12,367.05" stroke="#000" stroke-width="1.12" fill="none"/>
<path d="M683.4,334 L683.91,334.06 L684.43,334.23 L684.96,334.49 L685.48,334.86 L686.01,335.32 L686.52,335.87 L687.02,336.51 L687.49,337.23 L687.95,338.02 L688.37,338.88 L688.76,339.79 L689.12,340.76 L689.43,341.76 L689.7,342.79 L689.93,343.84 L690.1,344.9 L690.23,345.96 L690.31,347.01 L690.34,348.04 L690.34,348.04 L690.31,349.04 L690.23,349.99 L690.1,350.9 L689.93,351.75 L689.7,352.53 L689.43,353.24 L689.12,353.86 L688.76,354.4 L688.37,354.85 L687.95,355.2 L687.49,355.45 L687.02,355.6" stroke="#000" stroke-width="1.12" fill="none"/>
<path d="M678.89,335.68 L679.37,335.73 L679.85,335.89 L680.34,336.13 L680.83,336.47 L681.31,336.9 L681.79,337.41 L682.25,338 L682.69,338.67 L683.11,339.4 L683.51,340.2 L683.87,341.05 L684.2,341.94 L684.49,342.87 L684.74,343.83 L684.95,344.8 L685.11,345.78 L685.23,346.77 L685.3,347.74 L685.33,348.69 L685.33,348.69 L685.3,349.62 L685.23,350.5 L685.11,351.34 L684.95,352.13 L684.74,352.86 L684.49,353.51 L684.2,354.09 L683.87,354.59 L683.51,355.01 L683.11,355.33 L682.69,355.56 L682.25,355.7" stroke="#000" stroke-width="1.12" fill="none"/>
<path d="M563.91,358.03 L563.82,359.6 L563.54,361.18 L563.08,362.74 L562.45,364.26 L561.65,365.71 L560.7,367.06 L559.63,368.29 L558.43,369.39 L557.15,370.32 L555.79,371.08 L554.38,371.66 L552.95,372.03 L551.52,372.21 L550.11,372.17 L548.76,371.94 L547.47,371.5 L546.28,370.86 L545.2,370.04 L544.25,369.05 L543.46,367.91 L542.82,366.64 L542.36,365.26 L542.08,363.78 L541.99,362.25 L542.08,360.68 L542.36,359.1 L542.82,357.54 L543.46,356.02 L544.25,354.57 L545.2,353.22 L546.28,351.99 L547.47,350.89 L548.76,349.96 L550.11,349.2 L551.52,348.62 L552.95,348.25 L554.38,348.07 L555.79,348.11 L557.15,348.34 L558.43,348.78 L559.63,349.42 L560.7,350.24 L561.65,351.23 L562.45,352.37 L563.08,353.64 L563.54,355.02 L563.82,356.5 Z" stroke="#000" stroke-width="1.51" fill="#fff"/>
<path d="M541.99,362.25 L542.08,360.68 L542.36,359.1 L542.82,357.54 L543.46,356.02 L544.25,354.57 L545.2,353.22 L546.28,351.99 L547.47,350.89 L548.76,349.96 L550.11,349.2 L551.52,348.62 L552.95,348.25 L554.38,348.07 L555.79,348.11 L557.15,348.34 L558.43,348.78 L559.63,349.42 L560.6,350 L561.68,350.82 L562.63,351.81 L563.42,352.95 L564.06,354.22 L564.52,355.61 L564.8,357.08 L564.89,358.62 L564.8,360.19 L564.52,361.77 L564.06,363.33 L563.42,364.85 L562.63,366.29 L561.68,367.64 L560.6,368.88 L559.41,369.97 L558.13,370.91 L556.77,371.67 L555.36,372.24 L553.93,372.62 L552.5,372.79 L551.09,372.76 L549.73,372.52 L548.45,372.08 L547.26,371.45 L546.28,370.86 L545.2,370.04 L544.25,369.05 L543.46,367.91 L542.82,366.64 L542.36,365.26 L542.08,363.78 Z" stroke="#000" stroke-width="1.51" fill="#fff"/>
<path d="M564.89,358.62 L564.8,360.19 L564.52,361.77 L564.06,363.33 L563.42,364.85 L562.63,366.29 L561.68,367.64 L560.6,368.88 L559.41,369.97 L558.13,370.91 L556.77,371.67 L555.36,372.24 L553.93,372.62 L552.5,372.79 L551.09,372.76 L549.73,372.52 L548.45,372.08 L547.26,371.45 L546.18,370.63 L545.23,369.64 L544.44,368.5 L543.8,367.23 L543.34,365.84 L543.06,364.37 L542.97,362.83 L543.06,361.26 L543.34,359.68 L543.8,358.12 L544.44,356.6 L545.23,355.16 L546.18,353.81 L547.26,352.57 L548.45,351.48 L549.73,350.54 L551.09,349.78 L552.5,349.21 L553.93,348.83 L555.36,348.66 L556.77,348.69 L558.13,348.93 L559.41,349.37 L560.6,350 L561.68,350.82 L562.63,351.81 L563.42,352.95 L564.06,354.22 L564.52,355.61 L564.8,357.08 Z" stroke="#000" stroke-width="1.51" fill="#fff"/>
<path d="M541.81,363.06 L541.92,361.32 L542.23,359.57 L542.74,357.85 L543.44,356.17 L544.32,354.57 L545.36,353.08 L546.55,351.71 L547.87,350.51 L549.29,349.47 L550.79,348.63 L552.35,348 L553.93,347.58 L555.51,347.39 L557.07,347.42 L558.57,347.69 L559.99,348.17 L561.31,348.88 L562.5,349.78 L563.54,350.87 L564.42,352.13 L565.12,353.54 L565.63,355.07 L565.94,356.7 L566.05,358.39 L565.94,360.13 L565.63,361.88 L565.12,363.6 L564.42,365.28 L563.54,366.88 L562.5,368.37 L561.31,369.74 L559.99,370.94 L558.57,371.98 L557.07,372.82 L555.51,373.45 L553.93,373.87 L552.35,374.06 L550.79,374.03 L549.29,373.76 L547.87,373.28 L546.55,372.57 L545.36,371.67 L544.32,370.58 L543.44,369.32 L542.74,367.91 L542.23,366.38 L541.92,364.75 Z" stroke="#000" stroke-width="1.51" fill="#fff"/>
<path d="M566.05,358.39 L565.94,360.13 L565.63,361.88 L565.12,363.6 L564.42,365.28 L563.54,366.88 L562.5,368.37 L561.31,369.74 L559.99,370.94 L558.57,371.98 L557.07,372.82 L555.51,373.45 L553.93,373.87 L552.35,374.06 L550.79,374.03 L549.29,373.76 L547.87,373.28 L546.55,372.57 L545.36,371.67 L544.32,370.58 L543.44,369.32 L542.74,367.91 L542.23,366.38 L541.92,364.75 L541.81,363.06 L541.92,361.32 L542.23,359.57 L542.74,357.85 L543.44,356.17 L544.32,354.57 L545.36,353.08 L546.55,351.71 L547.87,350.51 L549.29,349.47 L550.79,348.63 L552.35,348 L553.93,347.58 L555.51,347.39 L557.07,347.42 L558.57,347.69 L559.99,348.17 L561.31,348.88 L562.5,349.78 L563.54,350.87 L564.42,352.13 L565.12,353.54 L565.63,355.07 L565.94,356.7 Z" stroke="#000" stroke-width="1.51" fill="#fff"/>
<path d="M541.81,363.06 L541.92,361.32 L542.23,359.57 L542.74,357.85 L543.44,356.17 L544.32,354.57 L545.36,353.08 L546.55,351.71 L547.87,350.51 L549.29,349.47 L550.79,348.63 L552.35,348 L553.93,347.58 L555.51,347.39 L557.07,347.42 L558.57,347.69 L559.99,348.17 L561.31,348.88 L579.24,359.6 L580.43,360.51 L581.47,361.6 L582.35,362.86 L583.05,364.27 L583.56,365.8 L583.87,367.42 L583.98,369.12 L583.87,370.85 L583.56,372.6 L583.05,374.33 L582.35,376 L581.47,377.6 L580.43,379.1 L579.24,380.46 L577.92,381.67 L576.5,382.7 L575,383.54 L573.44,384.18 L571.86,384.6 L570.28,384.79 L568.72,384.75 L567.22,384.49 L565.8,384 L564.48,383.3 L546.55,372.57 L545.36,371.67 L544.32,370.58 L543.44,369.32 L542.74,367.91 L542.23,366.38 L541.92,364.75 Z" stroke="#000" stroke-width="1.51" fill="#fff"/>
<path d="M583.98,369.12 L583.87,370.85 L583.56,372.6 L583.05,374.33 L582.35,376 L581.47,377.6 L580.43,379.1 L579.24,380.46 L577.92,381.67 L576.5,382.7 L575,383.54 L573.44,384.18 L571.86,384.6 L570.28,384.79 L568.72,384.75 L567.22,384.49 L565.8,384 L564.48,383.3 L563.29,382.39 L562.25,381.3 L561.37,380.04 L560.67,378.63 L560.16,377.1 L559.85,375.48 L559.74,373.78 L559.85,372.05 L560.16,370.3 L560.67,368.57 L561.37,366.9 L562.25,365.3 L563.29,363.8 L564.48,362.44 L565.8,361.23 L567.22,360.2 L568.72,359.36 L570.28,358.72 L571.86,358.3 L573.44,358.11 L575,358.15 L576.5,358.41 L577.92,358.9 L579.24,359.6 L580.43,360.51 L581.47,361.6 L582.35,362.86 L583.05,364.27 L583.56,365.8 L583.87,367.42 Z" stroke="#000" stroke-width="1.51" fill="#fff"/>
<path d="M559.22,373.88 L559.33,372.07 L559.65,370.25 L560.19,368.45 L560.92,366.7 L561.83,365.03 L562.92,363.47 L564.17,362.05 L565.54,360.79 L567.02,359.71 L568.59,358.84 L570.21,358.18 L571.86,357.74 L573.51,357.54 L575.13,357.58 L576.7,357.85 L578.18,358.36 L579.55,359.09 L580.8,360.04 L581.89,361.18 L582.8,362.49 L583.53,363.96 L584.07,365.55 L584.39,367.25 L584.5,369.02 L584.39,370.83 L584.07,372.65 L583.53,374.45 L582.8,376.2 L581.89,377.87 L580.8,379.43 L579.55,380.85 L578.18,382.11 L576.7,383.19 L575.13,384.06 L573.51,384.72 L571.86,385.16 L570.21,385.36 L568.59,385.32 L567.02,385.05 L565.54,384.54 L564.17,383.81 L562.92,382.86 L561.83,381.72 L560.92,380.41 L560.19,378.94 L559.65,377.35 L559.33,375.65 Z" stroke="#000" stroke-width="1.51" fill="#fff"/>
<path d="M584.5,369.02 L584.39,370.83 L584.07,372.65 L583.53,374.45 L582.8,376.2 L581.89,377.87 L580.8,379.43 L579.55,380.85 L578.18,382.11 L576.7,383.19 L575.13,384.06 L573.51,384.72 L571.86,385.16 L570.21,385.36 L568.59,385.32 L567.02,385.05 L565.54,384.54 L564.17,383.81 L562.92,382.86 L561.83,381.72 L560.92,380.41 L560.19,378.94 L559.65,377.35 L559.33,375.65 L559.22,373.88 L559.33,372.07 L559.65,370.25 L560.19,368.45 L560.92,366.7 L561.83,365.03 L562.92,363.47 L564.17,362.05 L565.54,360.79 L567.02,359.71 L568.59,358.84 L570.21,358.18 L571.86,357.74 L573.51,357.54 L575.13,357.58 L576.7,357.85 L578.18,358.36 L579.55,359.09 L580.8,360.04 L581.89,361.18 L582.8,362.49 L583.53,363.96 L584.07,365.55 L584.39,367.25 Z" stroke="#000" stroke-width="1.51" fill="#fff"/>
<path d="M559.22,373.88 L559.33,372.07 L559.65,370.25 L560.19,368.45 L560.92,366.7 L561.83,365.03 L562.92,363.47 L564.17,362.05 L565.54,360.79 L567.02,359.71 L568.59,358.84 L570.21,358.18 L571.86,357.74 L573.51,357.54 L575.13,357.58 L576.7,357.85 L578.18,358.36 L579.55,359.09 L581.02,359.97 L582.26,360.91 L583.35,362.05 L584.27,363.37 L585,364.84 L585.53,366.43 L585.86,368.13 L585.96,369.9 L585.86,371.71 L585.53,373.53 L585,375.33 L584.27,377.08 L583.35,378.74 L582.26,380.3 L581.02,381.72 L579.65,382.98 L578.16,384.06 L576.6,384.94 L574.98,385.6 L573.33,386.04 L571.68,386.24 L570.06,386.2 L568.49,385.92 L567.01,385.42 L565.63,384.68 L564.17,383.81 L562.92,382.86 L561.83,381.72 L560.92,380.41 L560.19,378.94 L559.65,377.35 L559.33,375.65 Z" stroke="#000" stroke-width="1.51" fill="#fff"/>
<path d="M585.96,369.9 L585.86,371.71 L585.53,373.53 L585,375.33 L584.27,377.08 L583.35,378.74 L582.26,380.3 L581.02,381.72 L579.65,382.98 L578.16,384.06 L576.6,384.94 L574.98,385.6 L573.33,386.04 L571.68,386.24 L570.06,386.2 L568.49,385.92 L567.01,385.42 L565.63,384.68 L564.39,383.74 L563.3,382.6 L562.38,381.29 L561.65,379.82 L561.12,378.22 L560.8,376.53 L560.69,374.76 L560.8,372.95 L561.12,371.13 L561.65,369.33 L562.38,367.58 L563.3,365.91 L564.39,364.35 L565.63,362.93 L567.01,361.67 L568.49,360.59 L570.06,359.71 L571.68,359.05 L573.33,358.62 L574.98,358.42 L576.6,358.46 L578.16,358.73 L579.65,359.24 L581.02,359.97 L582.26,360.91 L583.35,362.05 L584.27,363.37 L585,364.84 L585.53,366.43 L585.86,368.13 Z" stroke="#000" stroke-width="1.51" fill="#fff"/>
<path d="M560.69,374.76 L560.8,372.95 L561.12,371.13 L561.65,369.33 L562.38,367.58 L563.3,365.91 L564.39,364.35 L565.63,362.93 L567.01,361.67 L568.49,360.59 L570.06,359.71 L571.68,359.05 L573.33,358.62 L574.98,358.42 L576.6,358.46 L578.16,358.73 L579.65,359.24 L581.02,359.97 L582.26,360.91 L583.35,362.05 L584.27,363.37 L585,364.84 L585.53,366.43 L585.86,368.13 L585.96,369.9 L585.86,371.71 L585.53,373.53 L585,375.33 L584.27,377.08 L583.35,378.74 L582.26,380.3 L581.02,381.72 L579.65,382.98 L578.16,384.06 L576.6,384.94 L574.98,385.6 L573.33,386.04 L571.68,386.24 L570.06,386.2 L568.49,385.92 L567.01,385.42 L565.63,384.68 L564.39,383.74 L563.3,382.6 L562.38,381.29 L561.65,379.82 L561.12,378.22 L560.8,376.53 Z" stroke="#000" stroke-width="1.51" fill="#fff"/>
<path d="M585.21,370.04 L585.11,371.74 L584.81,373.46 L584.31,375.15 L583.62,376.8 L582.76,378.36 L581.73,379.83 L580.56,381.17 L579.27,382.35 L577.88,383.37 L576.4,384.19 L574.88,384.81 L573.33,385.22 L571.78,385.41 L570.25,385.38 L568.78,385.12 L567.38,384.64 L566.09,383.95 L564.92,383.06 L563.9,381.99 L563.03,380.76 L562.35,379.37 L561.85,377.87 L561.54,376.28 L561.44,374.61 L561.54,372.91 L561.85,371.2 L562.35,369.51 L563.03,367.86 L563.9,366.29 L564.92,364.83 L566.09,363.49 L567.38,362.3 L568.78,361.29 L570.25,360.46 L571.78,359.84 L573.33,359.43 L574.88,359.24 L576.4,359.28 L577.88,359.54 L579.27,360.02 L580.56,360.7 L581.73,361.59 L582.76,362.66 L583.62,363.9 L584.31,365.28 L584.81,366.78 L585.11,368.38 Z" stroke="#000" stroke-width="1.51" fill="#fff"/>
<path d="M561.44,374.61 L561.54,372.91 L561.85,371.2 L562.35,369.51 L563.03,367.86 L563.9,366.29 L564.92,364.83 L566.09,363.49 L567.38,362.3 L568.78,361.29 L570.25,360.46 L571.78,359.84 L573.33,359.43 L574.88,359.24 L576.4,359.28 L577.88,359.54 L579.27,360.02 L580.56,360.7 L581.73,361.59 L590.98,369.65 L591.84,370.55 L592.57,371.59 L593.14,372.75 L593.56,374.01 L593.82,375.35 L593.9,376.74 L593.82,378.17 L593.56,379.61 L593.14,381.04 L592.57,382.42 L591.84,383.73 L590.98,384.96 L590,386.09 L588.91,387.08 L587.74,387.94 L586.51,388.63 L585.22,389.15 L583.92,389.49 L582.62,389.65 L581.34,389.62 L580.1,389.41 L578.93,389 L567.38,384.64 L566.09,383.95 L564.92,383.06 L563.9,381.99 L563.03,380.76 L562.35,379.37 L561.85,377.87 L561.54,376.28 Z" stroke="#000" stroke-width="1.51" fill="#fff"/>
<path d="M593.9,376.74 L593.82,378.17 L593.56,379.61 L593.14,381.04 L592.57,382.42 L591.84,383.73 L590.98,384.96 L590,386.09 L588.91,387.08 L587.74,387.94 L586.51,388.63 L585.22,389.15 L583.92,389.49 L582.62,389.65 L581.34,389.62 L580.1,389.41 L578.93,389 L577.85,388.43 L576.86,387.68 L576,386.78 L575.28,385.74 L574.7,384.58 L574.28,383.32 L574.03,381.98 L573.94,380.59 L574.03,379.16 L574.28,377.72 L574.7,376.29 L575.28,374.91 L576,373.6 L576.86,372.37 L577.85,371.24 L578.93,370.25 L580.1,369.39 L581.34,368.7 L582.62,368.18 L583.92,367.84 L585.22,367.68 L586.51,367.71 L587.74,367.92 L588.91,368.33 L590,368.9 L590.98,369.65 L591.84,370.55 L592.57,371.59 L593.14,372.75 L593.56,374.01 L593.82,375.35 Z" stroke="#000" stroke-width="1.51" fill="#fff"/>
<path d="M573.94,380.59 L574.03,379.16 L574.28,377.72 L574.7,376.29 L575.28,374.91 L576,373.6 L576.86,372.37 L577.85,371.24 L578.93,370.25 L580.1,369.39 L581.34,368.7 L582.62,368.18 L583.92,367.84 L585.22,367.68 L586.51,367.71 L587.74,367.92 L588.91,368.33 L590,368.9 L590.98,369.65 L591.84,370.55 L592.57,371.59 L593.14,372.75 L593.56,374.01 L593.82,375.35 L593.9,376.74 L593.82,378.17 L593.56,379.61 L593.14,381.04 L592.57,382.42 L591.84,383.73 L590.98,384.96 L590,386.09 L588.91,387.08 L587.74,387.94 L586.51,388.63 L585.22,389.15 L583.92,389.49 L582.62,389.65 L581.34,389.62 L580.1,389.41 L578.93,389 L577.85,388.43 L576.86,387.68 L576,386.78 L575.28,385.74 L574.7,384.58 L574.28,383.32 L574.03,381.98 Z" stroke="#000" stroke-width="1.51" fill="#fff"/>
<path d="M590.15,377.47 L590.1,378.36 L589.94,379.26 L589.68,380.14 L589.32,381.01 L588.87,381.83 L588.33,382.6 L587.72,383.3 L587.04,383.92 L586.31,384.45 L585.53,384.89 L584.74,385.21 L583.92,385.43 L583.11,385.52 L582.31,385.51 L581.54,385.37 L580.81,385.12 L580.13,384.76 L579.52,384.29 L578.98,383.73 L578.53,383.08 L578.16,382.36 L577.9,381.57 L577.74,380.74 L577.69,379.86 L577.74,378.97 L577.9,378.07 L578.16,377.19 L578.53,376.32 L578.98,375.5 L579.52,374.73 L580.13,374.03 L580.81,373.41 L581.54,372.88 L582.31,372.44 L583.11,372.12 L583.92,371.9 L584.74,371.81 L585.53,371.82 L586.31,371.96 L587.04,372.21 L587.72,372.57 L588.33,373.04 L588.87,373.6 L589.32,374.25 L589.68,374.97 L589.94,375.76 L590.1,376.59 Z" stroke="#000" stroke-width="1.51" fill="#fff"/>
<path d="M577.69,379.86 L577.74,378.97 L577.9,378.07 L578.16,377.19 L578.53,376.32 L578.98,375.5 L579.52,374.73 L580.13,374.03 L580.81,373.41 L581.54,372.88 L582.31,372.44 L583.11,372.12 L583.92,371.9 L584.74,371.81 L585.53,371.82 L586.31,371.96 L587.04,372.21 L587.72,372.57 L590.65,374.33 L591.26,374.79 L591.8,375.35 L592.25,376 L592.61,376.73 L592.88,377.51 L593.03,378.35 L593.09,379.22 L593.03,380.11 L592.88,381.01 L592.61,381.9 L592.25,382.76 L591.8,383.58 L591.26,384.35 L590.65,385.05 L589.97,385.68 L589.24,386.21 L588.47,386.64 L587.67,386.97 L586.86,387.18 L586.04,387.28 L585.24,387.26 L584.47,387.12 L583.74,386.87 L583.06,386.51 L580.13,384.76 L579.52,384.29 L578.98,383.73 L578.53,383.08 L578.16,382.36 L577.9,381.57 L577.74,380.74 Z" stroke="#000" stroke-width="1.51" fill="#fff"/>
<path d="M593.09,379.22 L593.03,380.11 L592.88,381.01 L592.61,381.9 L592.25,382.76 L591.8,383.58 L591.26,384.35 L590.65,385.05 L589.97,385.68 L589.24,386.21 L588.47,386.64 L587.67,386.97 L586.86,387.18 L586.04,387.28 L585.24,387.26 L584.47,387.12 L583.74,386.87 L583.06,386.51 L582.45,386.05 L581.91,385.49 L581.46,384.84 L581.1,384.11 L580.84,383.33 L580.68,382.49 L580.62,381.62 L580.68,380.73 L580.84,379.83 L581.1,378.94 L581.46,378.08 L581.91,377.26 L582.45,376.49 L583.06,375.79 L583.74,375.16 L584.47,374.63 L585.24,374.2 L586.04,373.87 L586.86,373.66 L587.67,373.56 L588.47,373.58 L589.24,373.72 L589.97,373.97 L590.65,374.33 L591.26,374.79 L591.8,375.35 L592.25,376 L592.61,376.73 L592.88,377.51 L593.03,378.35 Z" stroke="#000" stroke-width="1.51" fill="#fff"/>
<path d="M594.82,378.89 L594.75,380.03 L594.55,381.18 L594.21,382.31 L593.75,383.41 L593.17,384.46 L592.49,385.45 L591.7,386.34 L590.84,387.14 L589.9,387.82 L588.92,388.37 L587.9,388.78 L586.86,389.06 L585.82,389.18 L584.8,389.16 L583.81,388.99 L582.87,388.67 L582.01,388.21 L581.23,387.61 L580.54,386.89 L579.96,386.07 L579.5,385.14 L579.16,384.14 L578.96,383.07 L578.89,381.95 L578.96,380.81 L579.16,379.66 L579.5,378.53 L579.96,377.43 L580.54,376.38 L581.23,375.39 L582.01,374.5 L582.87,373.7 L583.81,373.02 L584.8,372.47 L585.82,372.06 L586.86,371.78 L587.9,371.66 L588.92,371.68 L589.9,371.85 L590.84,372.17 L591.7,372.63 L592.49,373.23 L593.17,373.95 L593.75,374.77 L594.21,375.7 L594.55,376.7 L594.75,377.77 Z" stroke="#000" stroke-width="1.51" fill="#fff"/>
<path d="M578.89,381.95 L578.96,380.81 L579.16,379.66 L579.5,378.53 L579.96,377.43 L580.54,376.38 L581.23,375.39 L582.01,374.5 L582.87,373.7 L583.81,373.02 L584.8,372.47 L585.82,372.06 L586.86,371.78 L588.16,371.56 L589.32,371.42 L590.46,371.45 L591.56,371.64 L592.6,372 L593.57,372.51 L594.44,373.17 L595.21,373.98 L595.86,374.9 L596.37,375.93 L596.74,377.05 L596.97,378.25 L597.05,379.49 L596.97,380.76 L596.74,382.04 L596.37,383.31 L595.86,384.54 L595.21,385.71 L594.44,386.81 L593.57,387.81 L592.6,388.69 L591.56,389.45 L590.46,390.07 L589.32,390.53 L588.16,390.84 L587,390.98 L585.86,390.95 L584.76,390.76 L583.72,390.4 L582.75,389.89 L581.88,389.23 L581.11,388.42 L580.46,387.5 L579.95,386.47 L579.16,384.14 L578.96,383.07 Z" stroke="#000" stroke-width="1.51" fill="#fff"/>
<path d="M597.05,379.49 L596.97,380.76 L596.74,382.04 L596.37,383.31 L595.86,384.54 L595.21,385.71 L594.44,386.81 L593.57,387.81 L592.6,388.69 L591.56,389.45 L590.46,390.07 L589.32,390.53 L588.16,390.84 L587,390.98 L585.86,390.95 L584.76,390.76 L583.72,390.4 L582.75,389.89 L581.88,389.23 L581.11,388.42 L580.46,387.5 L579.95,386.47 L579.58,385.35 L579.35,384.15 L579.27,382.91 L579.35,381.64 L579.58,380.36 L579.95,379.09 L580.46,377.86 L581.11,376.69 L581.88,375.59 L582.75,374.59 L583.72,373.71 L584.76,372.95 L585.86,372.33 L587,371.87 L588.16,371.56 L589.32,371.42 L590.46,371.45 L591.56,371.64 L592.6,372 L593.57,372.51 L594.44,373.17 L595.21,373.98 L595.86,374.9 L596.37,375.93 L596.74,377.05 L596.97,378.25 Z" stroke="#000" stroke-width="1.51" fill="#fff"/>
<path d="M579.27,382.91 L579.35,381.64 L579.58,380.36 L579.95,379.09 L580.46,377.86 L581.11,376.69 L581.88,375.59 L582.75,374.59 L583.72,373.71 L584.76,372.95 L585.86,372.33 L587.1,371.81 L588.43,371.26 L589.79,370.91 L591.15,370.74 L592.48,370.77 L593.76,371 L594.98,371.42 L596.11,372.02 L597.13,372.79 L598.03,373.73 L598.78,374.81 L599.39,376.02 L599.82,377.33 L600.09,378.72 L600.18,380.18 L600.09,381.66 L599.82,383.16 L599.39,384.64 L598.78,386.08 L598.03,387.45 L597.13,388.73 L596.11,389.9 L594.98,390.93 L593.76,391.82 L592.48,392.54 L591.15,393.09 L589.79,393.44 L588.43,393.61 L587.1,393.58 L585.82,393.35 L584.6,392.93 L583.47,392.33 L582.45,391.56 L581.55,390.62 L580.8,389.54 L580.19,388.33 L579.76,387.02 L579.49,385.63 L579.35,384.15 Z" stroke="#000" stroke-width="1.51" fill="#fff"/>
<path d="M600.18,380.18 L600.09,381.66 L599.82,383.16 L599.39,384.64 L598.78,386.08 L598.03,387.45 L597.13,388.73 L596.11,389.9 L594.98,390.93 L593.76,391.82 L592.48,392.54 L591.15,393.09 L589.79,393.44 L588.43,393.61 L587.1,393.58 L585.82,393.35 L584.6,392.93 L583.47,392.33 L582.45,391.56 L581.55,390.62 L580.8,389.54 L580.19,388.33 L579.76,387.02 L579.49,385.63 L579.4,384.17 L579.49,382.69 L579.76,381.19 L580.19,379.71 L580.8,378.27 L581.55,376.9 L582.45,375.62 L583.47,374.45 L584.6,373.42 L585.82,372.53 L587.1,371.81 L588.43,371.26 L589.79,370.91 L591.15,370.74 L592.48,370.77 L593.76,371 L594.98,371.42 L596.11,372.02 L597.13,372.79 L598.03,373.73 L598.78,374.81 L599.39,376.02 L599.82,377.33 L600.09,378.72 Z" stroke="#000" stroke-width="1.51" fill="#fff"/>
<path d="M575.84,386.15 L575.97,383.92 L576.37,381.67 L577.03,379.45 L577.93,377.29 L579.06,375.24 L580.4,373.32 L581.94,371.57 L583.63,370.01 L585.46,368.68 L587.39,367.6 L589.39,366.78 L591.42,366.25 L593.45,366 L595.45,366.05 L597.38,366.39 L599.21,367.01 L600.9,367.92 L602.44,369.08 L603.78,370.48 L604.91,372.1 L605.81,373.91 L606.47,375.88 L606.87,377.97 L607,380.15 L606.87,382.38 L606.47,384.63 L605.81,386.85 L604.91,389.01 L603.78,391.06 L602.44,392.98 L600.9,394.73 L599.21,396.29 L597.38,397.62 L595.45,398.7 L593.45,399.52 L591.42,400.05 L589.39,400.3 L587.39,400.25 L585.46,399.91 L583.63,399.29 L581.94,398.38 L580.4,397.22 L579.06,395.82 L577.93,394.2 L577.03,392.39 L576.37,390.42 L575.97,388.33 Z" stroke="#000" stroke-width="1.51" fill="#fff"/>
<path d="M607,380.15 L606.87,382.38 L606.47,384.63 L605.81,386.85 L604.91,389.01 L603.78,391.06 L602.44,392.98 L600.9,394.73 L599.21,396.29 L597.38,397.62 L595.45,398.7 L593.45,399.52 L591.42,400.05 L589.39,400.3 L587.39,400.25 L585.46,399.91 L583.63,399.29 L581.94,398.38 L580.4,397.22 L579.06,395.82 L577.93,394.2 L577.03,392.39 L576.37,390.42 L575.97,388.33 L575.84,386.15 L575.97,383.92 L576.37,381.67 L577.03,379.45 L577.93,377.29 L579.06,375.24 L580.4,373.32 L581.94,371.57 L583.63,370.01 L585.46,368.68 L587.39,367.6 L589.39,366.78 L591.42,366.25 L593.45,366 L595.45,366.05 L597.38,366.39 L599.21,367.01 L600.9,367.92 L602.44,369.08 L603.78,370.48 L604.91,372.1 L605.81,373.91 L606.47,375.88 L606.87,377.97 Z" stroke="#000" stroke-width="1.51" fill="#fff"/>
<path d="M573.54,388.65 L573.72,385.72 L574.24,382.76 L575.1,379.85 L576.29,377.01 L577.78,374.31 L579.54,371.78 L581.56,369.48 L583.79,367.43 L586.19,365.69 L588.73,364.26 L591.35,363.19 L594.03,362.49 L596.7,362.16 L599.33,362.22 L601.87,362.67 L604.27,363.49 L606.5,364.68 L608.51,366.21 L610.28,368.06 L611.77,370.19 L612.95,372.57 L613.81,375.15 L614.34,377.9 L614.51,380.77 L614.34,383.7 L613.81,386.66 L612.95,389.57 L611.77,392.41 L610.28,395.11 L608.51,397.64 L606.5,399.94 L604.27,401.99 L601.87,403.73 L599.33,405.16 L596.7,406.23 L594.03,406.93 L591.35,407.26 L588.73,407.2 L586.19,406.75 L583.79,405.93 L581.56,404.74 L579.54,403.21 L577.78,401.36 L576.29,399.23 L575.1,396.85 L574.24,394.27 L573.72,391.52 Z" stroke="#000" stroke-width="1.51" fill="#fff"/>
<path d="M614.51,380.77 L614.34,383.7 L613.81,386.66 L612.95,389.57 L611.77,392.41 L610.28,395.11 L608.51,397.64 L606.5,399.94 L604.27,401.99 L601.87,403.73 L599.33,405.16 L596.7,406.23 L594.03,406.93 L591.35,407.26 L588.73,407.2 L586.19,406.75 L583.79,405.93 L581.56,404.74 L579.54,403.21 L577.78,401.36 L576.29,399.23 L575.1,396.85 L574.24,394.27 L573.72,391.52 L573.54,388.65 L573.72,385.72 L574.24,382.76 L575.1,379.85 L576.29,377.01 L577.78,374.31 L579.54,371.78 L581.56,369.48 L583.79,367.43 L586.19,365.69 L588.73,364.26 L591.35,363.19 L594.03,362.49 L596.7,362.16 L599.33,362.22 L601.87,362.67 L604.27,363.49 L606.5,364.68 L608.51,366.21 L610.28,368.06 L611.77,370.19 L612.95,372.57 L613.81,375.15 L614.34,377.9 Z" stroke="#000" stroke-width="1.51" fill="#fff"/>
<path d="M573.54,388.65 L573.72,385.72 L574.24,382.76 L575.1,379.85 L576.29,377.01 L577.78,374.31 L579.54,371.78 L581.56,369.48 L583.79,367.43 L586.19,365.69 L588.73,364.26 L591.35,363.19 L594.24,362.11 L597.29,361.31 L600.34,360.94 L603.34,361.01 L606.23,361.52 L608.97,362.46 L611.51,363.81 L613.81,365.55 L615.83,367.66 L617.53,370.09 L618.88,372.8 L619.86,375.76 L620.46,378.89 L620.66,382.16 L620.46,385.51 L619.86,388.88 L618.88,392.21 L617.53,395.44 L615.83,398.53 L613.81,401.41 L611.51,404.04 L608.97,406.37 L606.23,408.36 L603.34,409.99 L600.34,411.21 L597.29,412.01 L594.24,412.38 L591.24,412.31 L588.35,411.8 L585.6,410.86 L583.06,409.51 L580.76,407.77 L578.75,405.66 L577.05,403.23 L575.7,400.52 L574.72,397.56 L574.12,394.43 L573.72,391.52 Z" stroke="#000" stroke-width="1.51" fill="#fff"/>
<path d="M620.66,382.16 L620.46,385.51 L619.86,388.88 L618.88,392.21 L617.53,395.44 L615.83,398.53 L613.81,401.41 L611.51,404.04 L608.97,406.37 L606.23,408.36 L603.34,409.99 L600.34,411.21 L597.29,412.01 L594.24,412.38 L591.24,412.31 L588.35,411.8 L585.6,410.86 L583.06,409.51 L580.76,407.77 L578.75,405.66 L577.05,403.23 L575.7,400.52 L574.72,397.56 L574.12,394.43 L573.92,391.16 L574.12,387.81 L574.72,384.44 L575.7,381.11 L577.05,377.88 L578.75,374.79 L580.76,371.91 L583.06,369.28 L585.6,366.95 L588.35,364.96 L591.24,363.33 L594.24,362.11 L597.29,361.31 L600.34,360.94 L603.34,361.01 L606.23,361.52 L608.97,362.46 L611.51,363.81 L613.81,365.55 L615.83,367.66 L617.53,370.09 L618.88,372.8 L619.86,375.76 L620.46,378.89 Z" stroke="#000" stroke-width="1.51" fill="#fff"/>
<path d="M573.92,391.16 L574.12,387.81 L574.72,384.44 L575.7,381.11 L577.05,377.88 L578.75,374.79 L580.76,371.91 L583.06,369.28 L585.6,366.95 L588.35,364.96 L591.24,363.33 L594.24,362.11 L597.29,361.31 L600.34,360.94 L603.34,361.01 L606.23,361.52 L609.5,362.34 L612.34,363.31 L614.97,364.72 L617.36,366.53 L619.45,368.71 L621.21,371.23 L622.61,374.05 L623.63,377.11 L624.25,380.36 L624.46,383.75 L624.25,387.22 L623.63,390.72 L622.61,394.17 L621.21,397.52 L619.45,400.72 L617.36,403.71 L614.97,406.44 L612.34,408.85 L609.5,410.92 L606.49,412.6 L603.39,413.87 L600.22,414.71 L597.06,415.09 L593.95,415.02 L590.95,414.49 L588.11,413.52 L585.47,412.11 L583.09,410.3 L581,408.12 L578.75,405.66 L577.05,403.23 L575.7,400.52 L574.72,397.56 L574.12,394.43 Z" stroke="#000" stroke-width="1.51" fill="#fff"/>
<path d="M624.46,383.75 L624.25,387.22 L623.63,390.72 L622.61,394.17 L621.21,397.52 L619.45,400.72 L617.36,403.71 L614.97,406.44 L612.34,408.85 L609.5,410.92 L606.49,412.6 L603.39,413.87 L600.22,414.71 L597.06,415.09 L593.95,415.02 L590.95,414.49 L588.11,413.52 L585.47,412.11 L583.09,410.3 L581,408.12 L579.23,405.6 L577.83,402.78 L576.81,399.72 L576.2,396.47 L575.99,393.08 L576.2,389.61 L576.81,386.11 L577.83,382.66 L579.23,379.31 L581,376.11 L583.09,373.12 L585.47,370.39 L588.11,367.98 L590.95,365.91 L593.95,364.23 L597.06,362.96 L600.22,362.12 L603.39,361.74 L606.49,361.81 L609.5,362.34 L612.34,363.31 L614.97,364.72 L617.36,366.53 L619.45,368.71 L621.21,371.23 L622.61,374.05 L623.63,377.11 L624.25,380.36 Z" stroke="#000" stroke-width="1.51" fill="#fff"/>
<path d="M575.99,393.08 L576.2,389.61 L576.81,386.11 L577.83,382.66 L579.23,379.31 L581,376.11 L583.09,373.12 L585.47,370.39 L588.11,367.98 L590.95,365.91 L593.95,364.23 L597.06,362.96 L600.22,362.12 L603.39,361.74 L606.49,361.81 L609.5,362.34 L612.34,363.31 L613.4,363.72 L616.06,365.13 L618.46,366.96 L620.56,369.16 L622.34,371.69 L623.75,374.53 L624.78,377.61 L625.4,380.89 L625.61,384.3 L625.4,387.8 L624.78,391.32 L623.75,394.8 L622.34,398.17 L620.56,401.39 L618.46,404.4 L616.06,407.15 L613.4,409.58 L610.54,411.67 L607.52,413.36 L604.39,414.64 L601.2,415.48 L598.01,415.87 L594.88,415.79 L591.86,415.26 L589,414.28 L586.34,412.87 L583.94,411.04 L583.09,410.3 L581,408.12 L579.23,405.6 L577.83,402.78 L576.81,399.72 L576.2,396.47 Z" stroke="#000" stroke-width="1.51" fill="#fff"/>
<path d="M625.61,384.3 L625.4,387.8 L624.78,391.32 L623.75,394.8 L622.34,398.17 L620.56,401.39 L618.46,404.4 L616.06,407.15 L613.4,409.58 L610.54,411.67 L607.52,413.36 L604.39,414.64 L601.2,415.48 L598.01,415.87 L594.88,415.79 L591.86,415.26 L589,414.28 L586.34,412.87 L583.94,411.04 L581.84,408.84 L580.06,406.31 L578.65,403.47 L577.62,400.39 L577,397.11 L576.79,393.7 L577,390.2 L577.62,386.68 L578.65,383.2 L580.06,379.83 L581.84,376.61 L583.94,373.6 L586.34,370.85 L589,368.42 L591.86,366.33 L594.88,364.64 L598.01,363.36 L601.2,362.52 L604.39,362.13 L607.52,362.21 L610.54,362.74 L613.4,363.72 L616.06,365.13 L618.46,366.96 L620.56,369.16 L622.34,371.69 L623.75,374.53 L624.78,377.61 L625.4,380.89 Z" stroke="#000" stroke-width="1.51" fill="#fff"/>
<path d="M576.79,393.7 L577,390.2 L577.62,386.68 L578.65,383.2 L580.06,379.83 L581.84,376.61 L583.94,373.6 L586.34,370.85 L589,368.42 L591.86,366.33 L594.88,364.64 L598.01,363.36 L601.2,362.52 L604.39,362.13 L607.52,362.21 L610.54,362.74 L613.4,363.72 L616.06,365.13 L616.91,365.64 L619.31,367.46 L621.41,369.66 L623.18,372.2 L624.6,375.04 L625.62,378.12 L626.25,381.4 L626.45,384.81 L626.25,388.31 L625.62,391.83 L624.6,395.3 L623.18,398.68 L621.41,401.9 L619.31,404.91 L616.91,407.66 L614.25,410.09 L611.39,412.17 L608.36,413.87 L605.23,415.15 L602.05,415.99 L598.86,416.37 L595.73,416.3 L592.71,415.77 L589.84,414.79 L587.19,413.37 L586.34,412.87 L583.94,411.04 L581.84,408.84 L580.06,406.31 L578.65,403.47 L577.62,400.39 L577,397.11 Z" stroke="#000" stroke-width="1.51" fill="#fff"/>
<path d="M626.45,384.81 L626.25,388.31 L625.62,391.83 L624.6,395.3 L623.18,398.68 L621.41,401.9 L619.31,404.91 L616.91,407.66 L614.25,410.09 L611.39,412.17 L608.36,413.87 L605.23,415.15 L602.05,415.99 L598.86,416.37 L595.73,416.3 L592.71,415.77 L589.84,414.79 L587.19,413.37 L584.79,411.55 L582.68,409.35 L580.91,406.81 L579.5,403.98 L578.47,400.9 L577.85,397.62 L577.64,394.2 L577.85,390.71 L578.47,387.19 L579.5,383.71 L580.91,380.33 L582.68,377.11 L584.79,374.1 L587.19,371.36 L589.84,368.92 L592.71,366.84 L595.73,365.14 L598.86,363.87 L602.05,363.03 L605.23,362.64 L608.36,362.71 L611.39,363.25 L614.25,364.23 L616.91,365.64 L619.31,367.46 L621.41,369.66 L623.18,372.2 L624.6,375.04 L625.62,378.12 L626.25,381.4 Z" stroke="#000" stroke-width="1.51" fill="#fff"/>
<path d="M625.7,384.96 L625.5,388.35 L624.9,391.75 L623.9,395.12 L622.54,398.4 L620.82,401.52 L618.78,404.44 L616.45,407.1 L613.88,409.46 L611.1,411.48 L608.17,413.12 L605.14,414.36 L602.05,415.17 L598.96,415.55 L595.92,415.48 L592.99,414.96 L590.22,414.01 L587.65,412.64 L585.32,410.87 L583.28,408.74 L581.56,406.28 L580.19,403.53 L579.2,400.55 L578.59,397.37 L578.39,394.06 L578.59,390.67 L579.2,387.26 L580.19,383.89 L581.56,380.62 L583.28,377.49 L585.32,374.58 L587.65,371.92 L590.22,369.56 L592.99,367.54 L595.92,365.89 L598.96,364.65 L602.05,363.84 L605.14,363.47 L608.17,363.54 L611.1,364.05 L613.88,365 L616.45,366.37 L618.78,368.14 L620.82,370.27 L622.54,372.73 L623.9,375.48 L624.9,378.47 L625.5,381.64 Z" stroke="#000" stroke-width="1.23" fill="#fff"/>
<path d="M621.24,399.73 L614.87,407.86 L621.63,405.73 Z" stroke="#000" stroke-width="1.23" fill="#fff"/>
<path d="M624.68,390.04 L621.24,399.73 L626.32,397.21 Z" stroke="#000" stroke-width="1.23" fill="#fff"/>
<path d="M614.87,407.86 L606.55,413.2 L614.61,412.17 Z" stroke="#000" stroke-width="1.23" fill="#fff"/>
<path d="M624.68,380.27 L624.68,390.04 L627.97,387.91 Z" stroke="#000" stroke-width="1.23" fill="#fff"/>
<path d="M626.32,397.21 L621.24,399.73 L621.63,405.73 Z" stroke="#000" stroke-width="1.23" fill="#fff"/>
<path d="M621.63,405.73 L614.87,407.86 L614.61,412.17 Z" stroke="#000" stroke-width="1.23" fill="#fff"/>
<path d="M627.97,387.91 L624.68,390.04 L626.32,397.21 Z" stroke="#000" stroke-width="1.23" fill="#fff"/>
<path d="M606.55,413.2 L597.54,414.93 L606.33,415.55 Z" stroke="#000" stroke-width="1.23" fill="#fff"/>
<path d="M614.61,412.17 L606.55,413.2 L606.33,415.55 Z" stroke="#000" stroke-width="1.23" fill="#fff"/>
<path d="M621.24,371.9 L624.68,380.27 L626.32,379.24 Z" stroke="#000" stroke-width="1.23" fill="#fff"/>
<path d="M626.32,379.24 L624.68,380.27 L627.97,387.91 Z" stroke="#000" stroke-width="1.23" fill="#fff"/>
<path d="M626.32,397.21 L621.63,405.73 L625.28,402.43 Z" stroke="#000" stroke-width="1.23" fill="#fff"/>
<path d="M621.63,405.73 L614.61,412.17 L620.35,408.73 Z" stroke="#000" stroke-width="1.23" fill="#fff"/>
<path d="M627.97,387.91 L626.32,397.21 L627.95,394.92 Z" stroke="#000" stroke-width="1.23" fill="#fff"/>
<path d="M606.33,415.55 L597.54,414.93 L598.05,415.35 Z" stroke="#000" stroke-width="1.23" fill="#fff"/>
<path d="M597.54,414.93 L589.23,412.79 L598.05,415.35 Z" stroke="#000" stroke-width="1.23" fill="#fff"/>
<path d="M625.28,402.43 L621.63,405.73 L620.35,408.73 Z" stroke="#000" stroke-width="1.23" fill="#fff"/>
<path d="M627.95,394.92 L626.32,397.21 L625.28,402.43 Z" stroke="#000" stroke-width="1.23" fill="#fff"/>
<path d="M621.63,372.53 L621.24,371.9 L626.32,379.24 Z" stroke="#000" stroke-width="1.23" fill="#fff"/>
<path d="M614.61,412.17 L606.33,415.55 L613.9,412.87 Z" stroke="#000" stroke-width="1.23" fill="#fff"/>
<path d="M614.87,366.22 L621.24,371.9 L621.63,372.53 Z" stroke="#000" stroke-width="1.23" fill="#fff"/>
<path d="M626.32,379.24 L627.97,387.91 L627.95,387.35 Z" stroke="#000" stroke-width="1.23" fill="#fff"/>
<path d="M620.35,408.73 L614.61,412.17 L613.9,412.87 Z" stroke="#000" stroke-width="1.23" fill="#fff"/>
<path d="M627.95,387.35 L627.97,387.91 L627.95,394.92 Z" stroke="#000" stroke-width="1.23" fill="#fff"/>
<path d="M606.33,415.55 L598.05,415.35 L606.92,414.21 Z" stroke="#000" stroke-width="1.23" fill="#fff"/>
<path d="M598.05,415.35 L589.23,412.79 L591.03,411.61 Z" stroke="#000" stroke-width="1.23" fill="#fff"/>
<path d="M613.9,412.87 L606.33,415.55 L606.92,414.21 Z" stroke="#000" stroke-width="1.23" fill="#fff"/>
<path d="M621.63,372.53 L626.32,379.24 L625.28,380.87 Z" stroke="#000" stroke-width="1.23" fill="#fff"/>
<path d="M589.23,412.79 L582.86,407.11 L591.03,411.61 Z" stroke="#000" stroke-width="1.23" fill="#fff"/>
<path d="M625.28,380.87 L626.32,379.24 L627.95,387.35 Z" stroke="#000" stroke-width="1.23" fill="#fff"/>
<path d="M614.61,368.79 L614.87,366.22 L621.63,372.53 Z" stroke="#000" stroke-width="1.23" fill="#fff"/>
<path d="M606.55,364.08 L614.87,366.22 L614.61,368.79 Z" stroke="#000" stroke-width="1.23" fill="#fff"/>
<path d="M606.92,414.21 L598.05,415.35 L600.47,412.56 Z" stroke="#000" stroke-width="1.23" fill="#fff"/>
<path d="M598.05,415.35 L591.03,411.61 L600.47,412.56 Z" stroke="#000" stroke-width="1.23" fill="#fff"/>
<path d="M615.32,397.44 L625.28,402.43 L620.35,408.73 Z" stroke="#000" stroke-width="1.23" fill="#fff"/>
<path d="M615.32,397.44 L627.95,394.92 L625.28,402.43 Z" stroke="#000" stroke-width="1.23" fill="#fff"/>
<path d="M620.35,376.46 L621.63,372.53 L625.28,380.87 Z" stroke="#000" stroke-width="1.23" fill="#fff"/>
<path d="M614.61,368.79 L621.63,372.53 L620.35,376.46 Z" stroke="#000" stroke-width="1.23" fill="#fff"/>
<path d="M591.03,411.61 L582.86,407.11 L586.34,404.9 Z" stroke="#000" stroke-width="1.23" fill="#fff"/>
<path d="M582.86,407.11 L579.41,398.75 L586.34,404.9 Z" stroke="#000" stroke-width="1.23" fill="#fff"/>
<path d="M615.32,397.44 L620.35,408.73 L613.9,412.87 Z" stroke="#000" stroke-width="1.23" fill="#fff"/>
<path d="M615.32,397.44 L627.95,387.35 L627.95,394.92 Z" stroke="#000" stroke-width="1.23" fill="#fff"/>
<path d="M606.33,368.6 L606.55,364.08 L614.61,368.79 Z" stroke="#000" stroke-width="1.23" fill="#fff"/>
<path d="M597.54,365.81 L606.55,364.08 L606.33,368.6 Z" stroke="#000" stroke-width="1.23" fill="#fff"/>
<path d="M615.32,397.44 L613.9,412.87 L606.92,414.21 Z" stroke="#000" stroke-width="1.23" fill="#fff"/>
<path d="M615.32,397.44 L625.28,380.87 L627.95,387.35 Z" stroke="#000" stroke-width="1.23" fill="#fff"/>
<path d="M600.47,412.56 L591.03,411.61 L595.54,408.15 Z" stroke="#000" stroke-width="1.23" fill="#fff"/>
<path d="M591.03,411.61 L586.34,404.9 L595.54,408.15 Z" stroke="#000" stroke-width="1.23" fill="#fff"/>
<path d="M579.41,398.75 L579.41,388.98 L584.7,396.23 Z" stroke="#000" stroke-width="1.23" fill="#fff"/>
<path d="M613.9,374.8 L614.61,368.79 L620.35,376.46 Z" stroke="#000" stroke-width="1.23" fill="#fff"/>
<path d="M586.34,404.9 L579.41,398.75 L584.7,396.23 Z" stroke="#000" stroke-width="1.23" fill="#fff"/>
<path d="M589.23,371.15 L597.54,365.81 L598.05,371.98 Z" stroke="#000" stroke-width="1.23" fill="#fff"/>
<path d="M606.33,368.6 L614.61,368.79 L613.9,374.8 Z" stroke="#000" stroke-width="1.23" fill="#fff"/>
<path d="M615.32,397.44 L606.92,414.21 L600.47,412.56 Z" stroke="#000" stroke-width="1.23" fill="#fff"/>
<path d="M598.05,371.98 L597.54,365.81 L606.33,368.6 Z" stroke="#000" stroke-width="1.23" fill="#fff"/>
<path d="M615.32,397.44 L620.35,376.46 L625.28,380.87 Z" stroke="#000" stroke-width="1.23" fill="#fff"/>
<path d="M579.41,388.98 L582.86,379.29 L586.34,386.93 Z" stroke="#000" stroke-width="1.23" fill="#fff"/>
<path d="M582.86,379.29 L589.23,371.15 L591.03,378.42 Z" stroke="#000" stroke-width="1.23" fill="#fff"/>
<path d="M584.7,396.23 L579.41,388.98 L586.34,386.93 Z" stroke="#000" stroke-width="1.23" fill="#fff"/>
<path d="M615.32,397.44 L600.47,412.56 L595.54,408.15 Z" stroke="#000" stroke-width="1.23" fill="#fff"/>
<path d="M591.03,378.42 L589.23,371.15 L598.05,371.98 Z" stroke="#000" stroke-width="1.23" fill="#fff"/>
<path d="M595.54,408.15 L586.34,404.9 L592.87,401.67 Z" stroke="#000" stroke-width="1.23" fill="#fff"/>
<path d="M615.32,397.44 L613.9,374.8 L620.35,376.46 Z" stroke="#000" stroke-width="1.23" fill="#fff"/>
<path d="M586.34,404.9 L584.7,396.23 L592.87,401.67 Z" stroke="#000" stroke-width="1.23" fill="#fff"/>
<path d="M606.92,376.15 L606.33,368.6 L613.9,374.8 Z" stroke="#000" stroke-width="1.23" fill="#fff"/>
<path d="M598.05,371.98 L606.33,368.6 L606.92,376.15 Z" stroke="#000" stroke-width="1.23" fill="#fff"/>
<path d="M586.34,386.93 L582.86,379.29 L591.03,378.42 Z" stroke="#000" stroke-width="1.23" fill="#fff"/>
<path d="M615.32,397.44 L595.54,408.15 L592.87,401.67 Z" stroke="#000" stroke-width="1.23" fill="#fff"/>
<path d="M615.32,397.44 L606.92,376.15 L613.9,374.8 Z" stroke="#000" stroke-width="1.23" fill="#fff"/>
<path d="M584.7,396.23 L586.34,386.93 L592.87,394.1 Z" stroke="#000" stroke-width="1.23" fill="#fff"/>
<path d="M591.03,378.42 L598.05,371.98 L600.47,380.28 Z" stroke="#000" stroke-width="1.23" fill="#fff"/>
<path d="M592.87,401.67 L584.7,396.23 L592.87,394.1 Z" stroke="#000" stroke-width="1.23" fill="#fff"/>
<path d="M600.47,380.28 L598.05,371.98 L606.92,376.15 Z" stroke="#000" stroke-width="1.23" fill="#fff"/>
<path d="M586.34,386.93 L591.03,378.42 L595.54,386.59 Z" stroke="#000" stroke-width="1.23" fill="#fff"/>
<path d="M615.32,397.44 L592.87,401.67 L592.87,394.1 Z" stroke="#000" stroke-width="1.23" fill="#fff"/>
<path d="M615.32,397.44 L600.47,380.28 L606.92,376.15 Z" stroke="#000" stroke-width="1.23" fill="#fff"/>
<path d="M592.87,394.1 L586.34,386.93 L595.54,386.59 Z" stroke="#000" stroke-width="1.23" fill="#fff"/>
<path d="M595.54,386.59 L591.03,378.42 L600.47,380.28 Z" stroke="#000" stroke-width="1.23" fill="#fff"/>
<path d="M615.32,397.44 L592.87,394.1 L595.54,386.59 Z" stroke="#000" stroke-width="1.23" fill="#fff"/>
<path d="M615.32,397.44 L595.54,386.59 L600.47,380.28 Z" stroke="#000" stroke-width="1.23" fill="#fff"/>
<circle cx="615.32" cy="397.44" r="1.5" stroke="#000" stroke-width="0" fill="#000"/>
<path d="M732.72,352.36 L732.65,353.5 L732.45,354.65 L732.12,355.78 L731.65,356.88 L731.08,357.93 L730.39,358.92 L729.61,359.81 L728.74,360.61 L727.81,361.29 L726.82,361.84 L725.8,362.26 L724.76,362.53 L723.72,362.66 L722.7,362.63 L721.71,362.46 L720.78,362.14 L719.91,361.68 L719.13,361.08 L718.44,360.37 L717.86,359.54 L717.4,358.61 L717.07,357.61 L716.86,356.54 L716.8,355.42 L716.86,354.28 L717.07,353.13 L717.4,352 L717.86,350.9 L718.44,349.85 L719.13,348.87 L719.91,347.97 L720.78,347.18 L721.71,346.5 L722.7,345.94 L723.72,345.53 L724.76,345.25 L725.8,345.13 L726.82,345.15 L727.81,345.32 L728.74,345.64 L729.61,346.1 L730.39,346.7 L731.08,347.42 L731.65,348.25 L732.12,349.17 L732.45,350.18 L732.65,351.24 Z" stroke="#000" stroke-width="1.51" fill="#fff"/>
<path d="M716.8,355.42 L716.86,354.28 L717.07,353.13 L717.4,352 L717.86,350.9 L718.44,349.85 L719.13,348.87 L719.91,347.97 L720.78,347.18 L721.71,346.5 L722.7,345.94 L723.72,345.53 L724.76,345.25 L726.06,345.03 L727.22,344.89 L728.36,344.92 L729.46,345.11 L730.51,345.47 L731.47,345.98 L732.35,346.65 L733.11,347.45 L733.76,348.37 L734.27,349.4 L734.65,350.52 L734.87,351.72 L734.95,352.96 L734.87,354.23 L734.65,355.51 L734.27,356.78 L733.76,358.01 L733.11,359.18 L732.35,360.28 L731.47,361.28 L730.51,362.17 L729.46,362.92 L728.36,363.54 L727.22,364.01 L726.06,364.31 L724.9,364.45 L723.76,364.43 L722.66,364.23 L721.62,363.87 L720.65,363.36 L719.78,362.7 L719.01,361.9 L718.37,360.97 L717.85,359.94 L717.4,358.61 L717.07,357.61 L716.86,356.54 Z" stroke="#000" stroke-width="1.51" fill="#fff"/>
<path d="M734.95,352.96 L734.87,354.23 L734.65,355.51 L734.27,356.78 L733.76,358.01 L733.11,359.18 L732.35,360.28 L731.47,361.28 L730.51,362.17 L729.46,362.92 L728.36,363.54 L727.22,364.01 L726.06,364.31 L724.9,364.45 L723.76,364.43 L722.66,364.23 L721.62,363.87 L720.65,363.36 L719.78,362.7 L719.01,361.9 L718.37,360.97 L717.85,359.94 L717.48,358.82 L717.25,357.62 L717.18,356.38 L717.25,355.11 L717.48,353.83 L717.85,352.56 L718.37,351.33 L719.01,350.16 L719.78,349.06 L720.65,348.06 L721.62,347.18 L722.66,346.42 L723.76,345.8 L724.9,345.34 L726.06,345.03 L727.22,344.89 L728.36,344.92 L729.46,345.11 L730.51,345.47 L731.47,345.98 L732.35,346.65 L733.11,347.45 L733.76,348.37 L734.27,349.4 L734.65,350.52 L734.87,351.72 Z" stroke="#000" stroke-width="1.51" fill="#fff"/>
<path d="M717.18,356.38 L717.25,355.11 L717.48,353.83 L717.85,352.56 L718.37,351.33 L719.01,350.16 L719.78,349.06 L720.65,348.06 L721.62,347.18 L722.66,346.42 L723.76,345.8 L725,345.28 L726.34,344.74 L727.69,344.38 L729.05,344.21 L730.38,344.24 L731.67,344.47 L732.89,344.89 L734.02,345.49 L735.04,346.27 L735.93,347.2 L736.69,348.28 L737.29,349.49 L737.73,350.8 L737.99,352.19 L738.08,353.65 L737.99,355.14 L737.73,356.63 L737.29,358.11 L736.69,359.55 L735.93,360.92 L735.04,362.2 L734.02,363.37 L732.89,364.41 L731.67,365.29 L730.38,366.01 L729.05,366.56 L727.69,366.91 L726.34,367.08 L725,367.05 L723.72,366.82 L722.5,366.4 L721.37,365.8 L720.35,365.03 L719.45,364.09 L718.7,363.01 L718.1,361.8 L717.66,360.49 L717.4,359.1 L717.25,357.62 Z" stroke="#000" stroke-width="1.51" fill="#fff"/>
<path d="M738.08,353.65 L737.99,355.14 L737.73,356.63 L737.29,358.11 L736.69,359.55 L735.93,360.92 L735.04,362.2 L734.02,363.37 L732.89,364.41 L731.67,365.29 L730.38,366.01 L729.05,366.56 L727.69,366.91 L726.34,367.08 L725,367.05 L723.72,366.82 L722.5,366.4 L721.37,365.8 L720.35,365.03 L719.45,364.09 L718.7,363.01 L718.1,361.8 L717.66,360.49 L717.4,359.1 L717.31,357.64 L717.4,356.16 L717.66,354.66 L718.1,353.18 L718.7,351.74 L719.45,350.37 L720.35,349.09 L721.37,347.92 L722.5,346.89 L723.72,346 L725,345.28 L726.34,344.74 L727.69,344.38 L729.05,344.21 L730.38,344.24 L731.67,344.47 L732.89,344.89 L734.02,345.49 L735.04,346.27 L735.93,347.2 L736.69,348.28 L737.29,349.49 L737.73,350.8 L737.99,352.19 Z" stroke="#000" stroke-width="1.51" fill="#fff"/>
<path d="M713.74,359.62 L713.88,357.39 L714.27,355.14 L714.93,352.92 L715.83,350.77 L716.96,348.71 L718.31,346.79 L719.84,345.04 L721.53,343.48 L723.36,342.15 L725.29,341.07 L727.29,340.25 L729.32,339.72 L731.36,339.47 L733.36,339.52 L735.28,339.86 L737.11,340.48 L738.81,341.39 L740.34,342.55 L741.68,343.95 L742.81,345.57 L743.72,347.38 L744.37,349.35 L744.77,351.44 L744.9,353.62 L744.77,355.86 L744.37,358.1 L743.72,360.32 L742.81,362.48 L741.68,364.53 L740.34,366.45 L738.81,368.21 L737.11,369.76 L735.28,371.09 L733.36,372.17 L731.36,372.99 L729.32,373.52 L727.29,373.77 L725.29,373.72 L723.36,373.38 L721.53,372.76 L719.84,371.85 L718.31,370.69 L716.96,369.29 L715.83,367.67 L714.93,365.86 L714.27,363.89 L713.88,361.8 Z" stroke="#000" stroke-width="1.51" fill="#fff"/>
<path d="M744.9,353.62 L744.77,355.86 L744.37,358.1 L743.72,360.32 L742.81,362.48 L741.68,364.53 L740.34,366.45 L738.81,368.21 L737.11,369.76 L735.28,371.09 L733.36,372.17 L731.36,372.99 L729.32,373.52 L727.29,373.77 L725.29,373.72 L723.36,373.38 L721.53,372.76 L719.84,371.85 L718.31,370.69 L716.96,369.29 L715.83,367.67 L714.93,365.86 L714.27,363.89 L713.88,361.8 L713.74,359.62 L713.88,357.39 L714.27,355.14 L714.93,352.92 L715.83,350.77 L716.96,348.71 L718.31,346.79 L719.84,345.04 L721.53,343.48 L723.36,342.15 L725.29,341.07 L727.29,340.25 L729.32,339.72 L731.36,339.47 L733.36,339.52 L735.28,339.86 L737.11,340.48 L738.81,341.39 L740.34,342.55 L741.68,343.95 L742.81,345.57 L743.72,347.38 L744.37,349.35 L744.77,351.44 Z" stroke="#000" stroke-width="1.51" fill="#fff"/>
<path d="M711.45,362.12 L711.62,359.19 L712.15,356.24 L713.01,353.32 L714.19,350.48 L715.68,347.78 L717.45,345.25 L719.46,342.95 L721.69,340.91 L724.09,339.16 L726.63,337.74 L729.26,336.66 L731.93,335.96 L734.6,335.63 L737.23,335.7 L739.77,336.14 L742.17,336.97 L744.4,338.15 L746.42,339.68 L748.18,341.53 L749.67,343.66 L750.86,346.04 L751.72,348.62 L752.24,351.37 L752.41,354.24 L752.24,357.17 L751.72,360.13 L750.86,363.04 L749.67,365.88 L748.18,368.58 L746.42,371.11 L744.4,373.41 L742.17,375.46 L739.77,377.2 L737.23,378.63 L734.6,379.7 L731.93,380.4 L729.26,380.73 L726.63,380.67 L724.09,380.22 L721.69,379.4 L719.46,378.21 L717.45,376.68 L715.68,374.84 L714.19,372.71 L713.01,370.33 L712.15,367.74 L711.62,364.99 Z" stroke="#000" stroke-width="1.51" fill="#fff"/>
<path d="M752.41,354.24 L752.24,357.17 L751.72,360.13 L750.86,363.04 L749.67,365.88 L748.18,368.58 L746.42,371.11 L744.4,373.41 L742.17,375.46 L739.77,377.2 L737.23,378.63 L734.6,379.7 L731.93,380.4 L729.26,380.73 L726.63,380.67 L724.09,380.22 L721.69,379.4 L719.46,378.21 L717.45,376.68 L715.68,374.84 L714.19,372.71 L713.01,370.33 L712.15,367.74 L711.62,364.99 L711.45,362.12 L711.62,359.19 L712.15,356.24 L713.01,353.32 L714.19,350.48 L715.68,347.78 L717.45,345.25 L719.46,342.95 L721.69,340.91 L724.09,339.16 L726.63,337.74 L729.26,336.66 L731.93,335.96 L734.6,335.63 L737.23,335.7 L739.77,336.14 L742.17,336.97 L744.4,338.15 L746.42,339.68 L748.18,341.53 L749.67,343.66 L750.86,346.04 L751.72,348.62 L752.24,351.37 Z" stroke="#000" stroke-width="1.51" fill="#fff"/>
<path d="M711.45,362.12 L711.62,359.19 L712.15,356.24 L713.01,353.32 L714.19,350.48 L715.68,347.78 L717.45,345.25 L719.46,342.95 L721.69,340.91 L724.09,339.16 L726.63,337.74 L729.26,336.66 L732.14,335.58 L735.19,334.78 L738.24,334.41 L741.24,334.48 L744.13,334.99 L746.88,335.93 L749.42,337.28 L751.72,339.02 L753.73,341.13 L755.43,343.56 L756.78,346.28 L757.76,349.23 L758.36,352.36 L758.56,355.64 L758.36,358.98 L757.76,362.35 L756.78,365.68 L755.43,368.91 L753.73,372 L751.72,374.88 L749.42,377.51 L746.88,379.84 L744.13,381.83 L741.24,383.46 L738.24,384.68 L735.19,385.48 L732.14,385.85 L729.14,385.78 L726.25,385.27 L723.51,384.34 L720.97,382.98 L718.67,381.24 L716.65,379.13 L714.95,376.7 L713.6,373.99 L712.62,371.04 L712.02,367.9 L711.62,364.99 Z" stroke="#000" stroke-width="1.51" fill="#fff"/>
<path d="M758.56,355.64 L758.36,358.98 L757.76,362.35 L756.78,365.68 L755.43,368.91 L753.73,372 L751.72,374.88 L749.42,377.51 L746.88,379.84 L744.13,381.83 L741.24,383.46 L738.24,384.68 L735.19,385.48 L732.14,385.85 L729.14,385.78 L726.25,385.27 L723.51,384.34 L720.97,382.98 L718.67,381.24 L716.65,379.13 L714.95,376.7 L713.6,373.99 L712.62,371.04 L712.02,367.9 L711.82,364.63 L712.02,361.28 L712.62,357.91 L713.6,354.58 L714.95,351.35 L716.65,348.26 L718.67,345.38 L720.97,342.75 L723.51,340.42 L726.25,338.43 L729.14,336.81 L732.14,335.58 L735.19,334.78 L738.24,334.41 L741.24,334.48 L744.13,334.99 L746.88,335.93 L749.42,337.28 L751.72,339.02 L753.73,341.13 L755.43,343.56 L756.78,346.28 L757.76,349.23 L758.36,352.36 Z" stroke="#000" stroke-width="1.51" fill="#fff"/>
<path d="M711.82,364.63 L712.02,361.28 L712.62,357.91 L713.6,354.58 L714.95,351.35 L716.65,348.26 L718.67,345.38 L720.97,342.75 L723.51,340.42 L726.25,338.43 L729.14,336.81 L732.14,335.58 L735.19,334.78 L738.24,334.41 L741.24,334.48 L744.13,334.99 L747.4,335.81 L750.24,336.79 L752.88,338.19 L755.26,340 L757.35,342.18 L759.11,344.7 L760.51,347.52 L761.53,350.58 L762.15,353.83 L762.36,357.22 L762.15,360.7 L761.53,364.19 L760.51,367.64 L759.11,370.99 L757.35,374.19 L755.26,377.18 L752.88,379.91 L750.24,382.32 L747.4,384.39 L744.4,386.08 L741.29,387.34 L738.12,388.18 L734.96,388.56 L731.85,388.49 L728.85,387.96 L726.01,386.99 L723.37,385.58 L720.99,383.77 L718.9,381.59 L716.65,379.13 L714.95,376.7 L713.6,373.99 L712.62,371.04 L712.02,367.9 Z" stroke="#000" stroke-width="1.51" fill="#fff"/>
<path d="M762.36,357.22 L762.15,360.7 L761.53,364.19 L760.51,367.64 L759.11,370.99 L757.35,374.19 L755.26,377.18 L752.88,379.91 L750.24,382.32 L747.4,384.39 L744.4,386.08 L741.29,387.34 L738.12,388.18 L734.96,388.56 L731.85,388.49 L728.85,387.96 L726.01,386.99 L723.37,385.58 L720.99,383.77 L718.9,381.59 L717.14,379.07 L715.74,376.25 L714.72,373.19 L714.1,369.94 L713.89,366.55 L714.1,363.08 L714.72,359.58 L715.74,356.13 L717.14,352.78 L718.9,349.58 L720.99,346.59 L723.37,343.87 L726.01,341.45 L728.85,339.38 L731.85,337.7 L734.96,336.43 L738.12,335.59 L741.29,335.21 L744.4,335.28 L747.4,335.81 L750.24,336.79 L752.88,338.19 L755.26,340 L757.35,342.18 L759.11,344.7 L760.51,347.52 L761.53,350.58 L762.15,353.83 Z" stroke="#000" stroke-width="1.51" fill="#fff"/>
<path d="M713.89,366.55 L714.1,363.08 L714.72,359.58 L715.74,356.13 L717.14,352.78 L718.9,349.58 L720.99,346.59 L723.37,343.87 L726.01,341.45 L728.85,339.38 L731.85,337.7 L734.96,336.43 L738.12,335.59 L741.29,335.21 L744.4,335.28 L747.4,335.81 L750.24,336.79 L751.31,337.19 L753.96,338.6 L756.36,340.43 L758.47,342.63 L760.24,345.16 L761.65,348 L762.68,351.08 L763.3,354.36 L763.51,357.78 L763.3,361.27 L762.68,364.79 L761.65,368.27 L760.24,371.64 L758.47,374.87 L756.36,377.87 L753.96,380.62 L751.31,383.06 L748.44,385.14 L745.42,386.83 L742.29,388.11 L739.1,388.95 L735.92,389.34 L732.79,389.26 L729.76,388.73 L726.9,387.75 L724.24,386.34 L721.84,384.52 L720.99,383.77 L718.9,381.59 L717.14,379.07 L715.74,376.25 L714.72,373.19 L714.1,369.94 Z" stroke="#000" stroke-width="1.51" fill="#fff"/>
<path d="M763.51,357.78 L763.3,361.27 L762.68,364.79 L761.65,368.27 L760.24,371.64 L758.47,374.87 L756.36,377.87 L753.96,380.62 L751.31,383.06 L748.44,385.14 L745.42,386.83 L742.29,388.11 L739.1,388.95 L735.92,389.34 L732.79,389.26 L729.76,388.73 L726.9,387.75 L724.24,386.34 L721.84,384.52 L719.74,382.32 L717.97,379.78 L716.55,376.94 L715.53,373.86 L714.9,370.58 L714.7,367.17 L714.9,363.67 L715.53,360.15 L716.55,356.68 L717.97,353.3 L719.74,350.08 L721.84,347.07 L724.24,344.32 L726.9,341.89 L729.76,339.8 L732.79,338.11 L735.92,336.83 L739.1,335.99 L742.29,335.6 L745.42,335.68 L748.44,336.21 L751.31,337.19 L753.96,338.6 L756.36,340.43 L758.47,342.63 L760.24,345.16 L761.65,348 L762.68,351.08 L763.3,354.36 Z" stroke="#000" stroke-width="1.51" fill="#fff"/>
<path d="M714.7,367.17 L714.9,363.67 L715.53,360.15 L716.55,356.68 L717.97,353.3 L719.74,350.08 L721.84,347.07 L724.24,344.32 L726.9,341.89 L729.76,339.8 L732.79,338.11 L735.92,336.83 L739.1,335.99 L742.29,335.6 L745.42,335.68 L748.44,336.21 L751.31,337.19 L753.96,338.6 L754.81,339.11 L757.21,340.93 L759.31,343.13 L761.09,345.67 L762.5,348.51 L763.53,351.59 L764.15,354.87 L764.36,358.28 L764.15,361.78 L763.53,365.3 L762.5,368.77 L761.09,372.15 L759.31,375.37 L757.21,378.38 L754.81,381.13 L752.15,383.56 L749.29,385.65 L746.27,387.34 L743.14,388.62 L739.95,389.46 L736.76,389.84 L733.63,389.77 L730.61,389.24 L727.75,388.26 L725.09,386.84 L724.24,386.34 L721.84,384.52 L719.74,382.32 L717.97,379.78 L716.55,376.94 L715.53,373.86 L714.9,370.58 Z" stroke="#000" stroke-width="1.51" fill="#fff"/>
<path d="M764.36,358.28 L764.15,361.78 L763.53,365.3 L762.5,368.77 L761.09,372.15 L759.31,375.37 L757.21,378.38 L754.81,381.13 L752.15,383.56 L749.29,385.65 L746.27,387.34 L743.14,388.62 L739.95,389.46 L736.76,389.84 L733.63,389.77 L730.61,389.24 L727.75,388.26 L725.09,386.84 L722.69,385.02 L720.59,382.82 L718.81,380.28 L717.4,377.45 L716.38,374.37 L715.75,371.09 L715.54,367.67 L715.75,364.18 L716.38,360.66 L717.4,357.18 L718.81,353.8 L720.59,350.58 L722.69,347.57 L725.09,344.83 L727.75,342.39 L730.61,340.31 L733.63,338.62 L736.76,337.34 L739.95,336.5 L743.14,336.11 L746.27,336.19 L749.29,336.72 L752.15,337.7 L754.81,339.11 L757.21,340.93 L759.31,343.13 L761.09,345.67 L762.5,348.51 L763.53,351.59 L764.15,354.87 Z" stroke="#000" stroke-width="1.51" fill="#fff"/>
<path d="M763.61,358.43 L763.41,361.82 L762.8,365.22 L761.81,368.6 L760.44,371.87 L758.72,374.99 L756.68,377.91 L754.35,380.57 L751.78,382.93 L749,384.95 L746.07,386.59 L743.04,387.83 L739.95,388.64 L736.86,389.02 L733.83,388.95 L730.9,388.43 L728.12,387.48 L725.55,386.11 L723.22,384.34 L721.18,382.21 L719.46,379.75 L718.09,377 L717.1,374.02 L716.5,370.84 L716.29,367.53 L716.5,364.14 L717.1,360.73 L718.09,357.36 L719.46,354.09 L721.18,350.96 L723.22,348.05 L725.55,345.39 L728.12,343.03 L730.9,341.01 L733.83,339.36 L736.86,338.13 L739.95,337.31 L743.04,336.94 L746.07,337.01 L749,337.52 L751.78,338.48 L754.35,339.85 L756.68,341.61 L758.72,343.74 L760.44,346.2 L761.81,348.95 L762.8,351.94 L763.41,355.12 Z" stroke="#000" stroke-width="1.23" fill="#fff"/>
<path d="M759.14,373.2 L752.77,381.33 L759.54,379.2 Z" stroke="#000" stroke-width="1.23" fill="#fff"/>
<path d="M762.59,363.51 L759.14,373.2 L764.23,370.68 Z" stroke="#000" stroke-width="1.23" fill="#fff"/>
<path d="M752.77,381.33 L744.45,386.67 L752.52,385.64 Z" stroke="#000" stroke-width="1.23" fill="#fff"/>
<path d="M762.59,353.74 L762.59,363.51 L765.88,361.38 Z" stroke="#000" stroke-width="1.23" fill="#fff"/>
<path d="M764.23,370.68 L759.14,373.2 L759.54,379.2 Z" stroke="#000" stroke-width="1.23" fill="#fff"/>
<path d="M759.54,379.2 L752.77,381.33 L752.52,385.64 Z" stroke="#000" stroke-width="1.23" fill="#fff"/>
<path d="M765.88,361.38 L762.59,363.51 L764.23,370.68 Z" stroke="#000" stroke-width="1.23" fill="#fff"/>
<path d="M744.45,386.67 L735.45,388.4 L744.24,389.02 Z" stroke="#000" stroke-width="1.23" fill="#fff"/>
<path d="M752.52,385.64 L744.45,386.67 L744.24,389.02 Z" stroke="#000" stroke-width="1.23" fill="#fff"/>
<path d="M759.14,345.37 L762.59,353.74 L764.23,352.71 Z" stroke="#000" stroke-width="1.23" fill="#fff"/>
<path d="M764.23,352.71 L762.59,353.74 L765.88,361.38 Z" stroke="#000" stroke-width="1.23" fill="#fff"/>
<path d="M764.23,370.68 L759.54,379.2 L763.18,375.9 Z" stroke="#000" stroke-width="1.23" fill="#fff"/>
<path d="M759.54,379.2 L752.52,385.64 L758.25,382.2 Z" stroke="#000" stroke-width="1.23" fill="#fff"/>
<path d="M765.88,361.38 L764.23,370.68 L765.86,368.39 Z" stroke="#000" stroke-width="1.23" fill="#fff"/>
<path d="M744.24,389.02 L735.45,388.4 L735.96,388.82 Z" stroke="#000" stroke-width="1.23" fill="#fff"/>
<path d="M735.45,388.4 L727.13,386.26 L735.96,388.82 Z" stroke="#000" stroke-width="1.23" fill="#fff"/>
<path d="M763.18,375.9 L759.54,379.2 L758.25,382.2 Z" stroke="#000" stroke-width="1.23" fill="#fff"/>
<path d="M765.86,368.39 L764.23,370.68 L763.18,375.9 Z" stroke="#000" stroke-width="1.23" fill="#fff"/>
<path d="M759.54,346 L759.14,345.37 L764.23,352.71 Z" stroke="#000" stroke-width="1.23" fill="#fff"/>
<path d="M752.52,385.64 L744.24,389.02 L751.8,386.34 Z" stroke="#000" stroke-width="1.23" fill="#fff"/>
<path d="M752.77,339.69 L759.14,345.37 L759.54,346 Z" stroke="#000" stroke-width="1.23" fill="#fff"/>
<path d="M764.23,352.71 L765.88,361.38 L765.86,360.82 Z" stroke="#000" stroke-width="1.23" fill="#fff"/>
<path d="M758.25,382.2 L752.52,385.64 L751.8,386.34 Z" stroke="#000" stroke-width="1.23" fill="#fff"/>
<path d="M765.86,360.82 L765.88,361.38 L765.86,368.39 Z" stroke="#000" stroke-width="1.23" fill="#fff"/>
<path d="M744.24,389.02 L735.96,388.82 L744.82,387.68 Z" stroke="#000" stroke-width="1.23" fill="#fff"/>
<path d="M735.96,388.82 L727.13,386.26 L728.94,385.08 Z" stroke="#000" stroke-width="1.23" fill="#fff"/>
<path d="M751.8,386.34 L744.24,389.02 L744.82,387.68 Z" stroke="#000" stroke-width="1.23" fill="#fff"/>
<path d="M759.54,346 L764.23,352.71 L763.18,354.34 Z" stroke="#000" stroke-width="1.23" fill="#fff"/>
<path d="M727.13,386.26 L720.76,380.58 L728.94,385.08 Z" stroke="#000" stroke-width="1.23" fill="#fff"/>
<path d="M763.18,354.34 L764.23,352.71 L765.86,360.82 Z" stroke="#000" stroke-width="1.23" fill="#fff"/>
<path d="M752.52,342.26 L752.77,339.69 L759.54,346 Z" stroke="#000" stroke-width="1.23" fill="#fff"/>
<path d="M744.45,337.55 L752.77,339.69 L752.52,342.26 Z" stroke="#000" stroke-width="1.23" fill="#fff"/>
<path d="M744.82,387.68 L735.96,388.82 L738.38,386.03 Z" stroke="#000" stroke-width="1.23" fill="#fff"/>
<path d="M735.96,388.82 L728.94,385.08 L738.38,386.03 Z" stroke="#000" stroke-width="1.23" fill="#fff"/>
<path d="M753.22,370.91 L763.18,375.9 L758.25,382.2 Z" stroke="#000" stroke-width="1.23" fill="#fff"/>
<path d="M753.22,370.91 L765.86,368.39 L763.18,375.9 Z" stroke="#000" stroke-width="1.23" fill="#fff"/>
<path d="M758.25,349.93 L759.54,346 L763.18,354.34 Z" stroke="#000" stroke-width="1.23" fill="#fff"/>
<path d="M752.52,342.26 L759.54,346 L758.25,349.93 Z" stroke="#000" stroke-width="1.23" fill="#fff"/>
<path d="M728.94,385.08 L720.76,380.58 L724.25,378.37 Z" stroke="#000" stroke-width="1.23" fill="#fff"/>
<path d="M720.76,380.58 L717.31,372.22 L724.25,378.37 Z" stroke="#000" stroke-width="1.23" fill="#fff"/>
<path d="M753.22,370.91 L758.25,382.2 L751.8,386.34 Z" stroke="#000" stroke-width="1.23" fill="#fff"/>
<path d="M753.22,370.91 L765.86,360.82 L765.86,368.39 Z" stroke="#000" stroke-width="1.23" fill="#fff"/>
<path d="M744.24,342.07 L744.45,337.55 L752.52,342.26 Z" stroke="#000" stroke-width="1.23" fill="#fff"/>
<path d="M735.45,339.29 L744.45,337.55 L744.24,342.07 Z" stroke="#000" stroke-width="1.23" fill="#fff"/>
<path d="M753.22,370.91 L751.8,386.34 L744.82,387.68 Z" stroke="#000" stroke-width="1.23" fill="#fff"/>
<path d="M753.22,370.91 L763.18,354.34 L765.86,360.82 Z" stroke="#000" stroke-width="1.23" fill="#fff"/>
<path d="M738.38,386.03 L728.94,385.08 L733.44,381.62 Z" stroke="#000" stroke-width="1.23" fill="#fff"/>
<path d="M728.94,385.08 L724.25,378.37 L733.44,381.62 Z" stroke="#000" stroke-width="1.23" fill="#fff"/>
<path d="M717.31,372.22 L717.31,362.45 L722.6,369.7 Z" stroke="#000" stroke-width="1.23" fill="#fff"/>
<path d="M751.8,348.28 L752.52,342.26 L758.25,349.93 Z" stroke="#000" stroke-width="1.23" fill="#fff"/>
<path d="M724.25,378.37 L717.31,372.22 L722.6,369.7 Z" stroke="#000" stroke-width="1.23" fill="#fff"/>
<path d="M727.13,344.62 L735.45,339.29 L735.96,345.45 Z" stroke="#000" stroke-width="1.23" fill="#fff"/>
<path d="M744.24,342.07 L752.52,342.26 L751.8,348.28 Z" stroke="#000" stroke-width="1.23" fill="#fff"/>
<path d="M753.22,370.91 L744.82,387.68 L738.38,386.03 Z" stroke="#000" stroke-width="1.23" fill="#fff"/>
<path d="M735.96,345.45 L735.45,339.29 L744.24,342.07 Z" stroke="#000" stroke-width="1.23" fill="#fff"/>
<path d="M753.22,370.91 L758.25,349.93 L763.18,354.34 Z" stroke="#000" stroke-width="1.23" fill="#fff"/>
<path d="M717.31,362.45 L720.76,352.76 L724.25,360.4 Z" stroke="#000" stroke-width="1.23" fill="#fff"/>
<path d="M720.76,352.76 L727.13,344.62 L728.94,351.89 Z" stroke="#000" stroke-width="1.23" fill="#fff"/>
<path d="M722.6,369.7 L717.31,362.45 L724.25,360.4 Z" stroke="#000" stroke-width="1.23" fill="#fff"/>
<path d="M753.22,370.91 L738.38,386.03 L733.44,381.62 Z" stroke="#000" stroke-width="1.23" fill="#fff"/>
<path d="M728.94,351.89 L727.13,344.62 L735.96,345.45 Z" stroke="#000" stroke-width="1.23" fill="#fff"/>
<path d="M733.44,381.62 L724.25,378.37 L730.77,375.14 Z" stroke="#000" stroke-width="1.23" fill="#fff"/>
<path d="M753.22,370.91 L751.8,348.28 L758.25,349.93 Z" stroke="#000" stroke-width="1.23" fill="#fff"/>
<path d="M724.25,378.37 L722.6,369.7 L730.77,375.14 Z" stroke="#000" stroke-width="1.23" fill="#fff"/>
<path d="M744.82,349.62 L744.24,342.07 L751.8,348.28 Z" stroke="#000" stroke-width="1.23" fill="#fff"/>
<path d="M735.96,345.45 L744.24,342.07 L744.82,349.62 Z" stroke="#000" stroke-width="1.23" fill="#fff"/>
<path d="M724.25,360.4 L720.76,352.76 L728.94,351.89 Z" stroke="#000" stroke-width="1.23" fill="#fff"/>
<path d="M753.22,370.91 L733.44,381.62 L730.77,375.14 Z" stroke="#000" stroke-width="1.23" fill="#fff"/>
<path d="M753.22,370.91 L744.82,349.62 L751.8,348.28 Z" stroke="#000" stroke-width="1.23" fill="#fff"/>
<path d="M722.6,369.7 L724.25,360.4 L730.77,367.57 Z" stroke="#000" stroke-width="1.23" fill="#fff"/>
<path d="M728.94,351.89 L735.96,345.45 L738.38,353.76 Z" stroke="#000" stroke-width="1.23" fill="#fff"/>
<path d="M730.77,375.14 L722.6,369.7 L730.77,367.57 Z" stroke="#000" stroke-width="1.23" fill="#fff"/>
<path d="M738.38,353.76 L735.96,345.45 L744.82,349.62 Z" stroke="#000" stroke-width="1.23" fill="#fff"/>
<path d="M724.25,360.4 L728.94,351.89 L733.44,360.06 Z" stroke="#000" stroke-width="1.23" fill="#fff"/>
<path d="M753.22,370.91 L730.77,375.14 L730.77,367.57 Z" stroke="#000" stroke-width="1.23" fill="#fff"/>
<path d="M753.22,370.91 L738.38,353.76 L744.82,349.62 Z" stroke="#000" stroke-width="1.23" fill="#fff"/>
<path d="M730.77,367.57 L724.25,360.4 L733.44,360.06 Z" stroke="#000" stroke-width="1.23" fill="#fff"/>
<path d="M733.44,360.06 L728.94,351.89 L738.38,353.76 Z" stroke="#000" stroke-width="1.23" fill="#fff"/>
<path d="M753.22,370.91 L730.77,367.57 L733.44,360.06 Z" stroke="#000" stroke-width="1.23" fill="#fff"/>
<path d="M753.22,370.91 L733.44,360.06 L738.38,353.76 Z" stroke="#000" stroke-width="1.23" fill="#fff"/>
<circle cx="753.22" cy="370.91" r="1.5" stroke="#000" stroke-width="0" fill="#000"/></svg></body></html>
